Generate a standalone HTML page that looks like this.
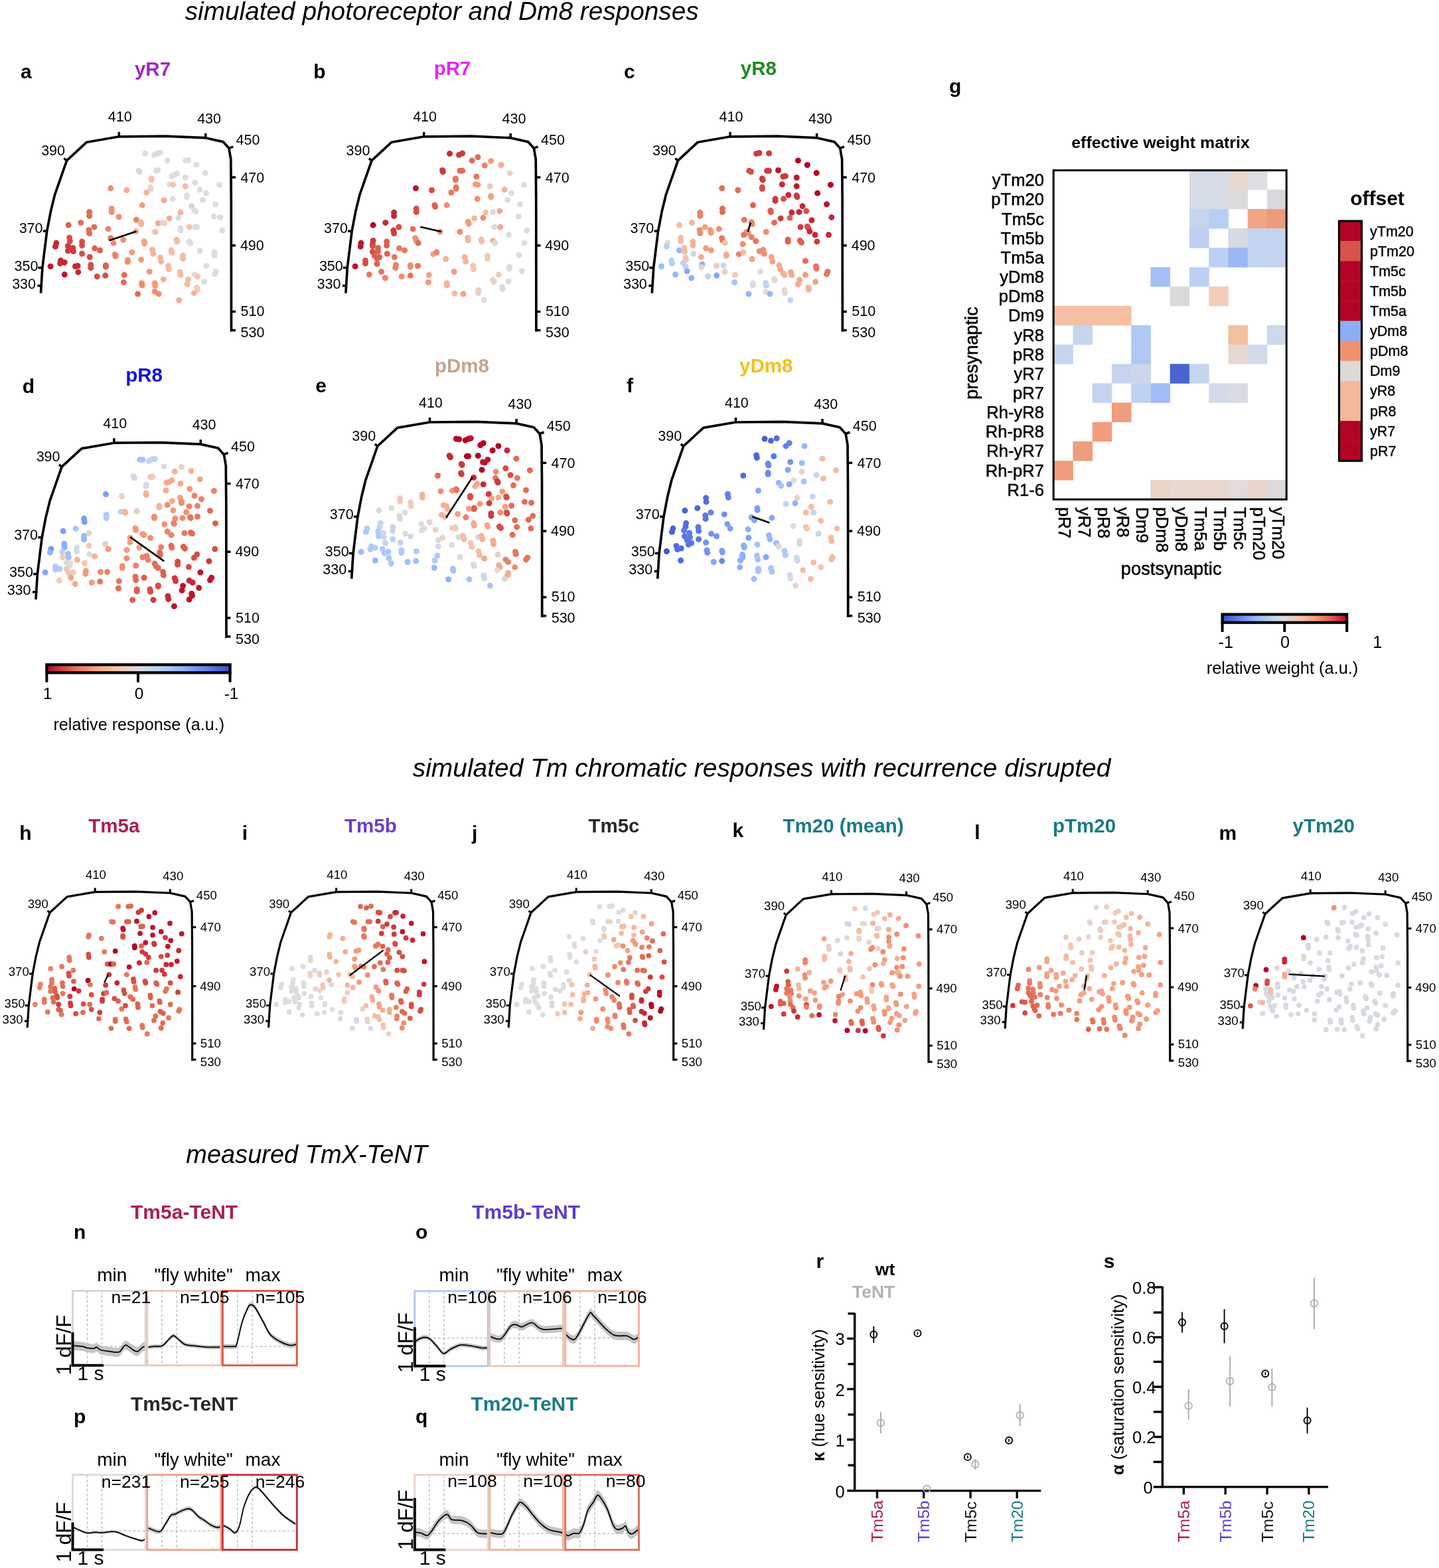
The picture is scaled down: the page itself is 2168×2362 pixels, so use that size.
<!DOCTYPE html>
<html><head><meta charset="utf-8"><style>
html,body{margin:0;padding:0;background:#fff;}
svg{display:block;}
text{font-family:'Liberation Sans', Arial, Helvetica, sans-serif;}
</style></head><body>
<svg xmlns="http://www.w3.org/2000/svg" width="2168" height="2362" viewBox="0 0 2168 2362">
<rect width="2168" height="2362" fill="#fff"/>
<text x="278.7" y="30.0" font-size="38.5" text-anchor="start" font-style="italic" textLength="774" lengthAdjust="spacingAndGlyphs">simulated photoreceptor and Dm8 responses</text>
<text x="621.7" y="1170.4" font-size="38.5" text-anchor="start" font-style="italic" textLength="1051.7" lengthAdjust="spacingAndGlyphs">simulated Tm chromatic responses with recurrence disrupted</text>
<text x="280.3" y="1752.0" font-size="38.5" text-anchor="start" font-style="italic" textLength="363.7" lengthAdjust="spacingAndGlyphs">measured TmX-TeNT</text>
<g transform="translate(0.00,0.00) scale(1)">
<polyline points="61.5,441.6 63.9,403.3 70.7,348.4 76.5,318 82.5,293.5 100.6,241.8 130.6,214.2 179.3,205.8 250.4,205.2 309.8,207.7 336.1,213.6 344.9,223.3 347.8,239.9 348.3,300 348.5,499.6" fill="none" stroke="#000" stroke-width="3.7" stroke-linejoin="round"/>
<line x1="100.6" y1="241.8" x2="96.5" y2="238.6" stroke="#000" stroke-width="3.5"/>
<line x1="179.3" y1="205.8" x2="179.3" y2="198.8" stroke="#000" stroke-width="3.5"/>
<line x1="309.8" y1="207.7" x2="309.8" y2="200.8" stroke="#000" stroke-width="3.5"/>
<line x1="344.9" y1="223.3" x2="351.2" y2="220.8" stroke="#000" stroke-width="3.5"/>
<line x1="348.3" y1="267.1" x2="355" y2="267.1" stroke="#000" stroke-width="3.5"/>
<line x1="348.4" y1="369.8" x2="355" y2="369.8" stroke="#000" stroke-width="3.5"/>
<line x1="348.5" y1="469.4" x2="355" y2="469.4" stroke="#000" stroke-width="3.5"/>
<line x1="348.5" y1="497.5" x2="355" y2="497.5" stroke="#000" stroke-width="3.5"/>
<line x1="69.6" y1="348.1" x2="64.8" y2="348.1" stroke="#000" stroke-width="3.5"/>
<line x1="63.9" y1="403.3" x2="57.5" y2="403.3" stroke="#000" stroke-width="3.5"/>
<line x1="61.8" y1="430.4" x2="56.5" y2="430.4" stroke="#000" stroke-width="3.5"/>
<text x="180.7" y="183.4" font-size="21.5" text-anchor="middle">410</text>
<text x="315.1" y="185.7" font-size="21.5" text-anchor="middle">430</text>
<text x="355.6" y="218.4" font-size="21.5" text-anchor="start">450</text>
<text x="362.4" y="274.5" font-size="21.5" text-anchor="start">470</text>
<text x="361.9" y="376.7" font-size="21.5" text-anchor="start">490</text>
<text x="362.5" y="476.3" font-size="21.5" text-anchor="start">510</text>
<text x="362.5" y="508.3" font-size="21.5" text-anchor="start">530</text>
<text x="98.0" y="233.6" font-size="21.5" text-anchor="end">390</text>
<text x="64.5" y="351.4" font-size="21.5" text-anchor="end">370</text>
<text x="57.4" y="407.7" font-size="21.5" text-anchor="end">350</text>
<text x="54.0" y="434.7" font-size="21.5" text-anchor="end">330</text>
<circle cx="218.6" cy="231.4" r="4.5" fill="#dddddd"/>
<circle cx="232.5" cy="233.2" r="4.5" fill="#dddddd"/>
<circle cx="236.8" cy="231.0" r="4.5" fill="#dddddd"/>
<circle cx="241.2" cy="229.9" r="4.5" fill="#dddddd"/>
<circle cx="252.2" cy="241.9" r="4.5" fill="#dddddd"/>
<circle cx="279.9" cy="241.9" r="4.5" fill="#dddddd"/>
<circle cx="283.6" cy="241.2" r="4.5" fill="#dddddd"/>
<circle cx="296.0" cy="248.1" r="4.5" fill="#dddddd"/>
<circle cx="209.1" cy="257.3" r="4.5" fill="#e2d8d3"/>
<circle cx="210.5" cy="258.7" r="4.5" fill="#e2d8d3"/>
<circle cx="235.4" cy="257.3" r="4.5" fill="#dddddd"/>
<circle cx="237.6" cy="256.5" r="4.5" fill="#dddddd"/>
<circle cx="309.2" cy="260.6" r="4.5" fill="#dddddd"/>
<circle cx="258.8" cy="265.3" r="4.5" fill="#dddddd"/>
<circle cx="262.4" cy="263.8" r="4.5" fill="#dddddd"/>
<circle cx="266.8" cy="261.6" r="4.5" fill="#dddddd"/>
<circle cx="279.2" cy="267.5" r="4.5" fill="#dddddd"/>
<circle cx="228.1" cy="268.9" r="4.5" fill="#f5c4ad"/>
<circle cx="228.1" cy="271.1" r="4.5" fill="#f5c4ad"/>
<circle cx="293.8" cy="275.2" r="4.5" fill="#dddddd"/>
<circle cx="255.8" cy="277.7" r="4.5" fill="#dddddd"/>
<circle cx="260.9" cy="278.4" r="4.5" fill="#f5c4ad"/>
<circle cx="279.2" cy="280.6" r="4.5" fill="#f5bca3"/>
<circle cx="330.4" cy="278.4" r="4.5" fill="#dddddd"/>
<circle cx="226.6" cy="282.1" r="4.5" fill="#e2d8d3"/>
<circle cx="227.3" cy="285.0" r="4.5" fill="#e2d8d3"/>
<circle cx="166.7" cy="283.6" r="4.5" fill="#f08e72"/>
<circle cx="190.8" cy="286.5" r="4.5" fill="#f4ab8f"/>
<circle cx="301.1" cy="285.8" r="4.5" fill="#dddddd"/>
<circle cx="310.6" cy="290.9" r="4.5" fill="#dddddd"/>
<circle cx="220.8" cy="290.1" r="4.5" fill="#f5b399"/>
<circle cx="281.4" cy="294.5" r="4.5" fill="#dddddd"/>
<circle cx="281.4" cy="296.7" r="4.5" fill="#dddddd"/>
<circle cx="260.2" cy="299.6" r="4.5" fill="#dddddd"/>
<circle cx="247.1" cy="301.8" r="4.5" fill="#f4ab8f"/>
<circle cx="305.5" cy="301.1" r="4.5" fill="#dddddd"/>
<circle cx="214.2" cy="309.1" r="4.5" fill="#f49a7b"/>
<circle cx="324.5" cy="307.7" r="4.5" fill="#dddddd"/>
<circle cx="288.7" cy="310.6" r="4.5" fill="#e7d3ca"/>
<circle cx="168.2" cy="314.2" r="4.5" fill="#f08e72"/>
<circle cx="168.2" cy="319.4" r="4.5" fill="#f08e72"/>
<circle cx="293.1" cy="317.2" r="4.5" fill="#dddddd"/>
<circle cx="295.3" cy="318.6" r="4.5" fill="#dddddd"/>
<circle cx="271.9" cy="320.1" r="4.5" fill="#f5b399"/>
<circle cx="134.6" cy="319.4" r="4.5" fill="#e26c56"/>
<circle cx="134.6" cy="325.2" r="4.5" fill="#e26c56"/>
<circle cx="179.1" cy="326.7" r="4.5" fill="#f08e72"/>
<circle cx="322.3" cy="325.9" r="4.5" fill="#dddddd"/>
<circle cx="331.8" cy="327.4" r="4.5" fill="#dddddd"/>
<circle cx="255.1" cy="328.9" r="4.5" fill="#f4ab8f"/>
<circle cx="269.0" cy="328.1" r="4.5" fill="#d6dae3"/>
<circle cx="205.4" cy="331.0" r="4.5" fill="#eb8369"/>
<circle cx="212.0" cy="334.7" r="4.5" fill="#f5b399"/>
<circle cx="212.7" cy="337.6" r="4.5" fill="#f5b399"/>
<circle cx="238.3" cy="336.2" r="4.5" fill="#f4ab8f"/>
<circle cx="244.9" cy="335.4" r="4.5" fill="#e7d3ca"/>
<circle cx="247.8" cy="336.2" r="4.5" fill="#e7d3ca"/>
<circle cx="103.1" cy="339.1" r="4.5" fill="#de604d"/>
<circle cx="121.8" cy="335.4" r="4.5" fill="#e26c56"/>
<circle cx="141.9" cy="342.0" r="4.5" fill="#e26c56"/>
<circle cx="163.1" cy="344.9" r="4.5" fill="#eb8369"/>
<circle cx="133.8" cy="346.4" r="4.5" fill="#e26c56"/>
<circle cx="134.6" cy="351.5" r="4.5" fill="#e26c56"/>
<circle cx="285.1" cy="342.0" r="4.5" fill="#f5c4ad"/>
<circle cx="293.8" cy="342.0" r="4.5" fill="#dddddd"/>
<circle cx="296.7" cy="342.0" r="4.5" fill="#dddddd"/>
<circle cx="271.9" cy="343.5" r="4.5" fill="#dddddd"/>
<circle cx="271.9" cy="347.1" r="4.5" fill="#dddddd"/>
<circle cx="334.7" cy="347.1" r="4.5" fill="#dddddd"/>
<circle cx="204.7" cy="348.6" r="4.5" fill="#f4ab8f"/>
<circle cx="233.9" cy="349.3" r="4.5" fill="#f5bca3"/>
<circle cx="104.6" cy="358.1" r="4.5" fill="#d64e45"/>
<circle cx="105.3" cy="363.2" r="4.5" fill="#d64e45"/>
<circle cx="166.7" cy="358.8" r="4.5" fill="#e7775f"/>
<circle cx="185.7" cy="361.0" r="4.5" fill="#f08e72"/>
<circle cx="84.9" cy="366.1" r="4.5" fill="#c52936"/>
<circle cx="83.4" cy="371.2" r="4.5" fill="#c52936"/>
<circle cx="123.6" cy="363.9" r="4.5" fill="#d64e45"/>
<circle cx="123.6" cy="369.8" r="4.5" fill="#d64e45"/>
<circle cx="171.1" cy="366.1" r="4.5" fill="#f08e72"/>
<circle cx="217.1" cy="363.9" r="4.5" fill="#f4a285"/>
<circle cx="217.8" cy="366.8" r="4.5" fill="#f4a285"/>
<circle cx="266.1" cy="361.0" r="4.5" fill="#f5bca3"/>
<circle cx="266.8" cy="363.9" r="4.5" fill="#f5bca3"/>
<circle cx="285.1" cy="363.9" r="4.5" fill="#dddddd"/>
<circle cx="286.5" cy="366.1" r="4.5" fill="#dddddd"/>
<circle cx="102.4" cy="370.5" r="4.5" fill="#cd3b3d"/>
<circle cx="102.4" cy="377.8" r="4.5" fill="#cd3b3d"/>
<circle cx="109.7" cy="373.4" r="4.5" fill="#cd3b3d"/>
<circle cx="110.5" cy="378.5" r="4.5" fill="#cd3b3d"/>
<circle cx="142.6" cy="374.1" r="4.5" fill="#de604d"/>
<circle cx="150.6" cy="377.1" r="4.5" fill="#de604d"/>
<circle cx="198.8" cy="380.0" r="4.5" fill="#f49a7b"/>
<circle cx="229.5" cy="376.3" r="4.5" fill="#f5b399"/>
<circle cx="231.0" cy="382.2" r="4.5" fill="#f5b399"/>
<circle cx="258.0" cy="377.1" r="4.5" fill="#f5bca3"/>
<circle cx="258.8" cy="380.7" r="4.5" fill="#f5bca3"/>
<circle cx="301.1" cy="377.8" r="4.5" fill="#dddddd"/>
<circle cx="323.0" cy="380.0" r="4.5" fill="#dddddd"/>
<circle cx="323.0" cy="385.1" r="4.5" fill="#dddddd"/>
<circle cx="123.6" cy="382.2" r="4.5" fill="#d64e45"/>
<circle cx="135.3" cy="387.3" r="4.5" fill="#d64e45"/>
<circle cx="173.3" cy="383.6" r="4.5" fill="#eb8369"/>
<circle cx="174.0" cy="385.8" r="4.5" fill="#eb8369"/>
<circle cx="241.2" cy="388.0" r="4.5" fill="#f5b399"/>
<circle cx="242.7" cy="393.9" r="4.5" fill="#f5b399"/>
<circle cx="275.6" cy="385.1" r="4.5" fill="#f5bca3"/>
<circle cx="275.6" cy="389.5" r="4.5" fill="#f5bca3"/>
<circle cx="91.5" cy="392.4" r="4.5" fill="#c52936"/>
<circle cx="97.3" cy="395.3" r="4.5" fill="#c52936"/>
<circle cx="90.7" cy="396.8" r="4.5" fill="#c52936"/>
<circle cx="192.3" cy="391.7" r="4.5" fill="#f08e72"/>
<circle cx="192.3" cy="394.6" r="4.5" fill="#f08e72"/>
<circle cx="212.7" cy="391.0" r="4.5" fill="#f49a7b"/>
<circle cx="76.1" cy="401.2" r="4.5" fill="#bc162e"/>
<circle cx="113.4" cy="401.2" r="4.5" fill="#c52936"/>
<circle cx="117.0" cy="400.5" r="4.5" fill="#c52936"/>
<circle cx="117.8" cy="409.9" r="4.5" fill="#c52936"/>
<circle cx="136.8" cy="399.0" r="4.5" fill="#d64e45"/>
<circle cx="136.8" cy="403.4" r="4.5" fill="#d64e45"/>
<circle cx="159.4" cy="399.7" r="4.5" fill="#de604d"/>
<circle cx="159.4" cy="401.9" r="4.5" fill="#de604d"/>
<circle cx="253.6" cy="400.5" r="4.5" fill="#f5bca3"/>
<circle cx="254.4" cy="405.6" r="4.5" fill="#f5bca3"/>
<circle cx="310.6" cy="400.5" r="4.5" fill="#dddddd"/>
<circle cx="225.1" cy="409.2" r="4.5" fill="#f49a7b"/>
<circle cx="271.2" cy="409.9" r="4.5" fill="#f5bca3"/>
<circle cx="271.9" cy="414.3" r="4.5" fill="#f5bca3"/>
<circle cx="325.2" cy="409.2" r="4.5" fill="#dddddd"/>
<circle cx="323.8" cy="412.9" r="4.5" fill="#dddddd"/>
<circle cx="293.1" cy="413.6" r="4.5" fill="#dddddd"/>
<circle cx="297.5" cy="416.5" r="4.5" fill="#f5c4ad"/>
<circle cx="97.3" cy="413.6" r="4.5" fill="#bc162e"/>
<circle cx="146.2" cy="416.5" r="4.5" fill="#d64e45"/>
<circle cx="158.7" cy="415.1" r="4.5" fill="#d64e45"/>
<circle cx="187.2" cy="414.3" r="4.5" fill="#e26c56"/>
<circle cx="186.4" cy="425.3" r="4.5" fill="#e26c56"/>
<circle cx="246.3" cy="420.9" r="4.5" fill="#f5b399"/>
<circle cx="307.7" cy="424.6" r="4.5" fill="#dddddd"/>
<circle cx="213.5" cy="426.8" r="4.5" fill="#f08e72"/>
<circle cx="214.2" cy="429.7" r="4.5" fill="#f08e72"/>
<circle cx="233.2" cy="426.8" r="4.5" fill="#f49a7b"/>
<circle cx="233.9" cy="430.4" r="4.5" fill="#f49a7b"/>
<circle cx="283.6" cy="420.9" r="4.5" fill="#f5bca3"/>
<circle cx="282.1" cy="428.2" r="4.5" fill="#f5bca3"/>
<circle cx="207.6" cy="442.8" r="4.5" fill="#e26c56"/>
<circle cx="233.2" cy="439.2" r="4.5" fill="#f08e72"/>
<circle cx="239.0" cy="442.8" r="4.5" fill="#f08e72"/>
<circle cx="296.7" cy="433.3" r="4.5" fill="#ebcec0"/>
<circle cx="297.5" cy="436.2" r="4.5" fill="#ebcec0"/>
<circle cx="292.4" cy="441.4" r="4.5" fill="#f5b399"/>
<circle cx="269.7" cy="452.3" r="4.5" fill="#f4ab8f"/>
<line x1="164.5" y1="362.2" x2="205.6" y2="348.6" stroke="#000" stroke-width="2.6"/>
</g>
<g transform="translate(459.40,0.00) scale(1)">
<polyline points="61.5,441.6 63.9,403.3 70.7,348.4 76.5,318 82.5,293.5 100.6,241.8 130.6,214.2 179.3,205.8 250.4,205.2 309.8,207.7 336.1,213.6 344.9,223.3 347.8,239.9 348.3,300 348.5,499.6" fill="none" stroke="#000" stroke-width="3.7" stroke-linejoin="round"/>
<line x1="100.6" y1="241.8" x2="96.5" y2="238.6" stroke="#000" stroke-width="3.5"/>
<line x1="179.3" y1="205.8" x2="179.3" y2="198.8" stroke="#000" stroke-width="3.5"/>
<line x1="309.8" y1="207.7" x2="309.8" y2="200.8" stroke="#000" stroke-width="3.5"/>
<line x1="344.9" y1="223.3" x2="351.2" y2="220.8" stroke="#000" stroke-width="3.5"/>
<line x1="348.3" y1="267.1" x2="355" y2="267.1" stroke="#000" stroke-width="3.5"/>
<line x1="348.4" y1="369.8" x2="355" y2="369.8" stroke="#000" stroke-width="3.5"/>
<line x1="348.5" y1="469.4" x2="355" y2="469.4" stroke="#000" stroke-width="3.5"/>
<line x1="348.5" y1="497.5" x2="355" y2="497.5" stroke="#000" stroke-width="3.5"/>
<line x1="69.6" y1="348.1" x2="64.8" y2="348.1" stroke="#000" stroke-width="3.5"/>
<line x1="63.9" y1="403.3" x2="57.5" y2="403.3" stroke="#000" stroke-width="3.5"/>
<line x1="61.8" y1="430.4" x2="56.5" y2="430.4" stroke="#000" stroke-width="3.5"/>
<text x="180.7" y="183.4" font-size="21.5" text-anchor="middle">410</text>
<text x="315.1" y="185.7" font-size="21.5" text-anchor="middle">430</text>
<text x="355.6" y="218.4" font-size="21.5" text-anchor="start">450</text>
<text x="362.4" y="274.5" font-size="21.5" text-anchor="start">470</text>
<text x="361.9" y="376.7" font-size="21.5" text-anchor="start">490</text>
<text x="362.5" y="476.3" font-size="21.5" text-anchor="start">510</text>
<text x="362.5" y="508.3" font-size="21.5" text-anchor="start">530</text>
<text x="98.0" y="233.6" font-size="21.5" text-anchor="end">390</text>
<text x="64.5" y="351.4" font-size="21.5" text-anchor="end">370</text>
<text x="57.4" y="407.7" font-size="21.5" text-anchor="end">350</text>
<text x="54.0" y="434.7" font-size="21.5" text-anchor="end">330</text>
<circle cx="218.2" cy="231.4" r="4.5" fill="#c52936"/>
<circle cx="232.1" cy="233.2" r="4.5" fill="#cd3b3d"/>
<circle cx="237.2" cy="231.0" r="4.5" fill="#cd3b3d"/>
<circle cx="251.8" cy="241.9" r="4.5" fill="#e26c56"/>
<circle cx="260.5" cy="236.8" r="4.5" fill="#e26c56"/>
<circle cx="280.3" cy="242.6" r="4.5" fill="#f49a7b"/>
<circle cx="270.8" cy="249.2" r="4.5" fill="#eb8369"/>
<circle cx="295.6" cy="248.5" r="4.5" fill="#f4ab8f"/>
<circle cx="207.2" cy="256.5" r="4.5" fill="#cd3b3d"/>
<circle cx="207.9" cy="258.7" r="4.5" fill="#cd3b3d"/>
<circle cx="233.5" cy="257.3" r="4.5" fill="#e26c56"/>
<circle cx="237.2" cy="257.3" r="4.5" fill="#e26c56"/>
<circle cx="308.8" cy="260.9" r="4.5" fill="#e7d3ca"/>
<circle cx="258.4" cy="266.0" r="4.5" fill="#e7775f"/>
<circle cx="226.9" cy="268.9" r="4.5" fill="#e7775f"/>
<circle cx="226.9" cy="271.1" r="4.5" fill="#e7775f"/>
<circle cx="256.9" cy="277.7" r="4.5" fill="#f49a7b"/>
<circle cx="260.5" cy="278.4" r="4.5" fill="#f49a7b"/>
<circle cx="278.8" cy="280.6" r="4.5" fill="#f0c9b7"/>
<circle cx="330.0" cy="278.4" r="4.5" fill="#dddddd"/>
<circle cx="167.0" cy="283.6" r="4.5" fill="#bc162e"/>
<circle cx="191.1" cy="286.5" r="4.5" fill="#d64e45"/>
<circle cx="227.7" cy="282.1" r="4.5" fill="#e7775f"/>
<circle cx="227.7" cy="284.3" r="4.5" fill="#e7775f"/>
<circle cx="300.7" cy="285.8" r="4.5" fill="#f5b399"/>
<circle cx="311.0" cy="290.9" r="4.5" fill="#dddddd"/>
<circle cx="220.4" cy="290.1" r="4.5" fill="#e7775f"/>
<circle cx="280.3" cy="295.2" r="4.5" fill="#f4a285"/>
<circle cx="280.3" cy="296.7" r="4.5" fill="#f4a285"/>
<circle cx="259.8" cy="299.6" r="4.5" fill="#f08e72"/>
<circle cx="305.1" cy="301.1" r="4.5" fill="#dddddd"/>
<circle cx="195.5" cy="309.1" r="4.5" fill="#de604d"/>
<circle cx="196.3" cy="311.3" r="4.5" fill="#de604d"/>
<circle cx="213.8" cy="309.1" r="4.5" fill="#f08e72"/>
<circle cx="324.1" cy="307.7" r="4.5" fill="#dddddd"/>
<circle cx="167.8" cy="314.2" r="4.5" fill="#d64e45"/>
<circle cx="167.8" cy="319.4" r="4.5" fill="#d64e45"/>
<circle cx="134.2" cy="320.1" r="4.5" fill="#c52936"/>
<circle cx="134.2" cy="325.2" r="4.5" fill="#c52936"/>
<circle cx="272.2" cy="320.1" r="4.5" fill="#f5c4ad"/>
<circle cx="283.2" cy="319.4" r="4.5" fill="#d6dae3"/>
<circle cx="293.4" cy="317.9" r="4.5" fill="#f4ab8f"/>
<circle cx="321.9" cy="325.9" r="4.5" fill="#dddddd"/>
<circle cx="255.4" cy="328.9" r="4.5" fill="#f5b399"/>
<circle cx="268.6" cy="328.1" r="4.5" fill="#f08e72"/>
<circle cx="245.9" cy="334.0" r="4.5" fill="#f49a7b"/>
<circle cx="246.7" cy="336.9" r="4.5" fill="#f49a7b"/>
<circle cx="102.7" cy="339.1" r="4.5" fill="#b40426"/>
<circle cx="121.4" cy="335.4" r="4.5" fill="#c52936"/>
<circle cx="141.5" cy="342.0" r="4.5" fill="#d64e45"/>
<circle cx="162.7" cy="344.9" r="4.5" fill="#e26c56"/>
<circle cx="133.4" cy="347.1" r="4.5" fill="#cd3b3d"/>
<circle cx="134.2" cy="351.5" r="4.5" fill="#cd3b3d"/>
<circle cx="285.4" cy="342.0" r="4.5" fill="#dddddd"/>
<circle cx="294.2" cy="342.0" r="4.5" fill="#f4ab8f"/>
<circle cx="334.3" cy="347.1" r="4.5" fill="#dddddd"/>
<circle cx="203.6" cy="349.3" r="4.5" fill="#f49a7b"/>
<circle cx="233.5" cy="349.3" r="4.5" fill="#f08e72"/>
<circle cx="307.3" cy="353.7" r="4.5" fill="#dddddd"/>
<circle cx="102.7" cy="362.5" r="4.5" fill="#cd3b3d"/>
<circle cx="102.0" cy="367.6" r="4.5" fill="#cd3b3d"/>
<circle cx="84.5" cy="366.1" r="4.5" fill="#bc162e"/>
<circle cx="83.8" cy="371.2" r="4.5" fill="#bc162e"/>
<circle cx="123.2" cy="363.9" r="4.5" fill="#de604d"/>
<circle cx="123.2" cy="369.8" r="4.5" fill="#de604d"/>
<circle cx="166.3" cy="358.8" r="4.5" fill="#f08e72"/>
<circle cx="167.8" cy="362.5" r="4.5" fill="#f08e72"/>
<circle cx="170.7" cy="366.1" r="4.5" fill="#e26c56"/>
<circle cx="245.2" cy="358.1" r="4.5" fill="#f5b399"/>
<circle cx="245.9" cy="361.7" r="4.5" fill="#f5b399"/>
<circle cx="265.7" cy="361.0" r="4.5" fill="#f5bca3"/>
<circle cx="266.4" cy="363.9" r="4.5" fill="#f5bca3"/>
<circle cx="283.2" cy="362.5" r="4.5" fill="#f5b399"/>
<circle cx="286.1" cy="366.1" r="4.5" fill="#e2d8d3"/>
<circle cx="330.7" cy="366.1" r="4.5" fill="#dddddd"/>
<circle cx="102.0" cy="370.5" r="4.5" fill="#d64e45"/>
<circle cx="102.0" cy="379.3" r="4.5" fill="#d64e45"/>
<circle cx="110.1" cy="373.4" r="4.5" fill="#de604d"/>
<circle cx="110.1" cy="378.5" r="4.5" fill="#de604d"/>
<circle cx="142.2" cy="374.1" r="4.5" fill="#e7775f"/>
<circle cx="150.2" cy="377.1" r="4.5" fill="#e7775f"/>
<circle cx="123.9" cy="382.2" r="4.5" fill="#de604d"/>
<circle cx="134.9" cy="387.3" r="4.5" fill="#e7775f"/>
<circle cx="193.3" cy="382.9" r="4.5" fill="#f4a285"/>
<circle cx="198.4" cy="380.0" r="4.5" fill="#eb8369"/>
<circle cx="212.3" cy="390.2" r="4.5" fill="#f5b399"/>
<circle cx="240.8" cy="387.3" r="4.5" fill="#f5b399"/>
<circle cx="242.3" cy="393.9" r="4.5" fill="#f5b399"/>
<circle cx="275.2" cy="385.1" r="4.5" fill="#ebcec0"/>
<circle cx="275.2" cy="389.5" r="4.5" fill="#ebcec0"/>
<circle cx="322.6" cy="384.4" r="4.5" fill="#dddddd"/>
<circle cx="91.1" cy="392.4" r="4.5" fill="#d64e45"/>
<circle cx="91.1" cy="396.8" r="4.5" fill="#d64e45"/>
<circle cx="104.9" cy="385.1" r="4.5" fill="#de604d"/>
<circle cx="108.6" cy="389.5" r="4.5" fill="#de604d"/>
<circle cx="112.2" cy="387.3" r="4.5" fill="#de604d"/>
<circle cx="108.6" cy="397.5" r="4.5" fill="#de604d"/>
<circle cx="75.7" cy="401.2" r="4.5" fill="#bc162e"/>
<circle cx="137.1" cy="399.0" r="4.5" fill="#eb8369"/>
<circle cx="136.4" cy="403.4" r="4.5" fill="#eb8369"/>
<circle cx="159.0" cy="399.7" r="4.5" fill="#f08e72"/>
<circle cx="159.0" cy="401.9" r="4.5" fill="#f08e72"/>
<circle cx="170.0" cy="400.5" r="4.5" fill="#e7775f"/>
<circle cx="253.2" cy="400.5" r="4.5" fill="#f5c4ad"/>
<circle cx="254.0" cy="405.6" r="4.5" fill="#f5c4ad"/>
<circle cx="308.0" cy="401.9" r="4.5" fill="#dddddd"/>
<circle cx="308.0" cy="404.8" r="4.5" fill="#dddddd"/>
<circle cx="224.7" cy="409.2" r="4.5" fill="#f49a7b"/>
<circle cx="327.0" cy="408.5" r="4.5" fill="#dddddd"/>
<circle cx="115.2" cy="409.2" r="4.5" fill="#e7775f"/>
<circle cx="96.9" cy="413.6" r="4.5" fill="#e7775f"/>
<circle cx="121.0" cy="418.7" r="4.5" fill="#eb8369"/>
<circle cx="145.8" cy="416.5" r="4.5" fill="#f08e72"/>
<circle cx="159.0" cy="415.1" r="4.5" fill="#e7775f"/>
<circle cx="186.8" cy="414.3" r="4.5" fill="#f4a285"/>
<circle cx="186.0" cy="425.3" r="4.5" fill="#f49a7b"/>
<circle cx="292.0" cy="413.6" r="4.5" fill="#ebcec0"/>
<circle cx="213.8" cy="426.8" r="4.5" fill="#f5b399"/>
<circle cx="213.8" cy="429.7" r="4.5" fill="#f5b399"/>
<circle cx="283.2" cy="421.6" r="4.5" fill="#e7d3ca"/>
<circle cx="284.7" cy="424.6" r="4.5" fill="#e7d3ca"/>
<circle cx="306.6" cy="423.8" r="4.5" fill="#dddddd"/>
<circle cx="297.1" cy="432.6" r="4.5" fill="#dddddd"/>
<circle cx="297.8" cy="435.5" r="4.5" fill="#dddddd"/>
<circle cx="225.5" cy="442.1" r="4.5" fill="#f5bca3"/>
<circle cx="238.6" cy="442.8" r="4.5" fill="#f4a285"/>
<circle cx="261.3" cy="437.0" r="4.5" fill="#ebcec0"/>
<circle cx="261.3" cy="441.4" r="4.5" fill="#ebcec0"/>
<circle cx="270.0" cy="452.3" r="4.5" fill="#dddddd"/>
<line x1="173.8" y1="341.8" x2="205.5" y2="349.1" stroke="#000" stroke-width="2.6"/>
</g>
<g transform="translate(920.80,0.00) scale(1)">
<polyline points="61.5,441.6 63.9,403.3 70.7,348.4 76.5,318 82.5,293.5 100.6,241.8 130.6,214.2 179.3,205.8 250.4,205.2 309.8,207.7 336.1,213.6 344.9,223.3 347.8,239.9 348.3,300 348.5,499.6" fill="none" stroke="#000" stroke-width="3.7" stroke-linejoin="round"/>
<line x1="100.6" y1="241.8" x2="96.5" y2="238.6" stroke="#000" stroke-width="3.5"/>
<line x1="179.3" y1="205.8" x2="179.3" y2="198.8" stroke="#000" stroke-width="3.5"/>
<line x1="309.8" y1="207.7" x2="309.8" y2="200.8" stroke="#000" stroke-width="3.5"/>
<line x1="344.9" y1="223.3" x2="351.2" y2="220.8" stroke="#000" stroke-width="3.5"/>
<line x1="348.3" y1="267.1" x2="355" y2="267.1" stroke="#000" stroke-width="3.5"/>
<line x1="348.4" y1="369.8" x2="355" y2="369.8" stroke="#000" stroke-width="3.5"/>
<line x1="348.5" y1="469.4" x2="355" y2="469.4" stroke="#000" stroke-width="3.5"/>
<line x1="348.5" y1="497.5" x2="355" y2="497.5" stroke="#000" stroke-width="3.5"/>
<line x1="69.6" y1="348.1" x2="64.8" y2="348.1" stroke="#000" stroke-width="3.5"/>
<line x1="63.9" y1="403.3" x2="57.5" y2="403.3" stroke="#000" stroke-width="3.5"/>
<line x1="61.8" y1="430.4" x2="56.5" y2="430.4" stroke="#000" stroke-width="3.5"/>
<text x="180.7" y="183.4" font-size="21.5" text-anchor="middle">410</text>
<text x="315.1" y="185.7" font-size="21.5" text-anchor="middle">430</text>
<text x="355.6" y="218.4" font-size="21.5" text-anchor="start">450</text>
<text x="362.4" y="274.5" font-size="21.5" text-anchor="start">470</text>
<text x="361.9" y="376.7" font-size="21.5" text-anchor="start">490</text>
<text x="362.5" y="476.3" font-size="21.5" text-anchor="start">510</text>
<text x="362.5" y="508.3" font-size="21.5" text-anchor="start">530</text>
<text x="98.0" y="233.6" font-size="21.5" text-anchor="end">390</text>
<text x="64.5" y="351.4" font-size="21.5" text-anchor="end">370</text>
<text x="57.4" y="407.7" font-size="21.5" text-anchor="end">350</text>
<text x="54.0" y="434.7" font-size="21.5" text-anchor="end">330</text>
<circle cx="218.8" cy="231.4" r="4.5" fill="#cd3b3d"/>
<circle cx="223.2" cy="230.5" r="4.5" fill="#cd3b3d"/>
<circle cx="237.8" cy="231.0" r="4.5" fill="#cd3b3d"/>
<circle cx="281.6" cy="241.9" r="4.5" fill="#b40426"/>
<circle cx="295.5" cy="248.5" r="4.5" fill="#b40426"/>
<circle cx="207.8" cy="257.3" r="4.5" fill="#d64e45"/>
<circle cx="210.7" cy="258.7" r="4.5" fill="#d64e45"/>
<circle cx="234.8" cy="257.3" r="4.5" fill="#cd3b3d"/>
<circle cx="237.8" cy="257.3" r="4.5" fill="#cd3b3d"/>
<circle cx="251.7" cy="256.5" r="4.5" fill="#bc162e"/>
<circle cx="309.4" cy="260.6" r="4.5" fill="#b40426"/>
<circle cx="259.0" cy="266.0" r="4.5" fill="#cd3b3d"/>
<circle cx="262.6" cy="265.3" r="4.5" fill="#cd3b3d"/>
<circle cx="279.4" cy="267.5" r="4.5" fill="#bc162e"/>
<circle cx="227.5" cy="268.9" r="4.5" fill="#cd3b3d"/>
<circle cx="228.3" cy="271.1" r="4.5" fill="#cd3b3d"/>
<circle cx="257.5" cy="277.7" r="4.5" fill="#c52936"/>
<circle cx="279.4" cy="280.6" r="4.5" fill="#bc162e"/>
<circle cx="330.6" cy="278.4" r="4.5" fill="#b40426"/>
<circle cx="166.9" cy="283.6" r="4.5" fill="#e26c56"/>
<circle cx="191.0" cy="286.5" r="4.5" fill="#e26c56"/>
<circle cx="227.5" cy="282.1" r="4.5" fill="#d64e45"/>
<circle cx="227.5" cy="284.3" r="4.5" fill="#d64e45"/>
<circle cx="310.8" cy="290.9" r="4.5" fill="#b40426"/>
<circle cx="267.0" cy="293.8" r="4.5" fill="#c52936"/>
<circle cx="279.4" cy="294.5" r="4.5" fill="#cd3b3d"/>
<circle cx="280.1" cy="296.7" r="4.5" fill="#cd3b3d"/>
<circle cx="247.3" cy="299.6" r="4.5" fill="#cd3b3d"/>
<circle cx="247.3" cy="302.6" r="4.5" fill="#cd3b3d"/>
<circle cx="259.7" cy="299.6" r="4.5" fill="#d64e45"/>
<circle cx="213.7" cy="309.1" r="4.5" fill="#de604d"/>
<circle cx="324.7" cy="307.7" r="4.5" fill="#bc162e"/>
<circle cx="288.2" cy="310.6" r="4.5" fill="#c52936"/>
<circle cx="167.6" cy="314.2" r="4.5" fill="#e26c56"/>
<circle cx="167.6" cy="319.4" r="4.5" fill="#e26c56"/>
<circle cx="134.0" cy="320.1" r="4.5" fill="#eb8369"/>
<circle cx="134.0" cy="325.2" r="4.5" fill="#eb8369"/>
<circle cx="240.0" cy="317.2" r="4.5" fill="#de604d"/>
<circle cx="240.7" cy="319.4" r="4.5" fill="#de604d"/>
<circle cx="272.1" cy="320.1" r="4.5" fill="#c52936"/>
<circle cx="283.1" cy="319.4" r="4.5" fill="#c52936"/>
<circle cx="294.0" cy="317.9" r="4.5" fill="#d64e45"/>
<circle cx="332.0" cy="327.4" r="4.5" fill="#c52936"/>
<circle cx="255.3" cy="328.9" r="4.5" fill="#cd3b3d"/>
<circle cx="269.2" cy="328.1" r="4.5" fill="#de604d"/>
<circle cx="302.1" cy="331.8" r="4.5" fill="#c52936"/>
<circle cx="200.5" cy="331.0" r="4.5" fill="#e7775f"/>
<circle cx="211.5" cy="334.7" r="4.5" fill="#eb8369"/>
<circle cx="212.2" cy="337.6" r="4.5" fill="#eb8369"/>
<circle cx="245.8" cy="335.4" r="4.5" fill="#e26c56"/>
<circle cx="102.6" cy="339.1" r="4.5" fill="#f5bca3"/>
<circle cx="121.6" cy="335.4" r="4.5" fill="#f5b399"/>
<circle cx="141.3" cy="342.0" r="4.5" fill="#f4a285"/>
<circle cx="162.5" cy="344.9" r="4.5" fill="#f08e72"/>
<circle cx="133.3" cy="346.4" r="4.5" fill="#f08e72"/>
<circle cx="134.0" cy="351.5" r="4.5" fill="#f08e72"/>
<circle cx="149.4" cy="346.4" r="4.5" fill="#f49a7b"/>
<circle cx="150.1" cy="350.8" r="4.5" fill="#f49a7b"/>
<circle cx="285.3" cy="342.0" r="4.5" fill="#cd3b3d"/>
<circle cx="295.5" cy="341.3" r="4.5" fill="#d64e45"/>
<circle cx="296.9" cy="343.5" r="4.5" fill="#d64e45"/>
<circle cx="299.1" cy="348.6" r="4.5" fill="#c52936"/>
<circle cx="327.6" cy="353.7" r="4.5" fill="#c52936"/>
<circle cx="233.4" cy="349.3" r="4.5" fill="#f08e72"/>
<circle cx="204.2" cy="349.3" r="4.5" fill="#f08e72"/>
<circle cx="206.4" cy="350.8" r="4.5" fill="#f08e72"/>
<circle cx="199.8" cy="353.7" r="4.5" fill="#e7775f"/>
<circle cx="307.2" cy="353.7" r="4.5" fill="#c52936"/>
<circle cx="104.8" cy="358.1" r="4.5" fill="#f5bca3"/>
<circle cx="104.8" cy="363.2" r="4.5" fill="#f5bca3"/>
<circle cx="85.1" cy="365.4" r="4.5" fill="#dddddd"/>
<circle cx="83.6" cy="371.2" r="4.5" fill="#b8d0f9"/>
<circle cx="123.1" cy="363.9" r="4.5" fill="#f5b399"/>
<circle cx="123.1" cy="369.8" r="4.5" fill="#f5b399"/>
<circle cx="166.9" cy="358.8" r="4.5" fill="#e7775f"/>
<circle cx="167.6" cy="361.7" r="4.5" fill="#e7775f"/>
<circle cx="171.3" cy="366.1" r="4.5" fill="#f5bca3"/>
<circle cx="211.5" cy="357.3" r="4.5" fill="#eb8369"/>
<circle cx="218.0" cy="363.2" r="4.5" fill="#e7775f"/>
<circle cx="266.3" cy="361.0" r="4.5" fill="#de604d"/>
<circle cx="266.3" cy="363.9" r="4.5" fill="#de604d"/>
<circle cx="284.5" cy="362.5" r="4.5" fill="#de604d"/>
<circle cx="286.7" cy="365.4" r="4.5" fill="#de604d"/>
<circle cx="310.1" cy="363.9" r="4.5" fill="#cd3b3d"/>
<circle cx="102.6" cy="377.1" r="4.5" fill="#96b6fd"/>
<circle cx="109.9" cy="373.4" r="4.5" fill="#f5bca3"/>
<circle cx="110.7" cy="379.3" r="4.5" fill="#f5bca3"/>
<circle cx="123.8" cy="382.2" r="4.5" fill="#ced8e8"/>
<circle cx="142.8" cy="374.1" r="4.5" fill="#f49a7b"/>
<circle cx="150.8" cy="377.1" r="4.5" fill="#f49a7b"/>
<circle cx="198.3" cy="367.6" r="4.5" fill="#f08e72"/>
<circle cx="173.5" cy="383.6" r="4.5" fill="#f4ab8f"/>
<circle cx="173.5" cy="385.1" r="4.5" fill="#f4ab8f"/>
<circle cx="192.5" cy="382.9" r="4.5" fill="#eb8369"/>
<circle cx="199.0" cy="380.0" r="4.5" fill="#f5bca3"/>
<circle cx="223.2" cy="378.5" r="4.5" fill="#f08e72"/>
<circle cx="229.0" cy="376.3" r="4.5" fill="#f08e72"/>
<circle cx="230.5" cy="382.2" r="4.5" fill="#f08e72"/>
<circle cx="112.1" cy="388.0" r="4.5" fill="#f5c4ad"/>
<circle cx="112.8" cy="391.0" r="4.5" fill="#f5c4ad"/>
<circle cx="135.5" cy="387.3" r="4.5" fill="#f4ab8f"/>
<circle cx="212.2" cy="390.2" r="4.5" fill="#f4a285"/>
<circle cx="241.4" cy="387.3" r="4.5" fill="#f4a285"/>
<circle cx="242.9" cy="393.9" r="4.5" fill="#f4a285"/>
<circle cx="292.6" cy="393.1" r="4.5" fill="#e26c56"/>
<circle cx="90.9" cy="392.4" r="4.5" fill="#b8d0f9"/>
<circle cx="91.7" cy="396.8" r="4.5" fill="#b8d0f9"/>
<circle cx="75.6" cy="401.2" r="4.5" fill="#9ebdfc"/>
<circle cx="108.5" cy="396.1" r="4.5" fill="#bfd3f3"/>
<circle cx="112.1" cy="401.2" r="4.5" fill="#bfd3f3"/>
<circle cx="137.0" cy="398.3" r="4.5" fill="#8db0fe"/>
<circle cx="136.2" cy="402.6" r="4.5" fill="#e7d3ca"/>
<circle cx="158.9" cy="400.5" r="4.5" fill="#ebcec0"/>
<circle cx="169.1" cy="399.7" r="4.5" fill="#c7d5ee"/>
<circle cx="253.1" cy="399.7" r="4.5" fill="#f4ab8f"/>
<circle cx="254.6" cy="405.6" r="4.5" fill="#f4ab8f"/>
<circle cx="308.6" cy="401.2" r="4.5" fill="#e7775f"/>
<circle cx="309.4" cy="404.8" r="4.5" fill="#e7775f"/>
<circle cx="326.2" cy="409.2" r="4.5" fill="#e7775f"/>
<circle cx="324.7" cy="412.9" r="4.5" fill="#e7775f"/>
<circle cx="114.3" cy="408.5" r="4.5" fill="#84a7fa"/>
<circle cx="96.8" cy="413.6" r="4.5" fill="#96b6fd"/>
<circle cx="120.9" cy="418.7" r="4.5" fill="#8db0fe"/>
<circle cx="145.7" cy="416.5" r="4.5" fill="#bfd3f3"/>
<circle cx="158.9" cy="415.1" r="4.5" fill="#84a7fa"/>
<circle cx="171.3" cy="409.2" r="4.5" fill="#ebcec0"/>
<circle cx="186.6" cy="414.3" r="4.5" fill="#f0c9b7"/>
<circle cx="224.6" cy="409.2" r="4.5" fill="#dddddd"/>
<circle cx="259.0" cy="411.4" r="4.5" fill="#f5b399"/>
<circle cx="261.1" cy="414.3" r="4.5" fill="#f5b399"/>
<circle cx="270.6" cy="409.9" r="4.5" fill="#f4ab8f"/>
<circle cx="272.1" cy="414.3" r="4.5" fill="#f4ab8f"/>
<circle cx="292.6" cy="414.3" r="4.5" fill="#f49a7b"/>
<circle cx="185.9" cy="425.3" r="4.5" fill="#a7c3fb"/>
<circle cx="213.7" cy="426.8" r="4.5" fill="#dddddd"/>
<circle cx="213.7" cy="429.7" r="4.5" fill="#dddddd"/>
<circle cx="232.7" cy="426.0" r="4.5" fill="#bfd3f3"/>
<circle cx="233.4" cy="430.4" r="4.5" fill="#bfd3f3"/>
<circle cx="245.8" cy="420.2" r="4.5" fill="#e2d8d3"/>
<circle cx="246.5" cy="422.4" r="4.5" fill="#e2d8d3"/>
<circle cx="283.8" cy="421.6" r="4.5" fill="#f4ab8f"/>
<circle cx="281.6" cy="428.2" r="4.5" fill="#f4ab8f"/>
<circle cx="307.9" cy="424.6" r="4.5" fill="#f4a285"/>
<circle cx="207.1" cy="442.8" r="4.5" fill="#96b6fd"/>
<circle cx="232.7" cy="439.9" r="4.5" fill="#dddddd"/>
<circle cx="239.2" cy="442.8" r="4.5" fill="#96b6fd"/>
<circle cx="261.1" cy="437.0" r="4.5" fill="#e2d8d3"/>
<circle cx="261.9" cy="441.4" r="4.5" fill="#e2d8d3"/>
<circle cx="296.9" cy="433.3" r="4.5" fill="#f5b399"/>
<circle cx="297.7" cy="436.2" r="4.5" fill="#f5b399"/>
<circle cx="269.9" cy="452.3" r="4.5" fill="#bfd3f3"/>
<line x1="210.1" y1="335.1" x2="206" y2="349.1" stroke="#000" stroke-width="2.6"/>
</g>
<g transform="translate(-7.50,461.40) scale(1)">
<polyline points="61.5,441.6 63.9,403.3 70.7,348.4 76.5,318 82.5,293.5 100.6,241.8 130.6,214.2 179.3,205.8 250.4,205.2 309.8,207.7 336.1,213.6 344.9,223.3 347.8,239.9 348.3,300 348.5,499.6" fill="none" stroke="#000" stroke-width="3.7" stroke-linejoin="round"/>
<line x1="100.6" y1="241.8" x2="96.5" y2="238.6" stroke="#000" stroke-width="3.5"/>
<line x1="179.3" y1="205.8" x2="179.3" y2="198.8" stroke="#000" stroke-width="3.5"/>
<line x1="309.8" y1="207.7" x2="309.8" y2="200.8" stroke="#000" stroke-width="3.5"/>
<line x1="344.9" y1="223.3" x2="351.2" y2="220.8" stroke="#000" stroke-width="3.5"/>
<line x1="348.3" y1="267.1" x2="355" y2="267.1" stroke="#000" stroke-width="3.5"/>
<line x1="348.4" y1="369.8" x2="355" y2="369.8" stroke="#000" stroke-width="3.5"/>
<line x1="348.5" y1="469.4" x2="355" y2="469.4" stroke="#000" stroke-width="3.5"/>
<line x1="348.5" y1="497.5" x2="355" y2="497.5" stroke="#000" stroke-width="3.5"/>
<line x1="69.6" y1="348.1" x2="64.8" y2="348.1" stroke="#000" stroke-width="3.5"/>
<line x1="63.9" y1="403.3" x2="57.5" y2="403.3" stroke="#000" stroke-width="3.5"/>
<line x1="61.8" y1="430.4" x2="56.5" y2="430.4" stroke="#000" stroke-width="3.5"/>
<text x="180.7" y="183.4" font-size="21.5" text-anchor="middle">410</text>
<text x="315.1" y="185.7" font-size="21.5" text-anchor="middle">430</text>
<text x="355.6" y="218.4" font-size="21.5" text-anchor="start">450</text>
<text x="362.4" y="274.5" font-size="21.5" text-anchor="start">470</text>
<text x="361.9" y="376.7" font-size="21.5" text-anchor="start">490</text>
<text x="362.5" y="476.3" font-size="21.5" text-anchor="start">510</text>
<text x="362.5" y="508.3" font-size="21.5" text-anchor="start">530</text>
<text x="98.0" y="233.6" font-size="21.5" text-anchor="end">390</text>
<text x="64.5" y="351.4" font-size="21.5" text-anchor="end">370</text>
<text x="57.4" y="407.7" font-size="21.5" text-anchor="end">350</text>
<text x="54.0" y="434.7" font-size="21.5" text-anchor="end">330</text>
<circle cx="218.1" cy="231.0" r="4.5" fill="#a7c3fb"/>
<circle cx="222.5" cy="231.0" r="4.5" fill="#a7c3fb"/>
<circle cx="232.0" cy="232.8" r="4.5" fill="#bfd3f3"/>
<circle cx="237.1" cy="230.6" r="4.5" fill="#bfd3f3"/>
<circle cx="240.7" cy="229.8" r="4.5" fill="#bfd3f3"/>
<circle cx="254.6" cy="241.5" r="4.5" fill="#dddddd"/>
<circle cx="280.9" cy="242.2" r="4.5" fill="#e7d3ca"/>
<circle cx="270.7" cy="248.8" r="4.5" fill="#f5b399"/>
<circle cx="295.5" cy="248.1" r="4.5" fill="#f5b399"/>
<circle cx="208.6" cy="256.1" r="4.5" fill="#ced8e8"/>
<circle cx="210.0" cy="258.3" r="4.5" fill="#ced8e8"/>
<circle cx="234.1" cy="256.9" r="4.5" fill="#f0c9b7"/>
<circle cx="237.1" cy="256.9" r="4.5" fill="#f0c9b7"/>
<circle cx="308.7" cy="260.5" r="4.5" fill="#f4a285"/>
<circle cx="258.3" cy="265.6" r="4.5" fill="#f4ab8f"/>
<circle cx="261.9" cy="264.9" r="4.5" fill="#f4ab8f"/>
<circle cx="266.3" cy="262.0" r="4.5" fill="#f4ab8f"/>
<circle cx="279.4" cy="267.1" r="4.5" fill="#f4ab8f"/>
<circle cx="227.6" cy="268.5" r="4.5" fill="#d6dae3"/>
<circle cx="227.6" cy="270.7" r="4.5" fill="#d6dae3"/>
<circle cx="257.5" cy="277.3" r="4.5" fill="#f4ab8f"/>
<circle cx="293.3" cy="275.1" r="4.5" fill="#f49a7b"/>
<circle cx="329.9" cy="278.0" r="4.5" fill="#eb8369"/>
<circle cx="166.9" cy="283.2" r="4.5" fill="#7c9ef6"/>
<circle cx="191.0" cy="286.1" r="4.5" fill="#e7d3ca"/>
<circle cx="227.6" cy="281.7" r="4.5" fill="#f5b399"/>
<circle cx="227.6" cy="283.9" r="4.5" fill="#f5b399"/>
<circle cx="278.7" cy="288.3" r="4.5" fill="#f4a285"/>
<circle cx="300.6" cy="285.4" r="4.5" fill="#eb8369"/>
<circle cx="310.9" cy="290.5" r="4.5" fill="#eb8369"/>
<circle cx="267.0" cy="293.4" r="4.5" fill="#f4ab8f"/>
<circle cx="280.9" cy="294.1" r="4.5" fill="#f08e72"/>
<circle cx="280.9" cy="296.3" r="4.5" fill="#f08e72"/>
<circle cx="247.3" cy="300.7" r="4.5" fill="#f5b399"/>
<circle cx="247.3" cy="302.9" r="4.5" fill="#f5b399"/>
<circle cx="259.7" cy="299.2" r="4.5" fill="#f08e72"/>
<circle cx="292.6" cy="301.4" r="4.5" fill="#eb8369"/>
<circle cx="305.0" cy="300.7" r="4.5" fill="#eb8369"/>
<circle cx="324.0" cy="308.0" r="4.5" fill="#e26c56"/>
<circle cx="189.6" cy="309.5" r="4.5" fill="#bfd3f3"/>
<circle cx="195.4" cy="309.5" r="4.5" fill="#f5b399"/>
<circle cx="196.2" cy="310.9" r="4.5" fill="#f5b399"/>
<circle cx="213.7" cy="308.7" r="4.5" fill="#ebcec0"/>
<circle cx="268.5" cy="307.3" r="4.5" fill="#f49a7b"/>
<circle cx="288.2" cy="310.2" r="4.5" fill="#f08e72"/>
<circle cx="167.7" cy="313.8" r="4.5" fill="#afcafa"/>
<circle cx="167.7" cy="319.0" r="4.5" fill="#afcafa"/>
<circle cx="134.1" cy="319.7" r="4.5" fill="#7c9ef6"/>
<circle cx="134.8" cy="324.8" r="4.5" fill="#7c9ef6"/>
<circle cx="240.0" cy="316.8" r="4.5" fill="#f08e72"/>
<circle cx="240.0" cy="319.0" r="4.5" fill="#f08e72"/>
<circle cx="271.4" cy="319.7" r="4.5" fill="#f08e72"/>
<circle cx="282.4" cy="319.0" r="4.5" fill="#f08e72"/>
<circle cx="294.1" cy="317.5" r="4.5" fill="#e7775f"/>
<circle cx="294.8" cy="319.0" r="4.5" fill="#e7775f"/>
<circle cx="305.0" cy="316.8" r="4.5" fill="#e7775f"/>
<circle cx="332.0" cy="327.0" r="4.5" fill="#de604d"/>
<circle cx="255.3" cy="328.5" r="4.5" fill="#f08e72"/>
<circle cx="269.2" cy="326.3" r="4.5" fill="#eb8369"/>
<circle cx="269.9" cy="327.7" r="4.5" fill="#eb8369"/>
<circle cx="102.6" cy="338.7" r="4.5" fill="#7c9ef6"/>
<circle cx="121.6" cy="335.0" r="4.5" fill="#a7c3fb"/>
<circle cx="141.4" cy="341.6" r="4.5" fill="#e7d3ca"/>
<circle cx="134.1" cy="346.0" r="4.5" fill="#96b6fd"/>
<circle cx="134.1" cy="351.1" r="4.5" fill="#96b6fd"/>
<circle cx="211.5" cy="334.3" r="4.5" fill="#f49a7b"/>
<circle cx="212.2" cy="337.2" r="4.5" fill="#f49a7b"/>
<circle cx="222.5" cy="343.1" r="4.5" fill="#f49a7b"/>
<circle cx="224.6" cy="344.5" r="4.5" fill="#f49a7b"/>
<circle cx="234.1" cy="348.9" r="4.5" fill="#f08e72"/>
<circle cx="259.7" cy="339.4" r="4.5" fill="#eb8369"/>
<circle cx="265.6" cy="344.5" r="4.5" fill="#eb8369"/>
<circle cx="285.3" cy="341.6" r="4.5" fill="#e7775f"/>
<circle cx="294.8" cy="340.9" r="4.5" fill="#e26c56"/>
<circle cx="297.0" cy="342.3" r="4.5" fill="#e26c56"/>
<circle cx="203.5" cy="348.9" r="4.5" fill="#f49a7b"/>
<circle cx="203.5" cy="355.5" r="4.5" fill="#f49a7b"/>
<circle cx="104.1" cy="357.7" r="4.5" fill="#8db0fe"/>
<circle cx="104.8" cy="362.8" r="4.5" fill="#8db0fe"/>
<circle cx="84.4" cy="365.7" r="4.5" fill="#7394f2"/>
<circle cx="82.9" cy="370.8" r="4.5" fill="#96b6fd"/>
<circle cx="123.1" cy="363.5" r="4.5" fill="#d6dae3"/>
<circle cx="123.1" cy="369.4" r="4.5" fill="#d6dae3"/>
<circle cx="141.4" cy="360.6" r="4.5" fill="#f0c9b7"/>
<circle cx="166.2" cy="358.4" r="4.5" fill="#f0c9b7"/>
<circle cx="170.6" cy="365.7" r="4.5" fill="#f49a7b"/>
<circle cx="217.3" cy="363.5" r="4.5" fill="#f49a7b"/>
<circle cx="250.2" cy="362.8" r="4.5" fill="#eb8369"/>
<circle cx="265.6" cy="360.6" r="4.5" fill="#e26c56"/>
<circle cx="266.3" cy="363.5" r="4.5" fill="#e26c56"/>
<circle cx="283.8" cy="362.1" r="4.5" fill="#de604d"/>
<circle cx="286.0" cy="365.0" r="4.5" fill="#de604d"/>
<circle cx="331.3" cy="365.7" r="4.5" fill="#d64e45"/>
<circle cx="101.2" cy="370.1" r="4.5" fill="#bfd3f3"/>
<circle cx="110.0" cy="373.0" r="4.5" fill="#9ebdfc"/>
<circle cx="110.7" cy="378.1" r="4.5" fill="#9ebdfc"/>
<circle cx="142.1" cy="373.7" r="4.5" fill="#dddddd"/>
<circle cx="150.1" cy="376.7" r="4.5" fill="#f5b399"/>
<circle cx="198.3" cy="367.2" r="4.5" fill="#f49a7b"/>
<circle cx="248.0" cy="370.8" r="4.5" fill="#e26c56"/>
<circle cx="248.8" cy="374.5" r="4.5" fill="#e26c56"/>
<circle cx="101.9" cy="378.1" r="4.5" fill="#f0c9b7"/>
<circle cx="198.3" cy="379.6" r="4.5" fill="#f08e72"/>
<circle cx="222.5" cy="378.1" r="4.5" fill="#eb8369"/>
<circle cx="228.3" cy="375.9" r="4.5" fill="#eb8369"/>
<circle cx="230.5" cy="381.8" r="4.5" fill="#eb8369"/>
<circle cx="299.9" cy="378.9" r="4.5" fill="#d64e45"/>
<circle cx="304.3" cy="373.7" r="4.5" fill="#d64e45"/>
<circle cx="123.8" cy="381.8" r="4.5" fill="#f5b399"/>
<circle cx="134.8" cy="386.9" r="4.5" fill="#f5c4ad"/>
<circle cx="107.8" cy="386.2" r="4.5" fill="#dddddd"/>
<circle cx="113.6" cy="387.6" r="4.5" fill="#dddddd"/>
<circle cx="112.1" cy="391.3" r="4.5" fill="#dddddd"/>
<circle cx="240.7" cy="387.6" r="4.5" fill="#e26c56"/>
<circle cx="242.9" cy="392.0" r="4.5" fill="#e26c56"/>
<circle cx="245.8" cy="394.2" r="4.5" fill="#e26c56"/>
<circle cx="275.1" cy="384.7" r="4.5" fill="#d64e45"/>
<circle cx="275.1" cy="389.1" r="4.5" fill="#d64e45"/>
<circle cx="322.5" cy="384.0" r="4.5" fill="#cd3b3d"/>
<circle cx="91.0" cy="392.0" r="4.5" fill="#afcafa"/>
<circle cx="91.0" cy="396.4" r="4.5" fill="#afcafa"/>
<circle cx="97.5" cy="395.7" r="4.5" fill="#afcafa"/>
<circle cx="191.8" cy="391.3" r="4.5" fill="#f08e72"/>
<circle cx="191.8" cy="394.2" r="4.5" fill="#f08e72"/>
<circle cx="212.2" cy="390.6" r="4.5" fill="#eb8369"/>
<circle cx="291.9" cy="392.7" r="4.5" fill="#d64e45"/>
<circle cx="75.6" cy="400.8" r="4.5" fill="#84a7fa"/>
<circle cx="107.8" cy="395.7" r="4.5" fill="#f0c9b7"/>
<circle cx="110.7" cy="401.5" r="4.5" fill="#f0c9b7"/>
<circle cx="117.3" cy="400.8" r="4.5" fill="#f0c9b7"/>
<circle cx="137.0" cy="398.6" r="4.5" fill="#f49a7b"/>
<circle cx="136.3" cy="403.0" r="4.5" fill="#f49a7b"/>
<circle cx="158.9" cy="400.1" r="4.5" fill="#f08e72"/>
<circle cx="169.1" cy="400.1" r="4.5" fill="#eb8369"/>
<circle cx="253.1" cy="400.1" r="4.5" fill="#de604d"/>
<circle cx="253.9" cy="405.2" r="4.5" fill="#de604d"/>
<circle cx="309.4" cy="400.8" r="4.5" fill="#bc162e"/>
<circle cx="114.3" cy="408.8" r="4.5" fill="#f4a285"/>
<circle cx="96.8" cy="413.2" r="4.5" fill="#f0c9b7"/>
<circle cx="120.9" cy="418.3" r="4.5" fill="#f4ab8f"/>
<circle cx="145.7" cy="416.1" r="4.5" fill="#f49a7b"/>
<circle cx="158.2" cy="414.7" r="4.5" fill="#e7775f"/>
<circle cx="186.7" cy="413.9" r="4.5" fill="#e7775f"/>
<circle cx="211.5" cy="407.4" r="4.5" fill="#e26c56"/>
<circle cx="212.2" cy="412.5" r="4.5" fill="#e26c56"/>
<circle cx="224.6" cy="408.8" r="4.5" fill="#de604d"/>
<circle cx="270.7" cy="409.5" r="4.5" fill="#cd3b3d"/>
<circle cx="272.1" cy="413.9" r="4.5" fill="#cd3b3d"/>
<circle cx="292.6" cy="413.2" r="4.5" fill="#c52936"/>
<circle cx="297.7" cy="416.1" r="4.5" fill="#c52936"/>
<circle cx="326.2" cy="408.8" r="4.5" fill="#bc162e"/>
<circle cx="324.0" cy="412.5" r="4.5" fill="#bc162e"/>
<circle cx="185.9" cy="424.9" r="4.5" fill="#e26c56"/>
<circle cx="213.7" cy="426.4" r="4.5" fill="#de604d"/>
<circle cx="213.7" cy="429.3" r="4.5" fill="#de604d"/>
<circle cx="233.4" cy="426.4" r="4.5" fill="#d64e45"/>
<circle cx="234.1" cy="430.0" r="4.5" fill="#d64e45"/>
<circle cx="245.8" cy="420.5" r="4.5" fill="#d64e45"/>
<circle cx="245.8" cy="422.0" r="4.5" fill="#d64e45"/>
<circle cx="283.1" cy="421.2" r="4.5" fill="#bc162e"/>
<circle cx="281.6" cy="427.8" r="4.5" fill="#bc162e"/>
<circle cx="307.2" cy="424.2" r="4.5" fill="#bc162e"/>
<circle cx="207.1" cy="442.4" r="4.5" fill="#de604d"/>
<circle cx="238.5" cy="442.4" r="4.5" fill="#cd3b3d"/>
<circle cx="260.4" cy="436.6" r="4.5" fill="#c52936"/>
<circle cx="261.2" cy="441.0" r="4.5" fill="#c52936"/>
<circle cx="296.2" cy="432.9" r="4.5" fill="#bc162e"/>
<circle cx="297.0" cy="435.8" r="4.5" fill="#bc162e"/>
<circle cx="292.6" cy="441.7" r="4.5" fill="#bc162e"/>
<circle cx="269.9" cy="451.9" r="4.5" fill="#bc162e"/>
<line x1="203.6" y1="347.6" x2="254.8" y2="384" stroke="#000" stroke-width="2.6"/>
</g>
<g transform="translate(468.20,430.20) scale(1)">
<polyline points="61.5,441.6 63.9,403.3 70.7,348.4 76.5,318 82.5,293.5 100.6,241.8 130.6,214.2 179.3,205.8 250.4,205.2 309.8,207.7 336.1,213.6 344.9,223.3 347.8,239.9 348.3,300 348.5,499.6" fill="none" stroke="#000" stroke-width="3.7" stroke-linejoin="round"/>
<line x1="100.6" y1="241.8" x2="96.5" y2="238.6" stroke="#000" stroke-width="3.5"/>
<line x1="179.3" y1="205.8" x2="179.3" y2="198.8" stroke="#000" stroke-width="3.5"/>
<line x1="309.8" y1="207.7" x2="309.8" y2="200.8" stroke="#000" stroke-width="3.5"/>
<line x1="344.9" y1="223.3" x2="351.2" y2="220.8" stroke="#000" stroke-width="3.5"/>
<line x1="348.3" y1="267.1" x2="355" y2="267.1" stroke="#000" stroke-width="3.5"/>
<line x1="348.4" y1="369.8" x2="355" y2="369.8" stroke="#000" stroke-width="3.5"/>
<line x1="348.5" y1="469.4" x2="355" y2="469.4" stroke="#000" stroke-width="3.5"/>
<line x1="348.5" y1="497.5" x2="355" y2="497.5" stroke="#000" stroke-width="3.5"/>
<line x1="69.6" y1="348.1" x2="64.8" y2="348.1" stroke="#000" stroke-width="3.5"/>
<line x1="63.9" y1="403.3" x2="57.5" y2="403.3" stroke="#000" stroke-width="3.5"/>
<line x1="61.8" y1="430.4" x2="56.5" y2="430.4" stroke="#000" stroke-width="3.5"/>
<text x="180.7" y="183.4" font-size="21.5" text-anchor="middle">410</text>
<text x="315.1" y="185.7" font-size="21.5" text-anchor="middle">430</text>
<text x="355.6" y="218.4" font-size="21.5" text-anchor="start">450</text>
<text x="362.4" y="274.5" font-size="21.5" text-anchor="start">470</text>
<text x="361.9" y="376.7" font-size="21.5" text-anchor="start">490</text>
<text x="362.5" y="476.3" font-size="21.5" text-anchor="start">510</text>
<text x="362.5" y="508.3" font-size="21.5" text-anchor="start">530</text>
<text x="98.0" y="233.6" font-size="21.5" text-anchor="end">390</text>
<text x="64.5" y="351.4" font-size="21.5" text-anchor="end">370</text>
<text x="57.4" y="407.7" font-size="21.5" text-anchor="end">350</text>
<text x="54.0" y="434.7" font-size="21.5" text-anchor="end">330</text>
<circle cx="219.1" cy="230.8" r="4.5" fill="#b40426"/>
<circle cx="223.5" cy="231.5" r="4.5" fill="#b40426"/>
<circle cx="233.0" cy="233.0" r="4.5" fill="#b40426"/>
<circle cx="237.4" cy="230.8" r="4.5" fill="#b40426"/>
<circle cx="241.0" cy="230.0" r="4.5" fill="#bc162e"/>
<circle cx="255.6" cy="240.3" r="4.5" fill="#b40426"/>
<circle cx="260.0" cy="237.3" r="4.5" fill="#b40426"/>
<circle cx="282.7" cy="241.7" r="4.5" fill="#b40426"/>
<circle cx="273.9" cy="248.3" r="4.5" fill="#b40426"/>
<circle cx="295.8" cy="248.3" r="4.5" fill="#c52936"/>
<circle cx="208.9" cy="256.3" r="4.5" fill="#c52936"/>
<circle cx="210.3" cy="258.5" r="4.5" fill="#c52936"/>
<circle cx="235.2" cy="257.1" r="4.5" fill="#b40426"/>
<circle cx="237.4" cy="257.1" r="4.5" fill="#b40426"/>
<circle cx="252.0" cy="256.3" r="4.5" fill="#b40426"/>
<circle cx="259.3" cy="265.8" r="4.5" fill="#bc162e"/>
<circle cx="266.6" cy="262.2" r="4.5" fill="#bc162e"/>
<circle cx="262.2" cy="266.6" r="4.5" fill="#bc162e"/>
<circle cx="309.7" cy="260.7" r="4.5" fill="#e26c56"/>
<circle cx="227.1" cy="268.7" r="4.5" fill="#cd3b3d"/>
<circle cx="227.9" cy="270.2" r="4.5" fill="#cd3b3d"/>
<circle cx="257.8" cy="277.5" r="4.5" fill="#b40426"/>
<circle cx="293.6" cy="275.3" r="4.5" fill="#d64e45"/>
<circle cx="330.2" cy="278.2" r="4.5" fill="#e26c56"/>
<circle cx="191.3" cy="286.3" r="4.5" fill="#e26c56"/>
<circle cx="226.4" cy="282.6" r="4.5" fill="#cd3b3d"/>
<circle cx="227.1" cy="284.1" r="4.5" fill="#cd3b3d"/>
<circle cx="245.4" cy="289.2" r="4.5" fill="#c52936"/>
<circle cx="279.0" cy="280.4" r="4.5" fill="#f08e72"/>
<circle cx="300.9" cy="285.6" r="4.5" fill="#d64e45"/>
<circle cx="311.2" cy="289.9" r="4.5" fill="#e7775f"/>
<circle cx="278.3" cy="289.9" r="4.5" fill="#e7775f"/>
<circle cx="281.2" cy="295.0" r="4.5" fill="#cd3b3d"/>
<circle cx="281.9" cy="296.5" r="4.5" fill="#cd3b3d"/>
<circle cx="250.5" cy="298.0" r="4.5" fill="#f4ab8f"/>
<circle cx="247.6" cy="302.4" r="4.5" fill="#f4ab8f"/>
<circle cx="260.0" cy="299.4" r="4.5" fill="#c52936"/>
<circle cx="305.3" cy="300.9" r="4.5" fill="#e26c56"/>
<circle cx="195.7" cy="309.7" r="4.5" fill="#f08e72"/>
<circle cx="213.3" cy="308.9" r="4.5" fill="#f49a7b"/>
<circle cx="219.1" cy="306.7" r="4.5" fill="#e7775f"/>
<circle cx="219.8" cy="308.2" r="4.5" fill="#e7775f"/>
<circle cx="324.3" cy="308.2" r="4.5" fill="#e26c56"/>
<circle cx="288.5" cy="310.4" r="4.5" fill="#f49a7b"/>
<circle cx="168.0" cy="314.8" r="4.5" fill="#f5b399"/>
<circle cx="168.0" cy="319.2" r="4.5" fill="#f5b399"/>
<circle cx="240.3" cy="317.0" r="4.5" fill="#d64e45"/>
<circle cx="240.3" cy="319.2" r="4.5" fill="#d64e45"/>
<circle cx="268.1" cy="314.0" r="4.5" fill="#cd3b3d"/>
<circle cx="272.4" cy="320.6" r="4.5" fill="#f4a285"/>
<circle cx="282.7" cy="319.2" r="4.5" fill="#f4ab8f"/>
<circle cx="294.4" cy="317.7" r="4.5" fill="#d64e45"/>
<circle cx="295.1" cy="319.2" r="4.5" fill="#d64e45"/>
<circle cx="134.4" cy="320.6" r="4.5" fill="#f0c9b7"/>
<circle cx="134.4" cy="325.0" r="4.5" fill="#f0c9b7"/>
<circle cx="150.4" cy="326.5" r="4.5" fill="#ebcec0"/>
<circle cx="151.2" cy="332.3" r="4.5" fill="#ebcec0"/>
<circle cx="322.1" cy="325.7" r="4.5" fill="#e26c56"/>
<circle cx="332.3" cy="327.2" r="4.5" fill="#e26c56"/>
<circle cx="200.1" cy="330.8" r="4.5" fill="#f5b399"/>
<circle cx="204.5" cy="332.3" r="4.5" fill="#f5b399"/>
<circle cx="206.0" cy="336.7" r="4.5" fill="#f5b399"/>
<circle cx="254.9" cy="328.7" r="4.5" fill="#f49a7b"/>
<circle cx="268.8" cy="327.9" r="4.5" fill="#cd3b3d"/>
<circle cx="292.9" cy="333.0" r="4.5" fill="#f4a285"/>
<circle cx="302.4" cy="331.6" r="4.5" fill="#e26c56"/>
<circle cx="121.9" cy="335.2" r="4.5" fill="#dddddd"/>
<circle cx="102.9" cy="338.9" r="4.5" fill="#d6dae3"/>
<circle cx="141.7" cy="341.8" r="4.5" fill="#dddddd"/>
<circle cx="133.6" cy="346.9" r="4.5" fill="#e2d8d3"/>
<circle cx="134.4" cy="351.3" r="4.5" fill="#e2d8d3"/>
<circle cx="238.1" cy="336.0" r="4.5" fill="#f4a285"/>
<circle cx="246.1" cy="335.2" r="4.5" fill="#de604d"/>
<circle cx="246.1" cy="336.7" r="4.5" fill="#de604d"/>
<circle cx="221.3" cy="344.0" r="4.5" fill="#f4a285"/>
<circle cx="285.6" cy="341.8" r="4.5" fill="#f08e72"/>
<circle cx="295.1" cy="341.8" r="4.5" fill="#d64e45"/>
<circle cx="295.8" cy="343.3" r="4.5" fill="#d64e45"/>
<circle cx="271.7" cy="343.3" r="4.5" fill="#cd3b3d"/>
<circle cx="271.7" cy="346.9" r="4.5" fill="#cd3b3d"/>
<circle cx="197.2" cy="345.5" r="4.5" fill="#f5b399"/>
<circle cx="202.3" cy="348.4" r="4.5" fill="#f5b399"/>
<circle cx="233.7" cy="349.1" r="4.5" fill="#eb8369"/>
<circle cx="334.5" cy="346.9" r="4.5" fill="#e26c56"/>
<circle cx="328.0" cy="352.8" r="4.5" fill="#e26c56"/>
<circle cx="307.5" cy="353.5" r="4.5" fill="#e26c56"/>
<circle cx="105.1" cy="357.9" r="4.5" fill="#c7d5ee"/>
<circle cx="103.7" cy="363.7" r="4.5" fill="#c7d5ee"/>
<circle cx="84.7" cy="365.9" r="4.5" fill="#afcafa"/>
<circle cx="83.2" cy="371.0" r="4.5" fill="#afcafa"/>
<circle cx="123.4" cy="363.7" r="4.5" fill="#c7d5ee"/>
<circle cx="123.4" cy="369.6" r="4.5" fill="#c7d5ee"/>
<circle cx="166.5" cy="359.3" r="4.5" fill="#dddddd"/>
<circle cx="170.9" cy="365.9" r="4.5" fill="#dddddd"/>
<circle cx="167.2" cy="368.8" r="4.5" fill="#dddddd"/>
<circle cx="178.9" cy="356.4" r="4.5" fill="#e7d3ca"/>
<circle cx="187.7" cy="368.1" r="4.5" fill="#e7d3ca"/>
<circle cx="213.3" cy="365.2" r="4.5" fill="#ebcec0"/>
<circle cx="217.6" cy="363.7" r="4.5" fill="#ebcec0"/>
<circle cx="218.4" cy="365.9" r="4.5" fill="#ebcec0"/>
<circle cx="245.4" cy="357.9" r="4.5" fill="#f4ab8f"/>
<circle cx="246.1" cy="361.5" r="4.5" fill="#f4ab8f"/>
<circle cx="265.9" cy="360.8" r="4.5" fill="#f4ab8f"/>
<circle cx="266.6" cy="363.0" r="4.5" fill="#f4ab8f"/>
<circle cx="284.1" cy="363.0" r="4.5" fill="#d64e45"/>
<circle cx="286.3" cy="365.2" r="4.5" fill="#d64e45"/>
<circle cx="310.4" cy="363.7" r="4.5" fill="#e26c56"/>
<circle cx="331.6" cy="365.9" r="4.5" fill="#e26c56"/>
<circle cx="101.5" cy="370.3" r="4.5" fill="#afcafa"/>
<circle cx="102.2" cy="377.6" r="4.5" fill="#afcafa"/>
<circle cx="109.5" cy="372.5" r="4.5" fill="#ced8e8"/>
<circle cx="110.3" cy="379.1" r="4.5" fill="#ced8e8"/>
<circle cx="142.4" cy="373.9" r="4.5" fill="#d6dae3"/>
<circle cx="150.4" cy="377.6" r="4.5" fill="#d6dae3"/>
<circle cx="123.4" cy="382.0" r="4.5" fill="#b8d0f9"/>
<circle cx="198.6" cy="379.8" r="4.5" fill="#e7d3ca"/>
<circle cx="192.1" cy="383.4" r="4.5" fill="#d6dae3"/>
<circle cx="222.8" cy="379.1" r="4.5" fill="#d6dae3"/>
<circle cx="229.3" cy="376.9" r="4.5" fill="#f5bca3"/>
<circle cx="230.8" cy="382.0" r="4.5" fill="#f5bca3"/>
<circle cx="252.0" cy="379.1" r="4.5" fill="#d6dae3"/>
<circle cx="257.1" cy="376.9" r="4.5" fill="#f5b399"/>
<circle cx="258.6" cy="382.0" r="4.5" fill="#f5b399"/>
<circle cx="303.9" cy="375.4" r="4.5" fill="#e26c56"/>
<circle cx="135.1" cy="387.1" r="4.5" fill="#bfd3f3"/>
<circle cx="112.4" cy="387.8" r="4.5" fill="#c7d5ee"/>
<circle cx="91.3" cy="392.9" r="4.5" fill="#afcafa"/>
<circle cx="97.1" cy="395.1" r="4.5" fill="#afcafa"/>
<circle cx="89.8" cy="397.3" r="4.5" fill="#afcafa"/>
<circle cx="108.1" cy="396.6" r="4.5" fill="#afcafa"/>
<circle cx="111.0" cy="403.2" r="4.5" fill="#afcafa"/>
<circle cx="192.1" cy="392.9" r="4.5" fill="#d6dae3"/>
<circle cx="212.5" cy="390.8" r="4.5" fill="#dddddd"/>
<circle cx="241.0" cy="387.8" r="4.5" fill="#f5c4ad"/>
<circle cx="242.5" cy="393.7" r="4.5" fill="#f5c4ad"/>
<circle cx="274.6" cy="384.2" r="4.5" fill="#f4ab8f"/>
<circle cx="275.4" cy="389.3" r="4.5" fill="#f4ab8f"/>
<circle cx="75.9" cy="401.0" r="4.5" fill="#9ebdfc"/>
<circle cx="136.6" cy="398.8" r="4.5" fill="#afcafa"/>
<circle cx="136.6" cy="402.4" r="4.5" fill="#afcafa"/>
<circle cx="159.2" cy="400.3" r="4.5" fill="#afcafa"/>
<circle cx="252.7" cy="400.3" r="4.5" fill="#f5bca3"/>
<circle cx="254.2" cy="406.1" r="4.5" fill="#f5bca3"/>
<circle cx="281.9" cy="405.4" r="4.5" fill="#ebcec0"/>
<circle cx="308.2" cy="401.0" r="4.5" fill="#e7775f"/>
<circle cx="309.0" cy="404.6" r="4.5" fill="#e7775f"/>
<circle cx="116.8" cy="401.0" r="4.5" fill="#a7c3fb"/>
<circle cx="117.6" cy="410.5" r="4.5" fill="#a7c3fb"/>
<circle cx="121.2" cy="418.5" r="4.5" fill="#a7c3fb"/>
<circle cx="190.6" cy="406.8" r="4.5" fill="#afcafa"/>
<circle cx="187.0" cy="414.1" r="4.5" fill="#afcafa"/>
<circle cx="224.9" cy="409.0" r="4.5" fill="#e2d8d3"/>
<circle cx="261.5" cy="411.2" r="4.5" fill="#f4ab8f"/>
<circle cx="293.6" cy="412.7" r="4.5" fill="#eb8369"/>
<circle cx="297.3" cy="416.3" r="4.5" fill="#eb8369"/>
<circle cx="326.5" cy="409.7" r="4.5" fill="#e7775f"/>
<circle cx="324.3" cy="412.7" r="4.5" fill="#e7775f"/>
<circle cx="97.1" cy="414.1" r="4.5" fill="#96b6fd"/>
<circle cx="146.0" cy="416.3" r="4.5" fill="#9ebdfc"/>
<circle cx="158.5" cy="414.9" r="4.5" fill="#9ebdfc"/>
<circle cx="186.2" cy="425.1" r="4.5" fill="#96b6fd"/>
<circle cx="214.0" cy="426.6" r="4.5" fill="#a7c3fb"/>
<circle cx="214.7" cy="429.5" r="4.5" fill="#a7c3fb"/>
<circle cx="245.4" cy="420.0" r="4.5" fill="#e2d8d3"/>
<circle cx="246.1" cy="422.2" r="4.5" fill="#e2d8d3"/>
<circle cx="283.4" cy="421.4" r="4.5" fill="#f4ab8f"/>
<circle cx="284.9" cy="424.4" r="4.5" fill="#f4ab8f"/>
<circle cx="307.5" cy="424.4" r="4.5" fill="#f08e72"/>
<circle cx="281.2" cy="428.7" r="4.5" fill="#e2d8d3"/>
<circle cx="207.4" cy="442.6" r="4.5" fill="#8db0fe"/>
<circle cx="238.8" cy="442.6" r="4.5" fill="#a7c3fb"/>
<circle cx="260.7" cy="436.8" r="4.5" fill="#ced8e8"/>
<circle cx="261.5" cy="441.2" r="4.5" fill="#ced8e8"/>
<circle cx="297.3" cy="433.1" r="4.5" fill="#f4ab8f"/>
<circle cx="296.5" cy="436.0" r="4.5" fill="#f4ab8f"/>
<circle cx="292.2" cy="441.9" r="4.5" fill="#e7d3ca"/>
<circle cx="270.2" cy="452.1" r="4.5" fill="#a7c3fb"/>
<line x1="243.5" y1="288.8" x2="204" y2="349.5" stroke="#000" stroke-width="2.6"/>
</g>
<g transform="translate(929.20,430.20) scale(1)">
<polyline points="61.5,441.6 63.9,403.3 70.7,348.4 76.5,318 82.5,293.5 100.6,241.8 130.6,214.2 179.3,205.8 250.4,205.2 309.8,207.7 336.1,213.6 344.9,223.3 347.8,239.9 348.3,300 348.5,499.6" fill="none" stroke="#000" stroke-width="3.7" stroke-linejoin="round"/>
<line x1="100.6" y1="241.8" x2="96.5" y2="238.6" stroke="#000" stroke-width="3.5"/>
<line x1="179.3" y1="205.8" x2="179.3" y2="198.8" stroke="#000" stroke-width="3.5"/>
<line x1="309.8" y1="207.7" x2="309.8" y2="200.8" stroke="#000" stroke-width="3.5"/>
<line x1="344.9" y1="223.3" x2="351.2" y2="220.8" stroke="#000" stroke-width="3.5"/>
<line x1="348.3" y1="267.1" x2="355" y2="267.1" stroke="#000" stroke-width="3.5"/>
<line x1="348.4" y1="369.8" x2="355" y2="369.8" stroke="#000" stroke-width="3.5"/>
<line x1="348.5" y1="469.4" x2="355" y2="469.4" stroke="#000" stroke-width="3.5"/>
<line x1="348.5" y1="497.5" x2="355" y2="497.5" stroke="#000" stroke-width="3.5"/>
<line x1="69.6" y1="348.1" x2="64.8" y2="348.1" stroke="#000" stroke-width="3.5"/>
<line x1="63.9" y1="403.3" x2="57.5" y2="403.3" stroke="#000" stroke-width="3.5"/>
<line x1="61.8" y1="430.4" x2="56.5" y2="430.4" stroke="#000" stroke-width="3.5"/>
<text x="180.7" y="183.4" font-size="21.5" text-anchor="middle">410</text>
<text x="315.1" y="185.7" font-size="21.5" text-anchor="middle">430</text>
<text x="355.6" y="218.4" font-size="21.5" text-anchor="start">450</text>
<text x="362.4" y="274.5" font-size="21.5" text-anchor="start">470</text>
<text x="361.9" y="376.7" font-size="21.5" text-anchor="start">490</text>
<text x="362.5" y="476.3" font-size="21.5" text-anchor="start">510</text>
<text x="362.5" y="508.3" font-size="21.5" text-anchor="start">530</text>
<text x="98.0" y="233.6" font-size="21.5" text-anchor="end">390</text>
<text x="64.5" y="351.4" font-size="21.5" text-anchor="end">370</text>
<text x="57.4" y="407.7" font-size="21.5" text-anchor="end">350</text>
<text x="54.0" y="434.7" font-size="21.5" text-anchor="end">330</text>
<circle cx="222.8" cy="230.8" r="4.5" fill="#4b62d1"/>
<circle cx="232.3" cy="233.7" r="4.5" fill="#4e66d4"/>
<circle cx="241.0" cy="230.0" r="4.5" fill="#526cd9"/>
<circle cx="254.9" cy="241.7" r="4.5" fill="#6282ea"/>
<circle cx="260.0" cy="237.3" r="4.5" fill="#6282ea"/>
<circle cx="282.7" cy="241.7" r="4.5" fill="#96b6fd"/>
<circle cx="210.3" cy="255.6" r="4.5" fill="#4e66d4"/>
<circle cx="211.1" cy="259.3" r="4.5" fill="#4e66d4"/>
<circle cx="236.6" cy="257.1" r="4.5" fill="#5a77e2"/>
<circle cx="227.9" cy="268.0" r="4.5" fill="#6b8bee"/>
<circle cx="228.6" cy="270.9" r="4.5" fill="#6b8bee"/>
<circle cx="261.5" cy="265.8" r="4.5" fill="#7394f2"/>
<circle cx="279.0" cy="267.3" r="4.5" fill="#9ebdfc"/>
<circle cx="309.7" cy="260.7" r="4.5" fill="#f5bca3"/>
<circle cx="257.8" cy="277.5" r="4.5" fill="#84a7fa"/>
<circle cx="279.0" cy="280.4" r="4.5" fill="#e7d3ca"/>
<circle cx="227.9" cy="281.9" r="4.5" fill="#6b8bee"/>
<circle cx="227.9" cy="284.1" r="4.5" fill="#6b8bee"/>
<circle cx="330.2" cy="278.2" r="4.5" fill="#f5bca3"/>
<circle cx="190.6" cy="286.3" r="4.5" fill="#526cd9"/>
<circle cx="300.9" cy="285.6" r="4.5" fill="#c7d5ee"/>
<circle cx="311.2" cy="290.7" r="4.5" fill="#f5bca3"/>
<circle cx="266.6" cy="293.6" r="4.5" fill="#dddddd"/>
<circle cx="281.9" cy="295.0" r="4.5" fill="#a7c3fb"/>
<circle cx="243.9" cy="297.2" r="4.5" fill="#96b6fd"/>
<circle cx="247.6" cy="301.6" r="4.5" fill="#a7c3fb"/>
<circle cx="260.0" cy="299.4" r="4.5" fill="#84a7fa"/>
<circle cx="213.3" cy="308.9" r="4.5" fill="#84a7fa"/>
<circle cx="167.2" cy="314.0" r="4.5" fill="#6282ea"/>
<circle cx="168.0" cy="319.2" r="4.5" fill="#6282ea"/>
<circle cx="134.4" cy="319.9" r="4.5" fill="#526cd9"/>
<circle cx="134.8" cy="325.7" r="4.5" fill="#526cd9"/>
<circle cx="271.7" cy="319.9" r="4.5" fill="#e7d3ca"/>
<circle cx="295.1" cy="317.7" r="4.5" fill="#c7d5ee"/>
<circle cx="321.4" cy="325.7" r="4.5" fill="#f5bca3"/>
<circle cx="254.9" cy="328.7" r="4.5" fill="#bfd3f3"/>
<circle cx="268.8" cy="327.9" r="4.5" fill="#8db0fe"/>
<circle cx="292.9" cy="333.0" r="4.5" fill="#f5bca3"/>
<circle cx="102.7" cy="338.9" r="4.5" fill="#4b62d1"/>
<circle cx="121.6" cy="335.2" r="4.5" fill="#4e66d4"/>
<circle cx="141.7" cy="341.8" r="4.5" fill="#6282ea"/>
<circle cx="133.6" cy="346.2" r="4.5" fill="#5a77e2"/>
<circle cx="133.9" cy="351.3" r="4.5" fill="#5a77e2"/>
<circle cx="162.1" cy="344.7" r="4.5" fill="#6b8bee"/>
<circle cx="284.9" cy="341.8" r="4.5" fill="#f5bca3"/>
<circle cx="296.5" cy="341.8" r="4.5" fill="#c7d5ee"/>
<circle cx="211.8" cy="335.2" r="4.5" fill="#7c9ef6"/>
<circle cx="211.8" cy="338.2" r="4.5" fill="#7c9ef6"/>
<circle cx="203.0" cy="349.1" r="4.5" fill="#84a7fa"/>
<circle cx="207.4" cy="353.5" r="4.5" fill="#84a7fa"/>
<circle cx="233.7" cy="349.8" r="4.5" fill="#84a7fa"/>
<circle cx="307.5" cy="354.2" r="4.5" fill="#f5bca3"/>
<circle cx="104.4" cy="357.9" r="4.5" fill="#526cd9"/>
<circle cx="103.7" cy="363.0" r="4.5" fill="#526cd9"/>
<circle cx="84.7" cy="365.9" r="4.5" fill="#4b62d1"/>
<circle cx="83.2" cy="371.0" r="4.5" fill="#4b62d1"/>
<circle cx="122.7" cy="363.7" r="4.5" fill="#5a77e2"/>
<circle cx="123.4" cy="369.6" r="4.5" fill="#5a77e2"/>
<circle cx="166.5" cy="359.3" r="4.5" fill="#7c9ef6"/>
<circle cx="170.9" cy="365.9" r="4.5" fill="#7c9ef6"/>
<circle cx="101.5" cy="368.8" r="4.5" fill="#5a77e2"/>
<circle cx="102.2" cy="377.6" r="4.5" fill="#5a77e2"/>
<circle cx="109.5" cy="372.5" r="4.5" fill="#5d7ce5"/>
<circle cx="110.3" cy="379.1" r="4.5" fill="#5d7ce5"/>
<circle cx="197.9" cy="367.4" r="4.5" fill="#8db0fe"/>
<circle cx="265.9" cy="362.3" r="4.5" fill="#dddddd"/>
<circle cx="284.9" cy="363.7" r="4.5" fill="#f5c4ad"/>
<circle cx="286.3" cy="365.9" r="4.5" fill="#f5c4ad"/>
<circle cx="331.6" cy="365.9" r="4.5" fill="#f5bca3"/>
<circle cx="142.4" cy="373.9" r="4.5" fill="#7394f2"/>
<circle cx="150.4" cy="377.6" r="4.5" fill="#7394f2"/>
<circle cx="123.4" cy="382.0" r="4.5" fill="#5a77e2"/>
<circle cx="105.9" cy="383.4" r="4.5" fill="#5a77e2"/>
<circle cx="112.4" cy="387.8" r="4.5" fill="#5a77e2"/>
<circle cx="108.1" cy="390.0" r="4.5" fill="#5a77e2"/>
<circle cx="198.6" cy="379.8" r="4.5" fill="#7c9ef6"/>
<circle cx="229.3" cy="376.1" r="4.5" fill="#96b6fd"/>
<circle cx="230.8" cy="382.0" r="4.5" fill="#96b6fd"/>
<circle cx="303.9" cy="373.9" r="4.5" fill="#c7d5ee"/>
<circle cx="322.8" cy="379.8" r="4.5" fill="#f5bca3"/>
<circle cx="323.6" cy="384.9" r="4.5" fill="#f5bca3"/>
<circle cx="134.4" cy="387.1" r="4.5" fill="#7394f2"/>
<circle cx="275.4" cy="384.9" r="4.5" fill="#e2d8d3"/>
<circle cx="275.4" cy="389.3" r="4.5" fill="#e2d8d3"/>
<circle cx="191.3" cy="391.5" r="4.5" fill="#8db0fe"/>
<circle cx="192.1" cy="394.4" r="4.5" fill="#8db0fe"/>
<circle cx="211.8" cy="390.0" r="4.5" fill="#a7c3fb"/>
<circle cx="240.3" cy="387.8" r="4.5" fill="#9ebdfc"/>
<circle cx="243.9" cy="392.9" r="4.5" fill="#e2d8d3"/>
<circle cx="75.2" cy="400.3" r="4.5" fill="#4357c8"/>
<circle cx="89.8" cy="392.2" r="4.5" fill="#526cd9"/>
<circle cx="91.3" cy="397.3" r="4.5" fill="#526cd9"/>
<circle cx="97.1" cy="395.9" r="4.5" fill="#526cd9"/>
<circle cx="135.8" cy="398.8" r="4.5" fill="#7394f2"/>
<circle cx="136.6" cy="402.4" r="4.5" fill="#7394f2"/>
<circle cx="158.5" cy="399.5" r="4.5" fill="#7c9ef6"/>
<circle cx="159.2" cy="401.7" r="4.5" fill="#7c9ef6"/>
<circle cx="252.7" cy="399.5" r="4.5" fill="#afcafa"/>
<circle cx="254.2" cy="406.1" r="4.5" fill="#afcafa"/>
<circle cx="189.2" cy="405.4" r="4.5" fill="#8db0fe"/>
<circle cx="189.9" cy="409.0" r="4.5" fill="#8db0fe"/>
<circle cx="186.2" cy="414.1" r="4.5" fill="#8db0fe"/>
<circle cx="211.1" cy="406.8" r="4.5" fill="#a7c3fb"/>
<circle cx="212.5" cy="412.7" r="4.5" fill="#a7c3fb"/>
<circle cx="224.9" cy="409.0" r="4.5" fill="#84a7fa"/>
<circle cx="271.0" cy="409.7" r="4.5" fill="#ced8e8"/>
<circle cx="271.7" cy="414.1" r="4.5" fill="#ced8e8"/>
<circle cx="325.0" cy="409.0" r="4.5" fill="#f5bca3"/>
<circle cx="323.6" cy="412.7" r="4.5" fill="#f5bca3"/>
<circle cx="296.5" cy="417.1" r="4.5" fill="#f5bca3"/>
<circle cx="96.4" cy="414.1" r="4.5" fill="#526cd9"/>
<circle cx="146.0" cy="416.3" r="4.5" fill="#84a7fa"/>
<circle cx="158.5" cy="414.9" r="4.5" fill="#6b8bee"/>
<circle cx="185.5" cy="424.4" r="4.5" fill="#8db0fe"/>
<circle cx="213.3" cy="426.6" r="4.5" fill="#a7c3fb"/>
<circle cx="213.3" cy="430.2" r="4.5" fill="#a7c3fb"/>
<circle cx="232.3" cy="425.8" r="4.5" fill="#a7c3fb"/>
<circle cx="233.7" cy="430.9" r="4.5" fill="#a7c3fb"/>
<circle cx="280.5" cy="428.7" r="4.5" fill="#f5bca3"/>
<circle cx="307.5" cy="424.4" r="4.5" fill="#f5c4ad"/>
<circle cx="260.7" cy="436.0" r="4.5" fill="#d6dae3"/>
<circle cx="261.5" cy="441.2" r="4.5" fill="#d6dae3"/>
<circle cx="206.7" cy="441.9" r="4.5" fill="#9ebdfc"/>
<circle cx="292.2" cy="441.9" r="4.5" fill="#f5bca3"/>
<circle cx="269.5" cy="452.1" r="4.5" fill="#e7d3ca"/>
<line x1="204.3" y1="348" x2="230.3" y2="357.3" stroke="#000" stroke-width="2.6"/>
</g>
<text x="31.0" y="118.0" font-size="30" text-anchor="start" font-weight="bold">a</text>
<text x="472.3" y="118.4" font-size="30" text-anchor="start" font-weight="bold">b</text>
<text x="940.0" y="118.4" font-size="30" text-anchor="start" font-weight="bold">c</text>
<text x="33.7" y="592.4" font-size="30" text-anchor="start" font-weight="bold">d</text>
<text x="475.3" y="591.2" font-size="30" text-anchor="start" font-weight="bold">e</text>
<text x="943.9" y="591.2" font-size="30" text-anchor="start" font-weight="bold">f</text>
<text x="230.0" y="113.6" font-size="29.5" text-anchor="middle" font-weight="bold" fill="#a424c4">yR7</text>
<text x="681.6" y="113.2" font-size="29.5" text-anchor="middle" font-weight="bold" fill="#ee22ee">pR7</text>
<text x="1142.9" y="113.2" font-size="29.5" text-anchor="middle" font-weight="bold" fill="#1e8a1e">yR8</text>
<text x="217.0" y="575.0" font-size="29.5" text-anchor="middle" font-weight="bold" fill="#1010e0">pR8</text>
<text x="696.0" y="560.5" font-size="29.5" text-anchor="middle" font-weight="bold" fill="#c4a48c">pDm8</text>
<text x="1154.3" y="560.5" font-size="29.5" text-anchor="middle" font-weight="bold" fill="#f2c020">yDm8</text>
<defs><linearGradient id="gresp" x1="0" x2="1" y1="0" y2="0"><stop offset="0.000" stop-color="#b40426"/><stop offset="0.050" stop-color="#c52936"/><stop offset="0.100" stop-color="#d64e45"/><stop offset="0.150" stop-color="#e26c56"/><stop offset="0.200" stop-color="#eb8369"/><stop offset="0.250" stop-color="#f49a7b"/><stop offset="0.300" stop-color="#f4ab8f"/><stop offset="0.350" stop-color="#f5bca3"/><stop offset="0.400" stop-color="#f0c9b7"/><stop offset="0.450" stop-color="#e7d3ca"/><stop offset="0.500" stop-color="#dddddd"/><stop offset="0.550" stop-color="#ced8e8"/><stop offset="0.600" stop-color="#bfd3f3"/><stop offset="0.650" stop-color="#afcafa"/><stop offset="0.700" stop-color="#9ebdfc"/><stop offset="0.750" stop-color="#8db0fe"/><stop offset="0.800" stop-color="#7c9ef6"/><stop offset="0.850" stop-color="#6b8bee"/><stop offset="0.900" stop-color="#5a77e2"/><stop offset="0.950" stop-color="#4b62d1"/><stop offset="1.000" stop-color="#3b4cc0"/></linearGradient><linearGradient id="gw" x1="0" x2="1" y1="0" y2="0"><stop offset="0.000" stop-color="#3b4cc0"/><stop offset="0.050" stop-color="#4b62d1"/><stop offset="0.100" stop-color="#5a77e2"/><stop offset="0.150" stop-color="#6b8bee"/><stop offset="0.200" stop-color="#7c9ef6"/><stop offset="0.250" stop-color="#8db0fe"/><stop offset="0.300" stop-color="#9ebdfc"/><stop offset="0.350" stop-color="#afcafa"/><stop offset="0.400" stop-color="#bfd3f3"/><stop offset="0.450" stop-color="#ced8e8"/><stop offset="0.500" stop-color="#dddddd"/><stop offset="0.550" stop-color="#e7d3ca"/><stop offset="0.600" stop-color="#f0c9b7"/><stop offset="0.650" stop-color="#f5bca3"/><stop offset="0.700" stop-color="#f4ab8f"/><stop offset="0.750" stop-color="#f49a7b"/><stop offset="0.800" stop-color="#eb8369"/><stop offset="0.850" stop-color="#e26c56"/><stop offset="0.900" stop-color="#d64e45"/><stop offset="0.950" stop-color="#c52936"/><stop offset="1.000" stop-color="#b40426"/></linearGradient></defs>
<rect x="70.4" y="1001.3" width="276.2" height="12" fill="url(#gresp)" stroke="#000" stroke-width="4.3"/>
<line x1="70.4" y1="1013" x2="70.4" y2="1027.7" stroke="#000" stroke-width="4"/>
<line x1="208" y1="1013" x2="208" y2="1027.7" stroke="#000" stroke-width="4"/>
<line x1="346.6" y1="1013" x2="346.6" y2="1027.7" stroke="#000" stroke-width="4"/>
<text x="71.5" y="1053.0" font-size="24.5" text-anchor="middle">1</text>
<text x="209.5" y="1053.0" font-size="24.5" text-anchor="middle">0</text>
<text x="348.6" y="1053.0" font-size="24.5" text-anchor="middle">-1</text>
<text x="209.3" y="1099.6" font-size="25.2" text-anchor="middle" textLength="257.7" lengthAdjust="spacingAndGlyphs">relative response (a.u.)</text>
<text x="1430.0" y="140.0" font-size="30" text-anchor="start" font-weight="bold">g</text>
<text x="1748.5" y="223.4" font-size="24.5" text-anchor="middle" font-weight="bold" textLength="268.5" lengthAdjust="spacingAndGlyphs">effective weight matrix</text>
<rect x="1791.95" y="256.60" width="29.65" height="29.56" fill="#d5dce8"/>
<rect x="1821.20" y="256.60" width="29.65" height="29.56" fill="#d5dce8"/>
<rect x="1850.45" y="256.60" width="29.65" height="29.56" fill="#e8d8d0"/>
<rect x="1879.70" y="256.60" width="29.65" height="29.56" fill="#dcdee2"/>
<rect x="1791.95" y="285.76" width="29.65" height="29.56" fill="#d6dce6"/>
<rect x="1821.20" y="285.76" width="29.65" height="29.56" fill="#d6dce6"/>
<rect x="1850.45" y="285.76" width="29.65" height="29.56" fill="#dddcdc"/>
<rect x="1908.95" y="285.76" width="29.65" height="29.56" fill="#d8d9dc"/>
<rect x="1791.95" y="314.92" width="29.65" height="29.56" fill="#c6d4ee"/>
<rect x="1821.20" y="314.92" width="29.65" height="29.56" fill="#b8cdf4"/>
<rect x="1879.70" y="314.92" width="29.65" height="29.56" fill="#f2a584"/>
<rect x="1908.95" y="314.92" width="29.65" height="29.56" fill="#ef9a7a"/>
<rect x="1791.95" y="344.08" width="29.65" height="29.56" fill="#bdd0f2"/>
<rect x="1850.45" y="344.08" width="29.65" height="29.56" fill="#d6d9e0"/>
<rect x="1879.70" y="344.08" width="29.65" height="29.56" fill="#c4d4ef"/>
<rect x="1908.95" y="344.08" width="29.65" height="29.56" fill="#c4d4ef"/>
<rect x="1821.20" y="373.24" width="29.65" height="29.56" fill="#bcd0f3"/>
<rect x="1850.45" y="373.24" width="29.65" height="29.56" fill="#9bb8f5"/>
<rect x="1879.70" y="373.24" width="29.65" height="29.56" fill="#c4d4ef"/>
<rect x="1908.95" y="373.24" width="29.65" height="29.56" fill="#c4d4ef"/>
<rect x="1733.45" y="402.40" width="29.65" height="29.56" fill="#a6c0f5"/>
<rect x="1791.95" y="402.40" width="29.65" height="29.56" fill="#bcd0f3"/>
<rect x="1762.70" y="431.56" width="29.65" height="29.56" fill="#dcdad8"/>
<rect x="1821.20" y="431.56" width="29.65" height="29.56" fill="#f1cdb8"/>
<rect x="1587.20" y="460.72" width="29.65" height="29.56" fill="#f4bfa3"/>
<rect x="1616.45" y="460.72" width="29.65" height="29.56" fill="#f4bfa3"/>
<rect x="1645.70" y="460.72" width="29.65" height="29.56" fill="#f4bfa3"/>
<rect x="1674.95" y="460.72" width="29.65" height="29.56" fill="#f4bfa3"/>
<rect x="1616.45" y="489.88" width="29.65" height="29.56" fill="#c5d5f0"/>
<rect x="1704.20" y="489.88" width="29.65" height="29.56" fill="#b0c8f5"/>
<rect x="1850.45" y="489.88" width="29.65" height="29.56" fill="#f3bfa1"/>
<rect x="1908.95" y="489.88" width="29.65" height="29.56" fill="#cdd8ea"/>
<rect x="1587.20" y="519.04" width="29.65" height="29.56" fill="#c5d5f0"/>
<rect x="1704.20" y="519.04" width="29.65" height="29.56" fill="#b0c8f5"/>
<rect x="1850.45" y="519.04" width="29.65" height="29.56" fill="#e6d9d2"/>
<rect x="1879.70" y="519.04" width="29.65" height="29.56" fill="#d4dbe8"/>
<rect x="1674.95" y="548.20" width="29.65" height="29.56" fill="#c6d5ef"/>
<rect x="1704.20" y="548.20" width="29.65" height="29.56" fill="#cbd6ea"/>
<rect x="1762.70" y="548.20" width="29.65" height="29.56" fill="#4a64d0"/>
<rect x="1791.95" y="548.20" width="29.65" height="29.56" fill="#c6d4ee"/>
<rect x="1645.70" y="577.36" width="29.65" height="29.56" fill="#c4d4f0"/>
<rect x="1704.20" y="577.36" width="29.65" height="29.56" fill="#c0d2f2"/>
<rect x="1733.45" y="577.36" width="29.65" height="29.56" fill="#a2bdf6"/>
<rect x="1821.20" y="577.36" width="29.65" height="29.56" fill="#d2dbea"/>
<rect x="1850.45" y="577.36" width="29.65" height="29.56" fill="#d8dce4"/>
<rect x="1674.95" y="606.52" width="29.65" height="29.56" fill="#ef9d7d"/>
<rect x="1645.70" y="635.68" width="29.65" height="29.56" fill="#ef9d7d"/>
<rect x="1616.45" y="664.84" width="29.65" height="29.56" fill="#ef9d7d"/>
<rect x="1587.20" y="694.00" width="29.65" height="29.56" fill="#ef9d7d"/>
<rect x="1733.45" y="723.16" width="29.65" height="29.56" fill="#ecd3c6"/>
<rect x="1762.70" y="723.16" width="29.65" height="29.56" fill="#e8d8d0"/>
<rect x="1791.95" y="723.16" width="29.65" height="29.56" fill="#e9d7cd"/>
<rect x="1821.20" y="723.16" width="29.65" height="29.56" fill="#e9d7cd"/>
<rect x="1850.45" y="723.16" width="29.65" height="29.56" fill="#e2dbd7"/>
<rect x="1879.70" y="723.16" width="29.65" height="29.56" fill="#ead5ca"/>
<rect x="1908.95" y="723.16" width="29.65" height="29.56" fill="#dddbd9"/>
<rect x="1587.2" y="256.6" width="351.00" height="495.72" fill="none" stroke="#000" stroke-width="3"/>
<text x="1573.0" y="280.2" font-size="25.6" text-anchor="end" stroke="#000" stroke-width="0.5">yTm20</text>
<text x="1573.0" y="309.3" font-size="25.6" text-anchor="end" stroke="#000" stroke-width="0.5">pTm20</text>
<text x="1573.0" y="338.5" font-size="25.6" text-anchor="end" stroke="#000" stroke-width="0.5">Tm5c</text>
<text x="1573.0" y="367.7" font-size="25.6" text-anchor="end" stroke="#000" stroke-width="0.5">Tm5b</text>
<text x="1573.0" y="396.8" font-size="25.6" text-anchor="end" stroke="#000" stroke-width="0.5">Tm5a</text>
<text x="1573.0" y="426.0" font-size="25.6" text-anchor="end" stroke="#000" stroke-width="0.5">yDm8</text>
<text x="1573.0" y="455.1" font-size="25.6" text-anchor="end" stroke="#000" stroke-width="0.5">pDm8</text>
<text x="1573.0" y="484.3" font-size="25.6" text-anchor="end" stroke="#000" stroke-width="0.5">Dm9</text>
<text x="1573.0" y="513.5" font-size="25.6" text-anchor="end" stroke="#000" stroke-width="0.5">yR8</text>
<text x="1573.0" y="542.6" font-size="25.6" text-anchor="end" stroke="#000" stroke-width="0.5">pR8</text>
<text x="1573.0" y="571.8" font-size="25.6" text-anchor="end" stroke="#000" stroke-width="0.5">yR7</text>
<text x="1573.0" y="600.9" font-size="25.6" text-anchor="end" stroke="#000" stroke-width="0.5">pR7</text>
<text x="1573.0" y="630.1" font-size="25.6" text-anchor="end" stroke="#000" stroke-width="0.5">Rh-yR8</text>
<text x="1573.0" y="659.3" font-size="25.6" text-anchor="end" stroke="#000" stroke-width="0.5">Rh-pR8</text>
<text x="1573.0" y="688.4" font-size="25.6" text-anchor="end" stroke="#000" stroke-width="0.5">Rh-yR7</text>
<text x="1573.0" y="717.6" font-size="25.6" text-anchor="end" stroke="#000" stroke-width="0.5">Rh-pR7</text>
<text x="1573.0" y="746.7" font-size="25.6" text-anchor="end" stroke="#000" stroke-width="0.5">R1-6</text>
<text x="1595.3" y="764.0" font-size="25.6" text-anchor="start" transform="rotate(90 1595.3 764.0)" stroke="#000" stroke-width="0.5">pR7</text>
<text x="1624.6" y="764.0" font-size="25.6" text-anchor="start" transform="rotate(90 1624.6 764.0)" stroke="#000" stroke-width="0.5">yR7</text>
<text x="1653.8" y="764.0" font-size="25.6" text-anchor="start" transform="rotate(90 1653.8 764.0)" stroke="#000" stroke-width="0.5">pR8</text>
<text x="1683.1" y="764.0" font-size="25.6" text-anchor="start" transform="rotate(90 1683.1 764.0)" stroke="#000" stroke-width="0.5">yR8</text>
<text x="1712.3" y="764.0" font-size="25.6" text-anchor="start" transform="rotate(90 1712.3 764.0)" stroke="#000" stroke-width="0.5">Dm9</text>
<text x="1741.6" y="764.0" font-size="25.6" text-anchor="start" transform="rotate(90 1741.6 764.0)" stroke="#000" stroke-width="0.5">pDm8</text>
<text x="1770.8" y="764.0" font-size="25.6" text-anchor="start" transform="rotate(90 1770.8 764.0)" stroke="#000" stroke-width="0.5">yDm8</text>
<text x="1800.1" y="764.0" font-size="25.6" text-anchor="start" transform="rotate(90 1800.1 764.0)" stroke="#000" stroke-width="0.5">Tm5a</text>
<text x="1829.3" y="764.0" font-size="25.6" text-anchor="start" transform="rotate(90 1829.3 764.0)" stroke="#000" stroke-width="0.5">Tm5b</text>
<text x="1858.6" y="764.0" font-size="25.6" text-anchor="start" transform="rotate(90 1858.6 764.0)" stroke="#000" stroke-width="0.5">Tm5c</text>
<text x="1887.8" y="764.0" font-size="25.6" text-anchor="start" transform="rotate(90 1887.8 764.0)" stroke="#000" stroke-width="0.5">pTm20</text>
<text x="1917.1" y="764.0" font-size="25.6" text-anchor="start" transform="rotate(90 1917.1 764.0)" stroke="#000" stroke-width="0.5">yTm20</text>
<text x="1764.7" y="865.7" font-size="27.3" text-anchor="middle" stroke="#000" stroke-width="0.5">postsynaptic</text>
<text x="1472.5" y="532.0" font-size="27.3" text-anchor="middle" transform="rotate(-90 1472.5 532.0)" stroke="#000" stroke-width="0.5">presynaptic</text>
<text x="2075.0" y="308.6" font-size="30" text-anchor="middle" font-weight="bold">offset</text>
<rect x="2017.5" y="333.00" width="34" height="30.50" fill="#b40426"/>
<text x="2064.0" y="355.6" font-size="21.5" text-anchor="start" stroke="#000" stroke-width="0.4">yTm20</text>
<rect x="2017.5" y="363.10" width="34" height="30.50" fill="#d6544a"/>
<text x="2064.0" y="385.6" font-size="21.5" text-anchor="start" stroke="#000" stroke-width="0.4">pTm20</text>
<rect x="2017.5" y="393.20" width="34" height="30.50" fill="#b40426"/>
<text x="2064.0" y="415.8" font-size="21.5" text-anchor="start" stroke="#000" stroke-width="0.4">Tm5c</text>
<rect x="2017.5" y="423.30" width="34" height="30.50" fill="#b40426"/>
<text x="2064.0" y="445.9" font-size="21.5" text-anchor="start" stroke="#000" stroke-width="0.4">Tm5b</text>
<rect x="2017.5" y="453.40" width="34" height="30.50" fill="#b40426"/>
<text x="2064.0" y="476.0" font-size="21.5" text-anchor="start" stroke="#000" stroke-width="0.4">Tm5a</text>
<rect x="2017.5" y="483.50" width="34" height="30.50" fill="#8caef8"/>
<text x="2064.0" y="506.1" font-size="21.5" text-anchor="start" stroke="#000" stroke-width="0.4">yDm8</text>
<rect x="2017.5" y="513.60" width="34" height="30.50" fill="#f0906f"/>
<text x="2064.0" y="536.1" font-size="21.5" text-anchor="start" stroke="#000" stroke-width="0.4">pDm8</text>
<rect x="2017.5" y="543.70" width="34" height="30.50" fill="#dcdad8"/>
<text x="2064.0" y="566.2" font-size="21.5" text-anchor="start" stroke="#000" stroke-width="0.4">Dm9</text>
<rect x="2017.5" y="573.80" width="34" height="30.50" fill="#f4b89b"/>
<text x="2064.0" y="596.4" font-size="21.5" text-anchor="start" stroke="#000" stroke-width="0.4">yR8</text>
<rect x="2017.5" y="603.90" width="34" height="30.50" fill="#f4b89b"/>
<text x="2064.0" y="626.5" font-size="21.5" text-anchor="start" stroke="#000" stroke-width="0.4">pR8</text>
<rect x="2017.5" y="634.00" width="34" height="30.50" fill="#b40426"/>
<text x="2064.0" y="656.5" font-size="21.5" text-anchor="start" stroke="#000" stroke-width="0.4">yR7</text>
<rect x="2017.5" y="664.10" width="34" height="30.50" fill="#b40426"/>
<text x="2064.0" y="686.7" font-size="21.5" text-anchor="start" stroke="#000" stroke-width="0.4">pR7</text>
<rect x="2017.5" y="333" width="34" height="361.20" fill="none" stroke="#000" stroke-width="3.2"/>
<rect x="1841.6" y="925.5" width="187.6" height="12.3" fill="url(#gw)" stroke="#000" stroke-width="4.2"/>
<line x1="1841.6" y1="938" x2="1841.6" y2="952" stroke="#000" stroke-width="4"/>
<line x1="1935.3" y1="938" x2="1935.3" y2="952" stroke="#000" stroke-width="4"/>
<line x1="2029.2" y1="938" x2="2029.2" y2="952" stroke="#000" stroke-width="4"/>
<text x="1846.8" y="976.0" font-size="25.3" text-anchor="middle">-1</text>
<text x="1936.0" y="976.0" font-size="25.3" text-anchor="middle">0</text>
<text x="2075.4" y="976.0" font-size="25.3" text-anchor="middle">1</text>
<text x="1932.0" y="1014.5" font-size="25.3" text-anchor="middle" textLength="228.6" lengthAdjust="spacingAndGlyphs">relative weight (a.u.)</text>
<g transform="translate(-12.07,1165.38) scale(0.866)">
<polyline points="61.5,441.6 63.9,403.3 70.7,348.4 76.5,318 82.5,293.5 100.6,241.8 130.6,214.2 179.3,205.8 250.4,205.2 309.8,207.7 336.1,213.6 344.9,223.3 347.8,239.9 348.3,300 348.5,499.6" fill="none" stroke="#000" stroke-width="3.7" stroke-linejoin="round"/>
<line x1="100.6" y1="241.8" x2="96.5" y2="238.6" stroke="#000" stroke-width="3.5"/>
<line x1="179.3" y1="205.8" x2="179.3" y2="198.8" stroke="#000" stroke-width="3.5"/>
<line x1="309.8" y1="207.7" x2="309.8" y2="200.8" stroke="#000" stroke-width="3.5"/>
<line x1="344.9" y1="223.3" x2="351.2" y2="220.8" stroke="#000" stroke-width="3.5"/>
<line x1="348.3" y1="267.1" x2="355" y2="267.1" stroke="#000" stroke-width="3.5"/>
<line x1="348.4" y1="369.8" x2="355" y2="369.8" stroke="#000" stroke-width="3.5"/>
<line x1="348.5" y1="469.4" x2="355" y2="469.4" stroke="#000" stroke-width="3.5"/>
<line x1="348.5" y1="497.5" x2="355" y2="497.5" stroke="#000" stroke-width="3.5"/>
<line x1="69.6" y1="348.1" x2="64.8" y2="348.1" stroke="#000" stroke-width="3.5"/>
<line x1="63.9" y1="403.3" x2="57.5" y2="403.3" stroke="#000" stroke-width="3.5"/>
<line x1="61.8" y1="430.4" x2="56.5" y2="430.4" stroke="#000" stroke-width="3.5"/>
<text x="180.7" y="183.4" font-size="21.5" text-anchor="middle">410</text>
<text x="315.1" y="185.7" font-size="21.5" text-anchor="middle">430</text>
<text x="355.6" y="218.4" font-size="21.5" text-anchor="start">450</text>
<text x="362.4" y="274.5" font-size="21.5" text-anchor="start">470</text>
<text x="361.9" y="376.7" font-size="21.5" text-anchor="start">490</text>
<text x="362.5" y="476.3" font-size="21.5" text-anchor="start">510</text>
<text x="362.5" y="508.3" font-size="21.5" text-anchor="start">530</text>
<text x="98.0" y="233.6" font-size="21.5" text-anchor="end">390</text>
<text x="64.5" y="351.4" font-size="21.5" text-anchor="end">370</text>
<text x="57.4" y="407.7" font-size="21.5" text-anchor="end">350</text>
<text x="54.0" y="434.7" font-size="21.5" text-anchor="end">330</text>
<circle cx="219.6" cy="231.1" r="4.5" fill="#e7775f"/>
<circle cx="237.2" cy="231.1" r="4.5" fill="#e26c56"/>
<circle cx="241.6" cy="230.3" r="4.5" fill="#e26c56"/>
<circle cx="254.7" cy="241.3" r="4.5" fill="#cd3b3d"/>
<circle cx="259.9" cy="237.6" r="4.5" fill="#cd3b3d"/>
<circle cx="283.3" cy="242.0" r="4.5" fill="#bc162e"/>
<circle cx="273.0" cy="248.6" r="4.5" fill="#bc162e"/>
<circle cx="207.9" cy="257.4" r="4.5" fill="#e7775f"/>
<circle cx="210.9" cy="258.1" r="4.5" fill="#e7775f"/>
<circle cx="234.3" cy="257.4" r="4.5" fill="#de604d"/>
<circle cx="237.9" cy="257.4" r="4.5" fill="#de604d"/>
<circle cx="251.8" cy="256.7" r="4.5" fill="#bc162e"/>
<circle cx="309.6" cy="260.3" r="4.5" fill="#bc162e"/>
<circle cx="259.1" cy="266.2" r="4.5" fill="#de604d"/>
<circle cx="262.0" cy="265.7" r="4.5" fill="#de604d"/>
<circle cx="279.6" cy="267.6" r="4.5" fill="#bc162e"/>
<circle cx="227.7" cy="269.1" r="4.5" fill="#bc162e"/>
<circle cx="228.4" cy="271.3" r="4.5" fill="#bc162e"/>
<circle cx="257.7" cy="277.9" r="4.5" fill="#bc162e"/>
<circle cx="294.2" cy="274.9" r="4.5" fill="#bc162e"/>
<circle cx="330.0" cy="278.6" r="4.5" fill="#bc162e"/>
<circle cx="168.5" cy="280.8" r="4.5" fill="#e7775f"/>
<circle cx="167.7" cy="283.7" r="4.5" fill="#e7775f"/>
<circle cx="190.4" cy="286.6" r="4.5" fill="#e7775f"/>
<circle cx="227.7" cy="282.2" r="4.5" fill="#d64e45"/>
<circle cx="227.7" cy="284.4" r="4.5" fill="#d64e45"/>
<circle cx="279.6" cy="280.8" r="4.5" fill="#bc162e"/>
<circle cx="301.5" cy="285.2" r="4.5" fill="#cd3b3d"/>
<circle cx="311.0" cy="290.3" r="4.5" fill="#bc162e"/>
<circle cx="267.2" cy="293.9" r="4.5" fill="#bc162e"/>
<circle cx="281.8" cy="295.4" r="4.5" fill="#cd3b3d"/>
<circle cx="282.5" cy="296.9" r="4.5" fill="#cd3b3d"/>
<circle cx="248.2" cy="299.8" r="4.5" fill="#b40426"/>
<circle cx="248.2" cy="302.7" r="4.5" fill="#b40426"/>
<circle cx="259.9" cy="299.8" r="4.5" fill="#de604d"/>
<circle cx="305.9" cy="300.5" r="4.5" fill="#bc162e"/>
<circle cx="195.5" cy="310.0" r="4.5" fill="#e7775f"/>
<circle cx="214.5" cy="308.6" r="4.5" fill="#b40426"/>
<circle cx="324.9" cy="307.8" r="4.5" fill="#c52936"/>
<circle cx="261.3" cy="310.0" r="4.5" fill="#cd3b3d"/>
<circle cx="267.2" cy="313.7" r="4.5" fill="#cd3b3d"/>
<circle cx="272.3" cy="319.5" r="4.5" fill="#cd3b3d"/>
<circle cx="167.7" cy="314.4" r="4.5" fill="#d64e45"/>
<circle cx="168.5" cy="319.5" r="4.5" fill="#d64e45"/>
<circle cx="294.2" cy="318.1" r="4.5" fill="#d64e45"/>
<circle cx="305.2" cy="315.9" r="4.5" fill="#cd3b3d"/>
<circle cx="134.1" cy="319.5" r="4.5" fill="#e7775f"/>
<circle cx="134.8" cy="324.6" r="4.5" fill="#e7775f"/>
<circle cx="269.4" cy="328.3" r="4.5" fill="#e26c56"/>
<circle cx="256.2" cy="329.0" r="4.5" fill="#c52936"/>
<circle cx="322.0" cy="326.1" r="4.5" fill="#bc162e"/>
<circle cx="200.6" cy="331.2" r="4.5" fill="#de604d"/>
<circle cx="206.5" cy="331.2" r="4.5" fill="#b40426"/>
<circle cx="211.6" cy="331.2" r="4.5" fill="#de604d"/>
<circle cx="303.0" cy="332.0" r="4.5" fill="#c52936"/>
<circle cx="311.8" cy="332.0" r="4.5" fill="#c52936"/>
<circle cx="238.7" cy="336.3" r="4.5" fill="#bc162e"/>
<circle cx="101.9" cy="339.3" r="4.5" fill="#eb8369"/>
<circle cx="121.4" cy="335.6" r="4.5" fill="#e7775f"/>
<circle cx="141.4" cy="342.2" r="4.5" fill="#e7775f"/>
<circle cx="133.4" cy="347.3" r="4.5" fill="#d64e45"/>
<circle cx="134.1" cy="351.7" r="4.5" fill="#d64e45"/>
<circle cx="203.6" cy="349.5" r="4.5" fill="#cd3b3d"/>
<circle cx="285.4" cy="342.2" r="4.5" fill="#cd3b3d"/>
<circle cx="295.7" cy="342.2" r="4.5" fill="#cd3b3d"/>
<circle cx="300.1" cy="348.8" r="4.5" fill="#cd3b3d"/>
<circle cx="234.3" cy="349.5" r="4.5" fill="#e7775f"/>
<circle cx="327.8" cy="353.2" r="4.5" fill="#c52936"/>
<circle cx="104.1" cy="358.3" r="4.5" fill="#e7775f"/>
<circle cx="104.1" cy="364.1" r="4.5" fill="#e7775f"/>
<circle cx="167.0" cy="359.7" r="4.5" fill="#b40426"/>
<circle cx="170.7" cy="367.1" r="4.5" fill="#e7775f"/>
<circle cx="142.1" cy="361.2" r="4.5" fill="#de604d"/>
<circle cx="122.4" cy="364.1" r="4.5" fill="#e26c56"/>
<circle cx="123.1" cy="370.0" r="4.5" fill="#e26c56"/>
<circle cx="197.7" cy="367.8" r="4.5" fill="#cd3b3d"/>
<circle cx="217.5" cy="364.1" r="4.5" fill="#c52936"/>
<circle cx="246.0" cy="357.5" r="4.5" fill="#d64e45"/>
<circle cx="246.7" cy="361.9" r="4.5" fill="#d64e45"/>
<circle cx="266.4" cy="361.2" r="4.5" fill="#d64e45"/>
<circle cx="267.2" cy="364.1" r="4.5" fill="#d64e45"/>
<circle cx="285.4" cy="364.1" r="4.5" fill="#de604d"/>
<circle cx="286.9" cy="366.3" r="4.5" fill="#de604d"/>
<circle cx="310.3" cy="364.1" r="4.5" fill="#d64e45"/>
<circle cx="84.4" cy="366.3" r="4.5" fill="#eb8369"/>
<circle cx="82.9" cy="372.2" r="4.5" fill="#eb8369"/>
<circle cx="101.9" cy="370.7" r="4.5" fill="#e7775f"/>
<circle cx="101.9" cy="378.7" r="4.5" fill="#e7775f"/>
<circle cx="109.2" cy="373.6" r="4.5" fill="#de604d"/>
<circle cx="110.0" cy="379.5" r="4.5" fill="#de604d"/>
<circle cx="142.9" cy="374.4" r="4.5" fill="#b40426"/>
<circle cx="150.9" cy="378.0" r="4.5" fill="#cd3b3d"/>
<circle cx="123.1" cy="382.4" r="4.5" fill="#e7775f"/>
<circle cx="172.9" cy="384.6" r="4.5" fill="#d64e45"/>
<circle cx="229.1" cy="376.6" r="4.5" fill="#d64e45"/>
<circle cx="230.6" cy="382.4" r="4.5" fill="#d64e45"/>
<circle cx="248.9" cy="371.4" r="4.5" fill="#e7775f"/>
<circle cx="249.6" cy="375.1" r="4.5" fill="#e7775f"/>
<circle cx="303.7" cy="374.4" r="4.5" fill="#e7775f"/>
<circle cx="301.5" cy="378.7" r="4.5" fill="#e7775f"/>
<circle cx="323.5" cy="380.2" r="4.5" fill="#cd3b3d"/>
<circle cx="135.6" cy="387.5" r="4.5" fill="#cd3b3d"/>
<circle cx="112.9" cy="386.8" r="4.5" fill="#d64e45"/>
<circle cx="113.6" cy="389.7" r="4.5" fill="#d64e45"/>
<circle cx="194.1" cy="382.4" r="4.5" fill="#cd3b3d"/>
<circle cx="199.2" cy="380.9" r="4.5" fill="#e26c56"/>
<circle cx="105.6" cy="389.7" r="4.5" fill="#e26c56"/>
<circle cx="107.1" cy="397.0" r="4.5" fill="#e26c56"/>
<circle cx="191.9" cy="392.6" r="4.5" fill="#cd3b3d"/>
<circle cx="191.9" cy="395.6" r="4.5" fill="#cd3b3d"/>
<circle cx="213.1" cy="391.2" r="4.5" fill="#d64e45"/>
<circle cx="219.6" cy="395.6" r="4.5" fill="#de604d"/>
<circle cx="240.8" cy="388.3" r="4.5" fill="#e26c56"/>
<circle cx="245.2" cy="392.6" r="4.5" fill="#e26c56"/>
<circle cx="275.2" cy="385.3" r="4.5" fill="#de604d"/>
<circle cx="275.9" cy="389.7" r="4.5" fill="#de604d"/>
<circle cx="91.0" cy="392.6" r="4.5" fill="#e7775f"/>
<circle cx="91.0" cy="397.8" r="4.5" fill="#e7775f"/>
<circle cx="291.3" cy="395.6" r="4.5" fill="#de604d"/>
<circle cx="292.0" cy="397.8" r="4.5" fill="#de604d"/>
<circle cx="74.9" cy="401.4" r="4.5" fill="#eb8369"/>
<circle cx="115.8" cy="401.4" r="4.5" fill="#cd3b3d"/>
<circle cx="136.3" cy="399.2" r="4.5" fill="#cd3b3d"/>
<circle cx="137.0" cy="403.6" r="4.5" fill="#cd3b3d"/>
<circle cx="159.0" cy="400.7" r="4.5" fill="#d64e45"/>
<circle cx="169.9" cy="401.4" r="4.5" fill="#e26c56"/>
<circle cx="253.3" cy="400.7" r="4.5" fill="#de604d"/>
<circle cx="254.0" cy="406.5" r="4.5" fill="#de604d"/>
<circle cx="278.9" cy="403.6" r="4.5" fill="#e26c56"/>
<circle cx="310.3" cy="401.4" r="4.5" fill="#e26c56"/>
<circle cx="232.1" cy="403.6" r="4.5" fill="#d64e45"/>
<circle cx="225.5" cy="409.5" r="4.5" fill="#e7775f"/>
<circle cx="172.9" cy="410.2" r="4.5" fill="#d64e45"/>
<circle cx="115.8" cy="410.2" r="4.5" fill="#de604d"/>
<circle cx="118.8" cy="411.6" r="4.5" fill="#de604d"/>
<circle cx="96.8" cy="414.6" r="4.5" fill="#e7775f"/>
<circle cx="120.9" cy="419.0" r="4.5" fill="#e7775f"/>
<circle cx="145.8" cy="417.5" r="4.5" fill="#d64e45"/>
<circle cx="158.2" cy="415.3" r="4.5" fill="#e26c56"/>
<circle cx="187.5" cy="415.3" r="4.5" fill="#cd3b3d"/>
<circle cx="186.0" cy="426.3" r="4.5" fill="#e26c56"/>
<circle cx="214.5" cy="427.7" r="4.5" fill="#e26c56"/>
<circle cx="214.5" cy="430.7" r="4.5" fill="#e26c56"/>
<circle cx="232.8" cy="427.0" r="4.5" fill="#e26c56"/>
<circle cx="234.3" cy="431.4" r="4.5" fill="#e26c56"/>
<circle cx="284.7" cy="421.9" r="4.5" fill="#e26c56"/>
<circle cx="281.8" cy="429.2" r="4.5" fill="#e26c56"/>
<circle cx="292.8" cy="413.8" r="4.5" fill="#de604d"/>
<circle cx="297.9" cy="416.8" r="4.5" fill="#de604d"/>
<circle cx="326.4" cy="410.2" r="4.5" fill="#e7775f"/>
<circle cx="324.9" cy="413.1" r="4.5" fill="#e7775f"/>
<circle cx="307.4" cy="424.8" r="4.5" fill="#e7775f"/>
<circle cx="207.2" cy="443.1" r="4.5" fill="#e26c56"/>
<circle cx="238.7" cy="443.1" r="4.5" fill="#e26c56"/>
<circle cx="261.3" cy="438.0" r="4.5" fill="#e7775f"/>
<circle cx="262.0" cy="441.6" r="4.5" fill="#e7775f"/>
<circle cx="297.1" cy="433.6" r="4.5" fill="#e26c56"/>
<circle cx="294.2" cy="442.4" r="4.5" fill="#e26c56"/>
<circle cx="270.1" cy="452.6" r="4.5" fill="#e7775f"/>
<line x1="202.2" y1="349.8" x2="195.5" y2="363.4" stroke="#000" stroke-width="2.6"/>
</g>
<g transform="translate(351.33,1165.38) scale(0.866)">
<polyline points="61.5,441.6 63.9,403.3 70.7,348.4 76.5,318 82.5,293.5 100.6,241.8 130.6,214.2 179.3,205.8 250.4,205.2 309.8,207.7 336.1,213.6 344.9,223.3 347.8,239.9 348.3,300 348.5,499.6" fill="none" stroke="#000" stroke-width="3.7" stroke-linejoin="round"/>
<line x1="100.6" y1="241.8" x2="96.5" y2="238.6" stroke="#000" stroke-width="3.5"/>
<line x1="179.3" y1="205.8" x2="179.3" y2="198.8" stroke="#000" stroke-width="3.5"/>
<line x1="309.8" y1="207.7" x2="309.8" y2="200.8" stroke="#000" stroke-width="3.5"/>
<line x1="344.9" y1="223.3" x2="351.2" y2="220.8" stroke="#000" stroke-width="3.5"/>
<line x1="348.3" y1="267.1" x2="355" y2="267.1" stroke="#000" stroke-width="3.5"/>
<line x1="348.4" y1="369.8" x2="355" y2="369.8" stroke="#000" stroke-width="3.5"/>
<line x1="348.5" y1="469.4" x2="355" y2="469.4" stroke="#000" stroke-width="3.5"/>
<line x1="348.5" y1="497.5" x2="355" y2="497.5" stroke="#000" stroke-width="3.5"/>
<line x1="69.6" y1="348.1" x2="64.8" y2="348.1" stroke="#000" stroke-width="3.5"/>
<line x1="63.9" y1="403.3" x2="57.5" y2="403.3" stroke="#000" stroke-width="3.5"/>
<line x1="61.8" y1="430.4" x2="56.5" y2="430.4" stroke="#000" stroke-width="3.5"/>
<text x="180.7" y="183.4" font-size="21.5" text-anchor="middle">410</text>
<text x="315.1" y="185.7" font-size="21.5" text-anchor="middle">430</text>
<text x="355.6" y="218.4" font-size="21.5" text-anchor="start">450</text>
<text x="362.4" y="274.5" font-size="21.5" text-anchor="start">470</text>
<text x="361.9" y="376.7" font-size="21.5" text-anchor="start">490</text>
<text x="362.5" y="476.3" font-size="21.5" text-anchor="start">510</text>
<text x="362.5" y="508.3" font-size="21.5" text-anchor="start">530</text>
<text x="98.0" y="233.6" font-size="21.5" text-anchor="end">390</text>
<text x="64.5" y="351.4" font-size="21.5" text-anchor="end">370</text>
<text x="57.4" y="407.7" font-size="21.5" text-anchor="end">350</text>
<text x="54.0" y="434.7" font-size="21.5" text-anchor="end">330</text>
<circle cx="221.4" cy="231.1" r="4.5" fill="#e26c56"/>
<circle cx="231.7" cy="233.3" r="4.5" fill="#de604d"/>
<circle cx="239.7" cy="230.6" r="4.5" fill="#e26c56"/>
<circle cx="252.1" cy="241.3" r="4.5" fill="#d64e45"/>
<circle cx="255.1" cy="242.0" r="4.5" fill="#d64e45"/>
<circle cx="281.4" cy="242.0" r="4.5" fill="#c52936"/>
<circle cx="283.6" cy="241.7" r="4.5" fill="#c52936"/>
<circle cx="273.3" cy="248.6" r="4.5" fill="#d64e45"/>
<circle cx="295.3" cy="247.9" r="4.5" fill="#c52936"/>
<circle cx="208.3" cy="257.4" r="4.5" fill="#e7775f"/>
<circle cx="211.2" cy="258.8" r="4.5" fill="#e7775f"/>
<circle cx="234.6" cy="257.4" r="4.5" fill="#e26c56"/>
<circle cx="237.5" cy="257.4" r="4.5" fill="#e26c56"/>
<circle cx="252.1" cy="256.7" r="4.5" fill="#cd3b3d"/>
<circle cx="309.9" cy="260.3" r="4.5" fill="#bc162e"/>
<circle cx="260.2" cy="266.2" r="4.5" fill="#de604d"/>
<circle cx="267.5" cy="261.8" r="4.5" fill="#cd3b3d"/>
<circle cx="279.2" cy="266.9" r="4.5" fill="#cd3b3d"/>
<circle cx="227.3" cy="269.1" r="4.5" fill="#e7775f"/>
<circle cx="228.0" cy="271.3" r="4.5" fill="#e7775f"/>
<circle cx="258.0" cy="277.9" r="4.5" fill="#cd3b3d"/>
<circle cx="294.5" cy="274.9" r="4.5" fill="#bc162e"/>
<circle cx="330.4" cy="278.6" r="4.5" fill="#bc162e"/>
<circle cx="168.8" cy="280.1" r="4.5" fill="#f5b399"/>
<circle cx="167.3" cy="283.7" r="4.5" fill="#f5b399"/>
<circle cx="190.7" cy="286.6" r="4.5" fill="#f4ab8f"/>
<circle cx="227.3" cy="282.2" r="4.5" fill="#e7775f"/>
<circle cx="228.0" cy="284.4" r="4.5" fill="#e7775f"/>
<circle cx="279.9" cy="279.3" r="4.5" fill="#cd3b3d"/>
<circle cx="300.4" cy="285.9" r="4.5" fill="#cd3b3d"/>
<circle cx="312.1" cy="289.6" r="4.5" fill="#c52936"/>
<circle cx="281.4" cy="295.4" r="4.5" fill="#d64e45"/>
<circle cx="282.1" cy="296.9" r="4.5" fill="#d64e45"/>
<circle cx="247.8" cy="299.8" r="4.5" fill="#e7775f"/>
<circle cx="252.1" cy="296.9" r="4.5" fill="#e7775f"/>
<circle cx="260.2" cy="300.5" r="4.5" fill="#de604d"/>
<circle cx="195.1" cy="310.0" r="4.5" fill="#f4ab8f"/>
<circle cx="214.1" cy="308.6" r="4.5" fill="#f49a7b"/>
<circle cx="218.5" cy="307.1" r="4.5" fill="#f49a7b"/>
<circle cx="269.7" cy="306.4" r="4.5" fill="#e26c56"/>
<circle cx="288.7" cy="310.8" r="4.5" fill="#d64e45"/>
<circle cx="294.5" cy="318.1" r="4.5" fill="#d64e45"/>
<circle cx="167.3" cy="314.4" r="4.5" fill="#f5b399"/>
<circle cx="168.1" cy="318.8" r="4.5" fill="#f5b399"/>
<circle cx="267.5" cy="313.7" r="4.5" fill="#de604d"/>
<circle cx="271.9" cy="320.3" r="4.5" fill="#de604d"/>
<circle cx="211.2" cy="322.5" r="4.5" fill="#f49a7b"/>
<circle cx="179.0" cy="326.8" r="4.5" fill="#f5b399"/>
<circle cx="255.8" cy="329.0" r="4.5" fill="#e26c56"/>
<circle cx="269.0" cy="328.3" r="4.5" fill="#de604d"/>
<circle cx="332.6" cy="326.8" r="4.5" fill="#bc162e"/>
<circle cx="134.4" cy="319.5" r="4.5" fill="#e2d8d3"/>
<circle cx="134.4" cy="325.4" r="4.5" fill="#e2d8d3"/>
<circle cx="211.2" cy="334.9" r="4.5" fill="#f49a7b"/>
<circle cx="212.7" cy="337.8" r="4.5" fill="#f49a7b"/>
<circle cx="222.2" cy="334.9" r="4.5" fill="#eb8369"/>
<circle cx="227.3" cy="336.3" r="4.5" fill="#eb8369"/>
<circle cx="245.6" cy="335.6" r="4.5" fill="#e26c56"/>
<circle cx="260.9" cy="340.7" r="4.5" fill="#e7775f"/>
<circle cx="102.3" cy="339.3" r="4.5" fill="#dddddd"/>
<circle cx="121.3" cy="335.6" r="4.5" fill="#dddddd"/>
<circle cx="141.7" cy="342.2" r="4.5" fill="#d6dae3"/>
<circle cx="133.7" cy="347.3" r="4.5" fill="#e7d3ca"/>
<circle cx="134.4" cy="351.7" r="4.5" fill="#e7d3ca"/>
<circle cx="149.8" cy="346.6" r="4.5" fill="#ebcec0"/>
<circle cx="150.5" cy="350.2" r="4.5" fill="#ebcec0"/>
<circle cx="162.2" cy="345.1" r="4.5" fill="#e7d3ca"/>
<circle cx="183.4" cy="349.5" r="4.5" fill="#f5c4ad"/>
<circle cx="203.2" cy="349.5" r="4.5" fill="#f5bca3"/>
<circle cx="207.5" cy="353.2" r="4.5" fill="#f5bca3"/>
<circle cx="233.9" cy="350.2" r="4.5" fill="#f08e72"/>
<circle cx="285.0" cy="342.2" r="4.5" fill="#d64e45"/>
<circle cx="294.5" cy="342.2" r="4.5" fill="#d64e45"/>
<circle cx="297.5" cy="342.9" r="4.5" fill="#d64e45"/>
<circle cx="167.3" cy="359.0" r="4.5" fill="#f5b399"/>
<circle cx="171.0" cy="367.1" r="4.5" fill="#d6dae3"/>
<circle cx="219.2" cy="362.7" r="4.5" fill="#f49a7b"/>
<circle cx="265.3" cy="361.2" r="4.5" fill="#de604d"/>
<circle cx="266.0" cy="364.1" r="4.5" fill="#de604d"/>
<circle cx="285.0" cy="364.1" r="4.5" fill="#de604d"/>
<circle cx="286.5" cy="366.3" r="4.5" fill="#de604d"/>
<circle cx="331.8" cy="366.3" r="4.5" fill="#cd3b3d"/>
<circle cx="104.5" cy="358.3" r="4.5" fill="#dddddd"/>
<circle cx="103.7" cy="364.1" r="4.5" fill="#dddddd"/>
<circle cx="84.0" cy="366.3" r="4.5" fill="#dddddd"/>
<circle cx="82.5" cy="372.2" r="4.5" fill="#dddddd"/>
<circle cx="122.7" cy="364.1" r="4.5" fill="#dddddd"/>
<circle cx="122.7" cy="370.0" r="4.5" fill="#dddddd"/>
<circle cx="155.6" cy="367.1" r="4.5" fill="#f5c4ad"/>
<circle cx="156.4" cy="372.2" r="4.5" fill="#f5c4ad"/>
<circle cx="198.8" cy="367.8" r="4.5" fill="#f5b399"/>
<circle cx="208.3" cy="372.2" r="4.5" fill="#f5b399"/>
<circle cx="101.5" cy="370.7" r="4.5" fill="#dddddd"/>
<circle cx="101.5" cy="378.7" r="4.5" fill="#dddddd"/>
<circle cx="108.8" cy="373.6" r="4.5" fill="#dddddd"/>
<circle cx="109.6" cy="379.5" r="4.5" fill="#dddddd"/>
<circle cx="143.2" cy="374.4" r="4.5" fill="#e7d3ca"/>
<circle cx="150.5" cy="377.3" r="4.5" fill="#e7d3ca"/>
<circle cx="248.5" cy="371.4" r="4.5" fill="#f49a7b"/>
<circle cx="252.9" cy="378.0" r="4.5" fill="#f49a7b"/>
<circle cx="302.6" cy="374.4" r="4.5" fill="#de604d"/>
<circle cx="300.4" cy="378.7" r="4.5" fill="#de604d"/>
<circle cx="323.8" cy="380.2" r="4.5" fill="#cd3b3d"/>
<circle cx="323.8" cy="384.6" r="4.5" fill="#cd3b3d"/>
<circle cx="123.5" cy="382.4" r="4.5" fill="#dddddd"/>
<circle cx="135.2" cy="387.5" r="4.5" fill="#dddddd"/>
<circle cx="152.7" cy="389.7" r="4.5" fill="#dddddd"/>
<circle cx="198.8" cy="380.9" r="4.5" fill="#ebcec0"/>
<circle cx="112.5" cy="386.8" r="4.5" fill="#dddddd"/>
<circle cx="114.0" cy="390.4" r="4.5" fill="#dddddd"/>
<circle cx="192.9" cy="391.9" r="4.5" fill="#f0c9b7"/>
<circle cx="192.9" cy="395.6" r="4.5" fill="#f0c9b7"/>
<circle cx="241.2" cy="388.3" r="4.5" fill="#f4ab8f"/>
<circle cx="242.6" cy="394.1" r="4.5" fill="#f4ab8f"/>
<circle cx="275.5" cy="385.3" r="4.5" fill="#e7775f"/>
<circle cx="276.3" cy="389.7" r="4.5" fill="#e7775f"/>
<circle cx="291.6" cy="394.8" r="4.5" fill="#de604d"/>
<circle cx="292.4" cy="397.8" r="4.5" fill="#de604d"/>
<circle cx="90.6" cy="392.6" r="4.5" fill="#dddddd"/>
<circle cx="90.6" cy="397.8" r="4.5" fill="#dddddd"/>
<circle cx="97.2" cy="396.3" r="4.5" fill="#dddddd"/>
<circle cx="105.9" cy="389.7" r="4.5" fill="#dddddd"/>
<circle cx="107.4" cy="397.0" r="4.5" fill="#dddddd"/>
<circle cx="75.2" cy="401.4" r="4.5" fill="#dddddd"/>
<circle cx="115.4" cy="401.4" r="4.5" fill="#dddddd"/>
<circle cx="114.0" cy="407.3" r="4.5" fill="#dddddd"/>
<circle cx="136.6" cy="399.2" r="4.5" fill="#dddddd"/>
<circle cx="136.6" cy="403.6" r="4.5" fill="#dddddd"/>
<circle cx="159.3" cy="400.0" r="4.5" fill="#dddddd"/>
<circle cx="159.3" cy="402.1" r="4.5" fill="#dddddd"/>
<circle cx="253.6" cy="400.7" r="4.5" fill="#f4a285"/>
<circle cx="254.3" cy="405.8" r="4.5" fill="#f4a285"/>
<circle cx="309.9" cy="401.4" r="4.5" fill="#d64e45"/>
<circle cx="309.9" cy="405.1" r="4.5" fill="#d64e45"/>
<circle cx="230.9" cy="403.6" r="4.5" fill="#f5bca3"/>
<circle cx="225.1" cy="409.5" r="4.5" fill="#e7d3ca"/>
<circle cx="172.5" cy="410.2" r="4.5" fill="#dddddd"/>
<circle cx="260.2" cy="411.6" r="4.5" fill="#f4ab8f"/>
<circle cx="271.9" cy="410.2" r="4.5" fill="#f4ab8f"/>
<circle cx="271.9" cy="415.3" r="4.5" fill="#f4ab8f"/>
<circle cx="283.6" cy="406.5" r="4.5" fill="#eb8369"/>
<circle cx="293.8" cy="413.8" r="4.5" fill="#e26c56"/>
<circle cx="298.2" cy="416.8" r="4.5" fill="#e26c56"/>
<circle cx="326.7" cy="410.2" r="4.5" fill="#d64e45"/>
<circle cx="325.3" cy="413.1" r="4.5" fill="#d64e45"/>
<circle cx="97.2" cy="414.6" r="4.5" fill="#dddddd"/>
<circle cx="120.5" cy="419.7" r="4.5" fill="#dddddd"/>
<circle cx="146.1" cy="417.5" r="4.5" fill="#dddddd"/>
<circle cx="158.6" cy="415.3" r="4.5" fill="#dddddd"/>
<circle cx="187.1" cy="415.3" r="4.5" fill="#d6dae3"/>
<circle cx="186.3" cy="426.3" r="4.5" fill="#d6dae3"/>
<circle cx="214.1" cy="427.7" r="4.5" fill="#d6dae3"/>
<circle cx="214.9" cy="430.7" r="4.5" fill="#d6dae3"/>
<circle cx="233.1" cy="427.0" r="4.5" fill="#e7d3ca"/>
<circle cx="233.9" cy="431.4" r="4.5" fill="#e7d3ca"/>
<circle cx="246.3" cy="421.2" r="4.5" fill="#f5bca3"/>
<circle cx="252.1" cy="422.6" r="4.5" fill="#f5bca3"/>
<circle cx="254.3" cy="427.7" r="4.5" fill="#f5bca3"/>
<circle cx="285.0" cy="421.9" r="4.5" fill="#eb8369"/>
<circle cx="284.3" cy="426.3" r="4.5" fill="#eb8369"/>
<circle cx="307.7" cy="425.5" r="4.5" fill="#de604d"/>
<circle cx="207.5" cy="443.1" r="4.5" fill="#d6dae3"/>
<circle cx="239.0" cy="443.1" r="4.5" fill="#d6dae3"/>
<circle cx="260.9" cy="437.2" r="4.5" fill="#f5c4ad"/>
<circle cx="261.6" cy="441.6" r="4.5" fill="#f5c4ad"/>
<circle cx="296.7" cy="433.6" r="4.5" fill="#f08e72"/>
<circle cx="293.8" cy="442.4" r="4.5" fill="#f08e72"/>
<circle cx="270.4" cy="452.6" r="4.5" fill="#e7d3ca"/>
<line x1="261.4" y1="307.2" x2="202.5" y2="351.2" stroke="#000" stroke-width="2.6"/>
</g>
<g transform="translate(712.93,1165.38) scale(0.866)">
<polyline points="61.5,441.6 63.9,403.3 70.7,348.4 76.5,318 82.5,293.5 100.6,241.8 130.6,214.2 179.3,205.8 250.4,205.2 309.8,207.7 336.1,213.6 344.9,223.3 347.8,239.9 348.3,300 348.5,499.6" fill="none" stroke="#000" stroke-width="3.7" stroke-linejoin="round"/>
<line x1="100.6" y1="241.8" x2="96.5" y2="238.6" stroke="#000" stroke-width="3.5"/>
<line x1="179.3" y1="205.8" x2="179.3" y2="198.8" stroke="#000" stroke-width="3.5"/>
<line x1="309.8" y1="207.7" x2="309.8" y2="200.8" stroke="#000" stroke-width="3.5"/>
<line x1="344.9" y1="223.3" x2="351.2" y2="220.8" stroke="#000" stroke-width="3.5"/>
<line x1="348.3" y1="267.1" x2="355" y2="267.1" stroke="#000" stroke-width="3.5"/>
<line x1="348.4" y1="369.8" x2="355" y2="369.8" stroke="#000" stroke-width="3.5"/>
<line x1="348.5" y1="469.4" x2="355" y2="469.4" stroke="#000" stroke-width="3.5"/>
<line x1="348.5" y1="497.5" x2="355" y2="497.5" stroke="#000" stroke-width="3.5"/>
<line x1="69.6" y1="348.1" x2="64.8" y2="348.1" stroke="#000" stroke-width="3.5"/>
<line x1="63.9" y1="403.3" x2="57.5" y2="403.3" stroke="#000" stroke-width="3.5"/>
<line x1="61.8" y1="430.4" x2="56.5" y2="430.4" stroke="#000" stroke-width="3.5"/>
<text x="180.7" y="183.4" font-size="21.5" text-anchor="middle">410</text>
<text x="315.1" y="185.7" font-size="21.5" text-anchor="middle">430</text>
<text x="355.6" y="218.4" font-size="21.5" text-anchor="start">450</text>
<text x="362.4" y="274.5" font-size="21.5" text-anchor="start">470</text>
<text x="361.9" y="376.7" font-size="21.5" text-anchor="start">490</text>
<text x="362.5" y="476.3" font-size="21.5" text-anchor="start">510</text>
<text x="362.5" y="508.3" font-size="21.5" text-anchor="start">530</text>
<text x="98.0" y="233.6" font-size="21.5" text-anchor="end">390</text>
<text x="64.5" y="351.4" font-size="21.5" text-anchor="end">370</text>
<text x="57.4" y="407.7" font-size="21.5" text-anchor="end">350</text>
<text x="54.0" y="434.7" font-size="21.5" text-anchor="end">330</text>
<circle cx="219.6" cy="231.5" r="4.5" fill="#dddddd"/>
<circle cx="237.2" cy="231.1" r="4.5" fill="#dddddd"/>
<circle cx="241.6" cy="230.3" r="4.5" fill="#dddddd"/>
<circle cx="253.3" cy="241.3" r="4.5" fill="#dddddd"/>
<circle cx="260.6" cy="237.6" r="4.5" fill="#dddddd"/>
<circle cx="281.8" cy="242.0" r="4.5" fill="#e2d8d3"/>
<circle cx="274.5" cy="248.6" r="4.5" fill="#f5c4ad"/>
<circle cx="296.4" cy="248.6" r="4.5" fill="#f5bca3"/>
<circle cx="207.9" cy="256.7" r="4.5" fill="#dddddd"/>
<circle cx="208.7" cy="259.6" r="4.5" fill="#dddddd"/>
<circle cx="234.3" cy="257.4" r="4.5" fill="#e7d3ca"/>
<circle cx="237.9" cy="257.4" r="4.5" fill="#e7d3ca"/>
<circle cx="252.5" cy="256.7" r="4.5" fill="#dddddd"/>
<circle cx="310.3" cy="261.0" r="4.5" fill="#f4a285"/>
<circle cx="258.4" cy="266.2" r="4.5" fill="#f5bca3"/>
<circle cx="262.0" cy="265.4" r="4.5" fill="#f5bca3"/>
<circle cx="279.6" cy="267.6" r="4.5" fill="#f5b399"/>
<circle cx="227.0" cy="269.1" r="4.5" fill="#dadcdf"/>
<circle cx="227.7" cy="271.3" r="4.5" fill="#dadcdf"/>
<circle cx="257.7" cy="277.9" r="4.5" fill="#f5bca3"/>
<circle cx="294.2" cy="275.4" r="4.5" fill="#f4a285"/>
<circle cx="330.8" cy="278.6" r="4.5" fill="#e26c56"/>
<circle cx="167.0" cy="283.7" r="4.5" fill="#dddddd"/>
<circle cx="191.1" cy="286.6" r="4.5" fill="#dddddd"/>
<circle cx="227.7" cy="282.2" r="4.5" fill="#f0c9b7"/>
<circle cx="228.4" cy="284.4" r="4.5" fill="#f0c9b7"/>
<circle cx="279.6" cy="280.8" r="4.5" fill="#f5bca3"/>
<circle cx="302.3" cy="285.9" r="4.5" fill="#eb8369"/>
<circle cx="311.8" cy="291.0" r="4.5" fill="#e26c56"/>
<circle cx="220.4" cy="290.3" r="4.5" fill="#dddddd"/>
<circle cx="244.5" cy="288.8" r="4.5" fill="#f4ab8f"/>
<circle cx="278.1" cy="290.3" r="4.5" fill="#f49a7b"/>
<circle cx="281.8" cy="295.4" r="4.5" fill="#f49a7b"/>
<circle cx="282.5" cy="296.9" r="4.5" fill="#f49a7b"/>
<circle cx="248.9" cy="299.8" r="4.5" fill="#f0c9b7"/>
<circle cx="252.5" cy="297.6" r="4.5" fill="#f0c9b7"/>
<circle cx="260.6" cy="299.8" r="4.5" fill="#f08e72"/>
<circle cx="293.5" cy="302.0" r="4.5" fill="#eb8369"/>
<circle cx="305.9" cy="301.3" r="4.5" fill="#e7775f"/>
<circle cx="175.8" cy="296.1" r="4.5" fill="#dddddd"/>
<circle cx="176.5" cy="300.5" r="4.5" fill="#dddddd"/>
<circle cx="195.5" cy="310.0" r="4.5" fill="#ebcec0"/>
<circle cx="213.8" cy="309.3" r="4.5" fill="#dddddd"/>
<circle cx="268.6" cy="307.8" r="4.5" fill="#f4a285"/>
<circle cx="324.9" cy="307.8" r="4.5" fill="#de604d"/>
<circle cx="167.7" cy="314.4" r="4.5" fill="#dddddd"/>
<circle cx="168.5" cy="319.5" r="4.5" fill="#dddddd"/>
<circle cx="272.3" cy="320.3" r="4.5" fill="#e7775f"/>
<circle cx="270.1" cy="328.3" r="4.5" fill="#e7775f"/>
<circle cx="294.2" cy="318.1" r="4.5" fill="#e26c56"/>
<circle cx="294.9" cy="319.5" r="4.5" fill="#e26c56"/>
<circle cx="305.2" cy="316.6" r="4.5" fill="#de604d"/>
<circle cx="134.1" cy="320.3" r="4.5" fill="#dddddd"/>
<circle cx="134.8" cy="325.4" r="4.5" fill="#dddddd"/>
<circle cx="179.4" cy="327.6" r="4.5" fill="#dddddd"/>
<circle cx="210.9" cy="322.5" r="4.5" fill="#f0c9b7"/>
<circle cx="256.2" cy="329.0" r="4.5" fill="#f08e72"/>
<circle cx="332.2" cy="327.6" r="4.5" fill="#d64e45"/>
<circle cx="102.7" cy="339.3" r="4.5" fill="#dddddd"/>
<circle cx="121.7" cy="335.6" r="4.5" fill="#dddddd"/>
<circle cx="142.1" cy="342.2" r="4.5" fill="#dddddd"/>
<circle cx="133.4" cy="347.3" r="4.5" fill="#dddddd"/>
<circle cx="134.8" cy="351.0" r="4.5" fill="#dddddd"/>
<circle cx="162.6" cy="345.1" r="4.5" fill="#dfdbd9"/>
<circle cx="211.6" cy="334.9" r="4.5" fill="#f5b399"/>
<circle cx="212.3" cy="337.8" r="4.5" fill="#f5b399"/>
<circle cx="246.0" cy="335.6" r="4.5" fill="#f08e72"/>
<circle cx="261.3" cy="340.7" r="4.5" fill="#e7775f"/>
<circle cx="285.4" cy="342.2" r="4.5" fill="#e26c56"/>
<circle cx="294.9" cy="342.2" r="4.5" fill="#e26c56"/>
<circle cx="297.9" cy="342.9" r="4.5" fill="#e26c56"/>
<circle cx="202.8" cy="349.5" r="4.5" fill="#f5bca3"/>
<circle cx="234.3" cy="350.2" r="4.5" fill="#f08e72"/>
<circle cx="308.1" cy="353.9" r="4.5" fill="#cd3b3d"/>
<circle cx="328.6" cy="353.9" r="4.5" fill="#d64e45"/>
<circle cx="104.9" cy="358.3" r="4.5" fill="#dddddd"/>
<circle cx="104.9" cy="364.1" r="4.5" fill="#dddddd"/>
<circle cx="84.4" cy="366.3" r="4.5" fill="#dddddd"/>
<circle cx="82.9" cy="372.2" r="4.5" fill="#dddddd"/>
<circle cx="123.1" cy="364.1" r="4.5" fill="#dddddd"/>
<circle cx="123.1" cy="370.0" r="4.5" fill="#dddddd"/>
<circle cx="167.0" cy="359.7" r="4.5" fill="#d6dae3"/>
<circle cx="171.4" cy="367.1" r="4.5" fill="#f5c4ad"/>
<circle cx="156.8" cy="367.1" r="4.5" fill="#dddddd"/>
<circle cx="156.8" cy="372.2" r="4.5" fill="#dddddd"/>
<circle cx="198.4" cy="367.8" r="4.5" fill="#f5b399"/>
<circle cx="251.8" cy="363.4" r="4.5" fill="#eb8369"/>
<circle cx="266.4" cy="361.2" r="4.5" fill="#e7775f"/>
<circle cx="267.2" cy="364.1" r="4.5" fill="#e7775f"/>
<circle cx="285.4" cy="364.1" r="4.5" fill="#e26c56"/>
<circle cx="286.9" cy="366.3" r="4.5" fill="#e26c56"/>
<circle cx="101.9" cy="370.7" r="4.5" fill="#dddddd"/>
<circle cx="101.9" cy="378.7" r="4.5" fill="#dddddd"/>
<circle cx="109.2" cy="373.6" r="4.5" fill="#dddddd"/>
<circle cx="110.0" cy="379.5" r="4.5" fill="#dddddd"/>
<circle cx="142.9" cy="375.1" r="4.5" fill="#dddddd"/>
<circle cx="150.9" cy="378.0" r="4.5" fill="#dddddd"/>
<circle cx="199.2" cy="380.9" r="4.5" fill="#f5b399"/>
<circle cx="193.3" cy="383.1" r="4.5" fill="#f5b399"/>
<circle cx="229.9" cy="376.6" r="4.5" fill="#f08e72"/>
<circle cx="231.3" cy="382.4" r="4.5" fill="#f08e72"/>
<circle cx="300.1" cy="378.7" r="4.5" fill="#cd3b3d"/>
<circle cx="304.5" cy="374.4" r="4.5" fill="#cd3b3d"/>
<circle cx="324.2" cy="380.2" r="4.5" fill="#bc162e"/>
<circle cx="324.2" cy="385.3" r="4.5" fill="#bc162e"/>
<circle cx="123.9" cy="382.4" r="4.5" fill="#dddddd"/>
<circle cx="135.6" cy="388.3" r="4.5" fill="#dddddd"/>
<circle cx="172.9" cy="384.6" r="4.5" fill="#f5bca3"/>
<circle cx="112.9" cy="386.8" r="4.5" fill="#dddddd"/>
<circle cx="106.3" cy="389.7" r="4.5" fill="#dddddd"/>
<circle cx="191.9" cy="391.9" r="4.5" fill="#f5b399"/>
<circle cx="191.9" cy="394.8" r="4.5" fill="#f5b399"/>
<circle cx="213.1" cy="391.9" r="4.5" fill="#f49a7b"/>
<circle cx="241.6" cy="388.3" r="4.5" fill="#eb8369"/>
<circle cx="245.2" cy="394.1" r="4.5" fill="#eb8369"/>
<circle cx="275.9" cy="385.3" r="4.5" fill="#d64e45"/>
<circle cx="275.9" cy="389.7" r="4.5" fill="#d64e45"/>
<circle cx="292.8" cy="393.4" r="4.5" fill="#c52936"/>
<circle cx="292.8" cy="395.6" r="4.5" fill="#c52936"/>
<circle cx="91.0" cy="392.6" r="4.5" fill="#dddddd"/>
<circle cx="97.6" cy="396.3" r="4.5" fill="#dddddd"/>
<circle cx="91.0" cy="397.0" r="4.5" fill="#dddddd"/>
<circle cx="75.6" cy="401.4" r="4.5" fill="#dddddd"/>
<circle cx="107.8" cy="397.0" r="4.5" fill="#dddddd"/>
<circle cx="111.4" cy="401.4" r="4.5" fill="#dddddd"/>
<circle cx="114.4" cy="407.3" r="4.5" fill="#dddddd"/>
<circle cx="137.0" cy="399.2" r="4.5" fill="#e2d8d3"/>
<circle cx="137.0" cy="403.6" r="4.5" fill="#e2d8d3"/>
<circle cx="159.0" cy="400.7" r="4.5" fill="#f5c4ad"/>
<circle cx="169.9" cy="401.4" r="4.5" fill="#f5bca3"/>
<circle cx="254.0" cy="400.7" r="4.5" fill="#e26c56"/>
<circle cx="254.7" cy="406.5" r="4.5" fill="#e26c56"/>
<circle cx="278.1" cy="402.9" r="4.5" fill="#de604d"/>
<circle cx="278.9" cy="405.1" r="4.5" fill="#de604d"/>
<circle cx="309.6" cy="401.4" r="4.5" fill="#b40426"/>
<circle cx="310.3" cy="405.1" r="4.5" fill="#b40426"/>
<circle cx="327.1" cy="409.5" r="4.5" fill="#b40426"/>
<circle cx="325.7" cy="413.1" r="4.5" fill="#b40426"/>
<circle cx="225.5" cy="409.5" r="4.5" fill="#f08e72"/>
<circle cx="271.6" cy="410.2" r="4.5" fill="#de604d"/>
<circle cx="272.3" cy="415.3" r="4.5" fill="#de604d"/>
<circle cx="292.8" cy="413.8" r="4.5" fill="#c52936"/>
<circle cx="297.9" cy="416.8" r="4.5" fill="#c52936"/>
<circle cx="96.8" cy="414.6" r="4.5" fill="#dddddd"/>
<circle cx="120.9" cy="419.7" r="4.5" fill="#dddddd"/>
<circle cx="146.5" cy="417.5" r="4.5" fill="#f0c9b7"/>
<circle cx="159.0" cy="415.3" r="4.5" fill="#f5bca3"/>
<circle cx="187.5" cy="415.3" r="4.5" fill="#f49a7b"/>
<circle cx="186.0" cy="426.3" r="4.5" fill="#f4ab8f"/>
<circle cx="214.5" cy="427.7" r="4.5" fill="#f08e72"/>
<circle cx="214.5" cy="430.7" r="4.5" fill="#f08e72"/>
<circle cx="233.5" cy="427.0" r="4.5" fill="#f08e72"/>
<circle cx="234.3" cy="431.4" r="4.5" fill="#f08e72"/>
<circle cx="246.7" cy="420.4" r="4.5" fill="#eb8369"/>
<circle cx="246.7" cy="422.6" r="4.5" fill="#eb8369"/>
<circle cx="281.8" cy="429.2" r="4.5" fill="#d64e45"/>
<circle cx="308.1" cy="424.8" r="4.5" fill="#bc162e"/>
<circle cx="207.9" cy="443.1" r="4.5" fill="#f4ab8f"/>
<circle cx="233.5" cy="440.2" r="4.5" fill="#f08e72"/>
<circle cx="239.4" cy="443.1" r="4.5" fill="#f08e72"/>
<circle cx="261.3" cy="437.2" r="4.5" fill="#e7775f"/>
<circle cx="262.0" cy="441.6" r="4.5" fill="#e7775f"/>
<circle cx="297.9" cy="433.6" r="4.5" fill="#c52936"/>
<circle cx="298.6" cy="436.5" r="4.5" fill="#c52936"/>
<circle cx="270.8" cy="452.6" r="4.5" fill="#e7775f"/>
<line x1="202.9" y1="349.8" x2="255" y2="387.1" stroke="#000" stroke-width="2.6"/>
</g>
<g transform="translate(1097.23,1168.68) scale(0.866)">
<polyline points="61.5,441.6 63.9,403.3 70.7,348.4 76.5,318 82.5,293.5 100.6,241.8 130.6,214.2 179.3,205.8 250.4,205.2 309.8,207.7 336.1,213.6 344.9,223.3 347.8,239.9 348.3,300 348.5,499.6" fill="none" stroke="#000" stroke-width="3.7" stroke-linejoin="round"/>
<line x1="100.6" y1="241.8" x2="96.5" y2="238.6" stroke="#000" stroke-width="3.5"/>
<line x1="179.3" y1="205.8" x2="179.3" y2="198.8" stroke="#000" stroke-width="3.5"/>
<line x1="309.8" y1="207.7" x2="309.8" y2="200.8" stroke="#000" stroke-width="3.5"/>
<line x1="344.9" y1="223.3" x2="351.2" y2="220.8" stroke="#000" stroke-width="3.5"/>
<line x1="348.3" y1="267.1" x2="355" y2="267.1" stroke="#000" stroke-width="3.5"/>
<line x1="348.4" y1="369.8" x2="355" y2="369.8" stroke="#000" stroke-width="3.5"/>
<line x1="348.5" y1="469.4" x2="355" y2="469.4" stroke="#000" stroke-width="3.5"/>
<line x1="348.5" y1="497.5" x2="355" y2="497.5" stroke="#000" stroke-width="3.5"/>
<line x1="69.6" y1="348.1" x2="64.8" y2="348.1" stroke="#000" stroke-width="3.5"/>
<line x1="63.9" y1="403.3" x2="57.5" y2="403.3" stroke="#000" stroke-width="3.5"/>
<line x1="61.8" y1="430.4" x2="56.5" y2="430.4" stroke="#000" stroke-width="3.5"/>
<text x="180.7" y="183.4" font-size="21.5" text-anchor="middle">410</text>
<text x="315.1" y="185.7" font-size="21.5" text-anchor="middle">430</text>
<text x="355.6" y="218.4" font-size="21.5" text-anchor="start">450</text>
<text x="362.4" y="274.5" font-size="21.5" text-anchor="start">470</text>
<text x="361.9" y="376.7" font-size="21.5" text-anchor="start">490</text>
<text x="362.5" y="476.3" font-size="21.5" text-anchor="start">510</text>
<text x="362.5" y="508.3" font-size="21.5" text-anchor="start">530</text>
<text x="98.0" y="233.6" font-size="21.5" text-anchor="end">390</text>
<text x="64.5" y="351.4" font-size="21.5" text-anchor="end">370</text>
<text x="57.4" y="407.7" font-size="21.5" text-anchor="end">350</text>
<text x="54.0" y="434.7" font-size="21.5" text-anchor="end">330</text>
<circle cx="220.1" cy="231.2" r="4.5" fill="#ebcec0"/>
<circle cx="238.4" cy="230.3" r="4.5" fill="#d6dae3"/>
<circle cx="253.0" cy="241.0" r="4.5" fill="#f0c9b7"/>
<circle cx="259.6" cy="237.3" r="4.5" fill="#f0c9b7"/>
<circle cx="281.5" cy="241.7" r="4.5" fill="#f5b399"/>
<circle cx="272.0" cy="248.3" r="4.5" fill="#f5bca3"/>
<circle cx="296.1" cy="248.3" r="4.5" fill="#f4ab8f"/>
<circle cx="206.9" cy="257.1" r="4.5" fill="#ced8e8"/>
<circle cx="209.8" cy="258.5" r="4.5" fill="#ced8e8"/>
<circle cx="233.2" cy="257.1" r="4.5" fill="#e2d8d3"/>
<circle cx="236.9" cy="257.1" r="4.5" fill="#e2d8d3"/>
<circle cx="251.5" cy="256.4" r="4.5" fill="#f5b399"/>
<circle cx="309.3" cy="260.4" r="4.5" fill="#f08e72"/>
<circle cx="258.8" cy="265.9" r="4.5" fill="#e7d3ca"/>
<circle cx="261.7" cy="265.4" r="4.5" fill="#e7d3ca"/>
<circle cx="279.3" cy="267.3" r="4.5" fill="#f4ab8f"/>
<circle cx="227.4" cy="268.8" r="4.5" fill="#f5bca3"/>
<circle cx="227.4" cy="271.0" r="4.5" fill="#f5bca3"/>
<circle cx="258.1" cy="277.6" r="4.5" fill="#f5bca3"/>
<circle cx="258.8" cy="279.0" r="4.5" fill="#f5bca3"/>
<circle cx="293.2" cy="275.4" r="4.5" fill="#f08e72"/>
<circle cx="330.5" cy="278.3" r="4.5" fill="#f08e72"/>
<circle cx="166.7" cy="283.4" r="4.5" fill="#f4a285"/>
<circle cx="190.1" cy="286.3" r="4.5" fill="#d6dae3"/>
<circle cx="206.2" cy="281.9" r="4.5" fill="#e2d8d3"/>
<circle cx="227.4" cy="281.9" r="4.5" fill="#e7d3ca"/>
<circle cx="227.4" cy="284.1" r="4.5" fill="#e7d3ca"/>
<circle cx="279.3" cy="280.5" r="4.5" fill="#f08e72"/>
<circle cx="279.3" cy="287.8" r="4.5" fill="#f08e72"/>
<circle cx="244.9" cy="289.3" r="4.5" fill="#e7d3ca"/>
<circle cx="280.8" cy="295.1" r="4.5" fill="#f4ab8f"/>
<circle cx="280.8" cy="296.6" r="4.5" fill="#f4ab8f"/>
<circle cx="247.9" cy="301.7" r="4.5" fill="#f08e72"/>
<circle cx="250.8" cy="298.8" r="4.5" fill="#f08e72"/>
<circle cx="260.3" cy="300.2" r="4.5" fill="#e7d3ca"/>
<circle cx="269.1" cy="306.1" r="4.5" fill="#f08e72"/>
<circle cx="305.6" cy="301.0" r="4.5" fill="#f08e72"/>
<circle cx="174.7" cy="296.6" r="4.5" fill="#ebcec0"/>
<circle cx="175.5" cy="301.7" r="4.5" fill="#ebcec0"/>
<circle cx="195.2" cy="309.7" r="4.5" fill="#e7d3ca"/>
<circle cx="213.5" cy="309.0" r="4.5" fill="#f4ab8f"/>
<circle cx="272.0" cy="320.0" r="4.5" fill="#f49a7b"/>
<circle cx="269.8" cy="326.5" r="4.5" fill="#f5b399"/>
<circle cx="293.9" cy="317.8" r="4.5" fill="#f5b399"/>
<circle cx="304.2" cy="316.3" r="4.5" fill="#f08e72"/>
<circle cx="167.4" cy="314.1" r="4.5" fill="#f5bca3"/>
<circle cx="167.4" cy="319.2" r="4.5" fill="#f5bca3"/>
<circle cx="133.8" cy="320.0" r="4.5" fill="#eb8369"/>
<circle cx="133.8" cy="325.1" r="4.5" fill="#eb8369"/>
<circle cx="209.8" cy="322.9" r="4.5" fill="#f5b399"/>
<circle cx="255.2" cy="328.7" r="4.5" fill="#f08e72"/>
<circle cx="331.9" cy="327.3" r="4.5" fill="#f49a7b"/>
<circle cx="193.8" cy="337.5" r="4.5" fill="#f0c9b7"/>
<circle cx="194.5" cy="339.7" r="4.5" fill="#f0c9b7"/>
<circle cx="211.3" cy="334.6" r="4.5" fill="#f5bca3"/>
<circle cx="212.0" cy="337.5" r="4.5" fill="#f5bca3"/>
<circle cx="245.7" cy="335.3" r="4.5" fill="#f5c4ad"/>
<circle cx="293.2" cy="333.1" r="4.5" fill="#f08e72"/>
<circle cx="302.7" cy="331.7" r="4.5" fill="#f08e72"/>
<circle cx="101.6" cy="339.7" r="4.5" fill="#cd3b3d"/>
<circle cx="120.6" cy="336.0" r="4.5" fill="#f5b399"/>
<circle cx="141.1" cy="341.9" r="4.5" fill="#f5b399"/>
<circle cx="133.1" cy="346.3" r="4.5" fill="#f08e72"/>
<circle cx="133.8" cy="351.4" r="4.5" fill="#f08e72"/>
<circle cx="285.1" cy="342.6" r="4.5" fill="#f49a7b"/>
<circle cx="293.9" cy="341.9" r="4.5" fill="#f5b399"/>
<circle cx="296.8" cy="342.6" r="4.5" fill="#f5b399"/>
<circle cx="299.0" cy="348.5" r="4.5" fill="#f08e72"/>
<circle cx="312.2" cy="348.5" r="4.5" fill="#f49a7b"/>
<circle cx="204.0" cy="349.9" r="4.5" fill="#f5bca3"/>
<circle cx="204.7" cy="354.3" r="4.5" fill="#f5bca3"/>
<circle cx="234.0" cy="349.9" r="4.5" fill="#f5c4ad"/>
<circle cx="103.8" cy="358.0" r="4.5" fill="#de604d"/>
<circle cx="104.6" cy="363.8" r="4.5" fill="#de604d"/>
<circle cx="84.1" cy="366.0" r="4.5" fill="#bc162e"/>
<circle cx="82.6" cy="371.9" r="4.5" fill="#bc162e"/>
<circle cx="122.1" cy="363.8" r="4.5" fill="#f5b399"/>
<circle cx="122.8" cy="369.7" r="4.5" fill="#f5b399"/>
<circle cx="166.0" cy="359.4" r="4.5" fill="#f4a285"/>
<circle cx="167.4" cy="368.9" r="4.5" fill="#f4a285"/>
<circle cx="171.1" cy="366.8" r="4.5" fill="#f4a285"/>
<circle cx="178.4" cy="357.2" r="4.5" fill="#f49a7b"/>
<circle cx="250.8" cy="363.8" r="4.5" fill="#eb8369"/>
<circle cx="266.1" cy="361.6" r="4.5" fill="#f49a7b"/>
<circle cx="266.9" cy="363.8" r="4.5" fill="#f49a7b"/>
<circle cx="285.1" cy="363.8" r="4.5" fill="#f4a285"/>
<circle cx="286.6" cy="366.0" r="4.5" fill="#f4a285"/>
<circle cx="331.2" cy="366.0" r="4.5" fill="#f49a7b"/>
<circle cx="101.6" cy="370.4" r="4.5" fill="#e7775f"/>
<circle cx="101.6" cy="378.4" r="4.5" fill="#e7775f"/>
<circle cx="108.9" cy="373.3" r="4.5" fill="#e7775f"/>
<circle cx="109.7" cy="378.4" r="4.5" fill="#e7775f"/>
<circle cx="142.6" cy="374.1" r="4.5" fill="#f4a285"/>
<circle cx="149.9" cy="377.7" r="4.5" fill="#f4a285"/>
<circle cx="198.9" cy="380.6" r="4.5" fill="#f4a285"/>
<circle cx="192.3" cy="383.6" r="4.5" fill="#eb8369"/>
<circle cx="223.0" cy="379.2" r="4.5" fill="#f49a7b"/>
<circle cx="229.6" cy="376.3" r="4.5" fill="#f49a7b"/>
<circle cx="231.0" cy="382.1" r="4.5" fill="#f49a7b"/>
<circle cx="248.6" cy="371.1" r="4.5" fill="#f0c9b7"/>
<circle cx="249.3" cy="374.8" r="4.5" fill="#f0c9b7"/>
<circle cx="299.8" cy="379.9" r="4.5" fill="#f08e72"/>
<circle cx="323.2" cy="379.9" r="4.5" fill="#f4a285"/>
<circle cx="323.9" cy="385.0" r="4.5" fill="#f4a285"/>
<circle cx="122.8" cy="382.8" r="4.5" fill="#f08e72"/>
<circle cx="134.5" cy="388.0" r="4.5" fill="#f4a285"/>
<circle cx="151.4" cy="390.1" r="4.5" fill="#f49a7b"/>
<circle cx="106.8" cy="383.6" r="4.5" fill="#f08e72"/>
<circle cx="107.5" cy="390.9" r="4.5" fill="#f08e72"/>
<circle cx="191.6" cy="391.6" r="4.5" fill="#f08e72"/>
<circle cx="191.6" cy="395.3" r="4.5" fill="#f08e72"/>
<circle cx="212.0" cy="391.6" r="4.5" fill="#f08e72"/>
<circle cx="241.3" cy="388.0" r="4.5" fill="#f4a285"/>
<circle cx="242.0" cy="393.8" r="4.5" fill="#f4a285"/>
<circle cx="274.9" cy="385.0" r="4.5" fill="#f4a285"/>
<circle cx="274.9" cy="389.4" r="4.5" fill="#f4a285"/>
<circle cx="291.7" cy="394.5" r="4.5" fill="#f49a7b"/>
<circle cx="292.5" cy="397.5" r="4.5" fill="#f49a7b"/>
<circle cx="90.7" cy="392.3" r="4.5" fill="#de604d"/>
<circle cx="90.7" cy="396.7" r="4.5" fill="#de604d"/>
<circle cx="96.5" cy="396.0" r="4.5" fill="#de604d"/>
<circle cx="74.6" cy="401.1" r="4.5" fill="#bc162e"/>
<circle cx="108.2" cy="397.5" r="4.5" fill="#e26c56"/>
<circle cx="112.6" cy="403.3" r="4.5" fill="#e26c56"/>
<circle cx="114.1" cy="409.2" r="4.5" fill="#cd3b3d"/>
<circle cx="136.0" cy="398.2" r="4.5" fill="#d64e45"/>
<circle cx="136.0" cy="402.6" r="4.5" fill="#eb8369"/>
<circle cx="158.7" cy="400.4" r="4.5" fill="#f08e72"/>
<circle cx="158.7" cy="402.6" r="4.5" fill="#f08e72"/>
<circle cx="253.0" cy="400.4" r="4.5" fill="#f4a285"/>
<circle cx="253.7" cy="405.5" r="4.5" fill="#f4a285"/>
<circle cx="278.6" cy="403.3" r="4.5" fill="#f4ab8f"/>
<circle cx="278.6" cy="405.5" r="4.5" fill="#f4ab8f"/>
<circle cx="310.0" cy="401.1" r="4.5" fill="#f4a285"/>
<circle cx="230.3" cy="403.3" r="4.5" fill="#f08e72"/>
<circle cx="225.2" cy="409.2" r="4.5" fill="#f08e72"/>
<circle cx="271.3" cy="409.9" r="4.5" fill="#f49a7b"/>
<circle cx="272.0" cy="414.3" r="4.5" fill="#f49a7b"/>
<circle cx="292.5" cy="413.5" r="4.5" fill="#f4a285"/>
<circle cx="297.6" cy="417.2" r="4.5" fill="#f4a285"/>
<circle cx="326.8" cy="409.9" r="4.5" fill="#f4a285"/>
<circle cx="325.4" cy="412.8" r="4.5" fill="#f4a285"/>
<circle cx="96.5" cy="414.3" r="4.5" fill="#cd3b3d"/>
<circle cx="120.6" cy="419.4" r="4.5" fill="#c52936"/>
<circle cx="145.5" cy="417.2" r="4.5" fill="#e26c56"/>
<circle cx="157.9" cy="415.7" r="4.5" fill="#bc162e"/>
<circle cx="186.4" cy="415.0" r="4.5" fill="#eb8369"/>
<circle cx="185.7" cy="426.0" r="4.5" fill="#bc162e"/>
<circle cx="213.5" cy="427.4" r="4.5" fill="#e26c56"/>
<circle cx="214.2" cy="430.4" r="4.5" fill="#e26c56"/>
<circle cx="232.5" cy="426.7" r="4.5" fill="#de604d"/>
<circle cx="233.2" cy="431.1" r="4.5" fill="#de604d"/>
<circle cx="251.5" cy="422.3" r="4.5" fill="#f08e72"/>
<circle cx="253.0" cy="428.2" r="4.5" fill="#f08e72"/>
<circle cx="284.4" cy="421.6" r="4.5" fill="#f49a7b"/>
<circle cx="281.5" cy="428.9" r="4.5" fill="#f49a7b"/>
<circle cx="307.1" cy="425.2" r="4.5" fill="#f4a285"/>
<circle cx="206.9" cy="442.8" r="4.5" fill="#b40426"/>
<circle cx="225.9" cy="442.8" r="4.5" fill="#cd3b3d"/>
<circle cx="238.4" cy="443.5" r="4.5" fill="#b40426"/>
<circle cx="261.0" cy="437.7" r="4.5" fill="#de604d"/>
<circle cx="261.7" cy="441.3" r="4.5" fill="#de604d"/>
<circle cx="296.8" cy="433.3" r="4.5" fill="#f08e72"/>
<circle cx="293.9" cy="442.1" r="4.5" fill="#f08e72"/>
<circle cx="269.8" cy="452.3" r="4.5" fill="#cd3b3d"/>
<line x1="203.4" y1="347.9" x2="195.3" y2="373.6" stroke="#000" stroke-width="2.6"/>
</g>
<g transform="translate(1460.93,1166.88) scale(0.866)">
<polyline points="61.5,441.6 63.9,403.3 70.7,348.4 76.5,318 82.5,293.5 100.6,241.8 130.6,214.2 179.3,205.8 250.4,205.2 309.8,207.7 336.1,213.6 344.9,223.3 347.8,239.9 348.3,300 348.5,499.6" fill="none" stroke="#000" stroke-width="3.7" stroke-linejoin="round"/>
<line x1="100.6" y1="241.8" x2="96.5" y2="238.6" stroke="#000" stroke-width="3.5"/>
<line x1="179.3" y1="205.8" x2="179.3" y2="198.8" stroke="#000" stroke-width="3.5"/>
<line x1="309.8" y1="207.7" x2="309.8" y2="200.8" stroke="#000" stroke-width="3.5"/>
<line x1="344.9" y1="223.3" x2="351.2" y2="220.8" stroke="#000" stroke-width="3.5"/>
<line x1="348.3" y1="267.1" x2="355" y2="267.1" stroke="#000" stroke-width="3.5"/>
<line x1="348.4" y1="369.8" x2="355" y2="369.8" stroke="#000" stroke-width="3.5"/>
<line x1="348.5" y1="469.4" x2="355" y2="469.4" stroke="#000" stroke-width="3.5"/>
<line x1="348.5" y1="497.5" x2="355" y2="497.5" stroke="#000" stroke-width="3.5"/>
<line x1="69.6" y1="348.1" x2="64.8" y2="348.1" stroke="#000" stroke-width="3.5"/>
<line x1="63.9" y1="403.3" x2="57.5" y2="403.3" stroke="#000" stroke-width="3.5"/>
<line x1="61.8" y1="430.4" x2="56.5" y2="430.4" stroke="#000" stroke-width="3.5"/>
<text x="180.7" y="183.4" font-size="21.5" text-anchor="middle">410</text>
<text x="315.1" y="185.7" font-size="21.5" text-anchor="middle">430</text>
<text x="355.6" y="218.4" font-size="21.5" text-anchor="start">450</text>
<text x="362.4" y="274.5" font-size="21.5" text-anchor="start">470</text>
<text x="361.9" y="376.7" font-size="21.5" text-anchor="start">490</text>
<text x="362.5" y="476.3" font-size="21.5" text-anchor="start">510</text>
<text x="362.5" y="508.3" font-size="21.5" text-anchor="start">530</text>
<text x="98.0" y="233.6" font-size="21.5" text-anchor="end">390</text>
<text x="64.5" y="351.4" font-size="21.5" text-anchor="end">370</text>
<text x="57.4" y="407.7" font-size="21.5" text-anchor="end">350</text>
<text x="54.0" y="434.7" font-size="21.5" text-anchor="end">330</text>
<circle cx="220.4" cy="231.0" r="4.5" fill="#e3d7d1"/>
<circle cx="238.3" cy="230.2" r="4.5" fill="#e9d0c4"/>
<circle cx="252.9" cy="240.8" r="4.5" fill="#f0cab8"/>
<circle cx="258.6" cy="237.5" r="4.5" fill="#f1c8b4"/>
<circle cx="281.4" cy="241.6" r="4.5" fill="#f5bea6"/>
<circle cx="272.4" cy="248.1" r="4.5" fill="#f5c0a9"/>
<circle cx="296.0" cy="248.1" r="4.5" fill="#f5b79d"/>
<circle cx="208.3" cy="256.2" r="4.5" fill="#e0d9d6"/>
<circle cx="209.9" cy="258.6" r="4.5" fill="#e1d9d4"/>
<circle cx="233.9" cy="257.0" r="4.5" fill="#eacfc3"/>
<circle cx="236.7" cy="256.5" r="4.5" fill="#ebcec1"/>
<circle cx="251.8" cy="256.2" r="4.5" fill="#f1c9b6"/>
<circle cx="309.8" cy="259.8" r="4.5" fill="#f4af93"/>
<circle cx="259.4" cy="265.1" r="4.5" fill="#f4c5af"/>
<circle cx="264.3" cy="263.5" r="4.5" fill="#f5c3ab"/>
<circle cx="268.4" cy="261.1" r="4.5" fill="#f5c0a9"/>
<circle cx="279.7" cy="267.6" r="4.5" fill="#f5baa1"/>
<circle cx="226.9" cy="268.4" r="4.5" fill="#e8d1c6"/>
<circle cx="227.8" cy="271.6" r="4.5" fill="#e9d0c5"/>
<circle cx="257.8" cy="277.0" r="4.5" fill="#f5c4ae"/>
<circle cx="260.2" cy="278.9" r="4.5" fill="#f5c3ac"/>
<circle cx="293.5" cy="274.9" r="4.5" fill="#f5b298"/>
<circle cx="330.1" cy="278.1" r="4.5" fill="#f4a183"/>
<circle cx="167.3" cy="283.0" r="4.5" fill="#f2c7b2"/>
<circle cx="190.1" cy="286.2" r="4.5" fill="#e9d1c5"/>
<circle cx="206.6" cy="282.2" r="4.5" fill="#e2d8d3"/>
<circle cx="227.8" cy="283.0" r="4.5" fill="#eacfc3"/>
<circle cx="244.8" cy="288.7" r="4.5" fill="#f1c8b4"/>
<circle cx="278.9" cy="280.6" r="4.5" fill="#f5b89f"/>
<circle cx="279.7" cy="287.1" r="4.5" fill="#f5b69d"/>
<circle cx="280.6" cy="295.2" r="4.5" fill="#f5b399"/>
<circle cx="175.4" cy="296.0" r="4.5" fill="#f2c8b4"/>
<circle cx="175.8" cy="300.9" r="4.5" fill="#f3c6b2"/>
<circle cx="248.9" cy="298.4" r="4.5" fill="#f5c3ac"/>
<circle cx="246.4" cy="301.7" r="4.5" fill="#f5c3ac"/>
<circle cx="259.4" cy="300.1" r="4.5" fill="#f5bca3"/>
<circle cx="305.7" cy="300.9" r="4.5" fill="#f4a78b"/>
<circle cx="269.7" cy="305.7" r="4.5" fill="#f5b399"/>
<circle cx="195.3" cy="309.8" r="4.5" fill="#edccbc"/>
<circle cx="213.5" cy="309.5" r="4.5" fill="#edcdbe"/>
<circle cx="167.6" cy="315.5" r="4.5" fill="#f5bca4"/>
<circle cx="167.6" cy="319.6" r="4.5" fill="#f5bba2"/>
<circle cx="294.4" cy="317.9" r="4.5" fill="#f4a78a"/>
<circle cx="304.1" cy="316.0" r="4.5" fill="#f4a588"/>
<circle cx="134.3" cy="320.4" r="4.5" fill="#f4a68a"/>
<circle cx="134.3" cy="325.2" r="4.5" fill="#f4a588"/>
<circle cx="209.9" cy="322.8" r="4.5" fill="#efcab8"/>
<circle cx="271.6" cy="319.6" r="4.5" fill="#f4ad91"/>
<circle cx="270.0" cy="326.9" r="4.5" fill="#f4aa8e"/>
<circle cx="331.7" cy="326.9" r="4.5" fill="#f49c7d"/>
<circle cx="121.3" cy="335.5" r="4.5" fill="#f49a7b"/>
<circle cx="102.3" cy="338.7" r="4.5" fill="#ed886d"/>
<circle cx="255.0" cy="329.3" r="4.5" fill="#f5b197"/>
<circle cx="245.6" cy="335.8" r="4.5" fill="#f5b399"/>
<circle cx="211.5" cy="334.2" r="4.5" fill="#f4c6b0"/>
<circle cx="211.8" cy="338.2" r="4.5" fill="#f5c4ad"/>
<circle cx="194.5" cy="338.2" r="4.5" fill="#f5c2ab"/>
<circle cx="293.5" cy="334.2" r="4.5" fill="#f4a385"/>
<circle cx="302.5" cy="331.7" r="4.5" fill="#f4a184"/>
<circle cx="285.4" cy="342.3" r="4.5" fill="#f4a184"/>
<circle cx="294.4" cy="340.7" r="4.5" fill="#f4a183"/>
<circle cx="299.2" cy="348.0" r="4.5" fill="#f49f81"/>
<circle cx="141.7" cy="340.7" r="4.5" fill="#f4a487"/>
<circle cx="134.3" cy="346.4" r="4.5" fill="#f49e80"/>
<circle cx="134.3" cy="351.2" r="4.5" fill="#f49c7d"/>
<circle cx="205.0" cy="349.6" r="4.5" fill="#f5c0a9"/>
<circle cx="203.4" cy="355.3" r="4.5" fill="#f5bba3"/>
<circle cx="234.3" cy="349.6" r="4.5" fill="#f5b398"/>
<circle cx="312.2" cy="348.5" r="4.5" fill="#f49d7f"/>
<circle cx="178.2" cy="356.9" r="4.5" fill="#f4af93"/>
<circle cx="166.8" cy="359.4" r="4.5" fill="#f4a88c"/>
<circle cx="168.5" cy="368.3" r="4.5" fill="#f4a386"/>
<circle cx="104.3" cy="358.5" r="4.5" fill="#e97d64"/>
<circle cx="104.0" cy="362.6" r="4.5" fill="#e87a62"/>
<circle cx="84.5" cy="366.3" r="4.5" fill="#e06752"/>
<circle cx="82.8" cy="372.3" r="4.5" fill="#de614e"/>
<circle cx="122.2" cy="363.4" r="4.5" fill="#ee8a6e"/>
<circle cx="122.5" cy="369.1" r="4.5" fill="#ed876c"/>
<circle cx="250.5" cy="363.4" r="4.5" fill="#f4a68a"/>
<circle cx="265.9" cy="361.8" r="4.5" fill="#f4a184"/>
<circle cx="284.6" cy="363.4" r="4.5" fill="#f49f81"/>
<circle cx="286.2" cy="365.9" r="4.5" fill="#f49f81"/>
<circle cx="331.7" cy="365.9" r="4.5" fill="#f49d7f"/>
<circle cx="101.9" cy="371.5" r="4.5" fill="#e5735c"/>
<circle cx="102.3" cy="379.7" r="4.5" fill="#e36e58"/>
<circle cx="110.0" cy="373.2" r="4.5" fill="#e77961"/>
<circle cx="110.5" cy="378.8" r="4.5" fill="#e6765e"/>
<circle cx="143.3" cy="374.0" r="4.5" fill="#f29577"/>
<circle cx="149.8" cy="376.4" r="4.5" fill="#f39778"/>
<circle cx="248.1" cy="372.3" r="4.5" fill="#f4a487"/>
<circle cx="225.3" cy="378.0" r="4.5" fill="#f4a78a"/>
<circle cx="229.4" cy="376.4" r="4.5" fill="#f4a78a"/>
<circle cx="231.0" cy="381.3" r="4.5" fill="#f4a487"/>
<circle cx="300.0" cy="379.7" r="4.5" fill="#f49e80"/>
<circle cx="323.6" cy="380.5" r="4.5" fill="#f49f81"/>
<circle cx="323.6" cy="384.5" r="4.5" fill="#f49f81"/>
<circle cx="123.0" cy="382.6" r="4.5" fill="#ea7f65"/>
<circle cx="193.6" cy="382.9" r="4.5" fill="#f4a386"/>
<circle cx="198.5" cy="379.7" r="4.5" fill="#f4a78b"/>
<circle cx="108.4" cy="387.8" r="4.5" fill="#e36e58"/>
<circle cx="107.5" cy="394.3" r="4.5" fill="#e26954"/>
<circle cx="134.8" cy="387.8" r="4.5" fill="#ec866b"/>
<circle cx="151.4" cy="389.4" r="4.5" fill="#f08e72"/>
<circle cx="212.3" cy="391.0" r="4.5" fill="#f4a082"/>
<circle cx="241.6" cy="387.8" r="4.5" fill="#f49f81"/>
<circle cx="242.4" cy="394.3" r="4.5" fill="#f49c7e"/>
<circle cx="274.9" cy="385.3" r="4.5" fill="#f49d7e"/>
<circle cx="276.5" cy="389.4" r="4.5" fill="#f49c7d"/>
<circle cx="191.2" cy="393.5" r="4.5" fill="#f49b7c"/>
<circle cx="291.1" cy="393.5" r="4.5" fill="#f49d7e"/>
<circle cx="292.7" cy="396.7" r="4.5" fill="#f49d7e"/>
<circle cx="91.0" cy="395.1" r="4.5" fill="#da5749"/>
<circle cx="96.2" cy="395.9" r="4.5" fill="#dd5d4c"/>
<circle cx="75.0" cy="401.6" r="4.5" fill="#cd3a3d"/>
<circle cx="136.5" cy="400.0" r="4.5" fill="#ea8066"/>
<circle cx="136.8" cy="404.0" r="4.5" fill="#e97d64"/>
<circle cx="159.5" cy="400.8" r="4.5" fill="#ee896e"/>
<circle cx="253.7" cy="400.8" r="4.5" fill="#f49a7b"/>
<circle cx="254.6" cy="405.7" r="4.5" fill="#f39778"/>
<circle cx="229.4" cy="403.2" r="4.5" fill="#f39778"/>
<circle cx="224.5" cy="408.9" r="4.5" fill="#f09173"/>
<circle cx="278.1" cy="404.8" r="4.5" fill="#f49a7b"/>
<circle cx="309.8" cy="400.8" r="4.5" fill="#f49f80"/>
<circle cx="110.0" cy="402.4" r="4.5" fill="#e06752"/>
<circle cx="112.4" cy="407.3" r="4.5" fill="#e06652"/>
<circle cx="114.0" cy="410.5" r="4.5" fill="#e06551"/>
<circle cx="271.6" cy="410.5" r="4.5" fill="#f39678"/>
<circle cx="272.4" cy="415.4" r="4.5" fill="#f29577"/>
<circle cx="326.9" cy="410.5" r="4.5" fill="#f49f81"/>
<circle cx="323.6" cy="413.8" r="4.5" fill="#f49e80"/>
<circle cx="292.7" cy="415.4" r="4.5" fill="#f4997a"/>
<circle cx="296.0" cy="417.8" r="4.5" fill="#f4997a"/>
<circle cx="96.2" cy="414.6" r="4.5" fill="#d54d45"/>
<circle cx="120.5" cy="419.5" r="4.5" fill="#e06551"/>
<circle cx="145.7" cy="417.0" r="4.5" fill="#e7775f"/>
<circle cx="157.9" cy="415.4" r="4.5" fill="#e87b62"/>
<circle cx="186.3" cy="415.4" r="4.5" fill="#eb8167"/>
<circle cx="252.1" cy="421.9" r="4.5" fill="#ef8c70"/>
<circle cx="252.9" cy="426.8" r="4.5" fill="#ed896d"/>
<circle cx="283.8" cy="421.9" r="4.5" fill="#f29577"/>
<circle cx="282.2" cy="428.4" r="4.5" fill="#f19275"/>
<circle cx="307.4" cy="425.1" r="4.5" fill="#f4997a"/>
<circle cx="186.3" cy="426.0" r="4.5" fill="#e6755d"/>
<circle cx="213.5" cy="426.8" r="4.5" fill="#e87961"/>
<circle cx="214.4" cy="430.0" r="4.5" fill="#e6765e"/>
<circle cx="232.6" cy="426.0" r="4.5" fill="#eb8268"/>
<circle cx="233.4" cy="431.6" r="4.5" fill="#e97d64"/>
<circle cx="296.0" cy="434.1" r="4.5" fill="#f29476"/>
<circle cx="293.5" cy="441.4" r="4.5" fill="#f09174"/>
<circle cx="260.2" cy="437.3" r="4.5" fill="#ec866b"/>
<circle cx="261.9" cy="441.4" r="4.5" fill="#ec856a"/>
<circle cx="206.6" cy="443.0" r="4.5" fill="#de614e"/>
<circle cx="226.1" cy="442.2" r="4.5" fill="#e36e58"/>
<circle cx="238.3" cy="443.0" r="4.5" fill="#e6755e"/>
<circle cx="270.0" cy="453.6" r="4.5" fill="#ec856b"/>
<circle cx="150.2" cy="347.6" r="4.5" fill="#f4a68a"/>
<circle cx="150.7" cy="352.8" r="4.5" fill="#f4a487"/>
<circle cx="162.5" cy="345.4" r="4.5" fill="#f4ae93"/>
<circle cx="179.1" cy="327.0" r="4.5" fill="#f5bfa7"/>
<circle cx="183.5" cy="349.7" r="4.5" fill="#f5b69c"/>
<circle cx="155.9" cy="368.1" r="4.5" fill="#f49e80"/>
<circle cx="198.8" cy="367.7" r="4.5" fill="#f5b095"/>
<circle cx="208.4" cy="372.1" r="4.5" fill="#f4ae93"/>
<circle cx="105.2" cy="384.3" r="4.5" fill="#e36e58"/>
<circle cx="113.1" cy="386.9" r="4.5" fill="#e5735c"/>
<circle cx="117.4" cy="400.9" r="4.5" fill="#e36e58"/>
<circle cx="172.6" cy="409.7" r="4.5" fill="#ec846a"/>
<line x1="203.4" y1="349.2" x2="199.4" y2="374.9" stroke="#000" stroke-width="2.6"/>
</g>
<g transform="translate(1818.93,1167.38) scale(0.866)">
<polyline points="61.5,441.6 63.9,403.3 70.7,348.4 76.5,318 82.5,293.5 100.6,241.8 130.6,214.2 179.3,205.8 250.4,205.2 309.8,207.7 336.1,213.6 344.9,223.3 347.8,239.9 348.3,300 348.5,499.6" fill="none" stroke="#000" stroke-width="3.7" stroke-linejoin="round"/>
<line x1="100.6" y1="241.8" x2="96.5" y2="238.6" stroke="#000" stroke-width="3.5"/>
<line x1="179.3" y1="205.8" x2="179.3" y2="198.8" stroke="#000" stroke-width="3.5"/>
<line x1="309.8" y1="207.7" x2="309.8" y2="200.8" stroke="#000" stroke-width="3.5"/>
<line x1="344.9" y1="223.3" x2="351.2" y2="220.8" stroke="#000" stroke-width="3.5"/>
<line x1="348.3" y1="267.1" x2="355" y2="267.1" stroke="#000" stroke-width="3.5"/>
<line x1="348.4" y1="369.8" x2="355" y2="369.8" stroke="#000" stroke-width="3.5"/>
<line x1="348.5" y1="469.4" x2="355" y2="469.4" stroke="#000" stroke-width="3.5"/>
<line x1="348.5" y1="497.5" x2="355" y2="497.5" stroke="#000" stroke-width="3.5"/>
<line x1="69.6" y1="348.1" x2="64.8" y2="348.1" stroke="#000" stroke-width="3.5"/>
<line x1="63.9" y1="403.3" x2="57.5" y2="403.3" stroke="#000" stroke-width="3.5"/>
<line x1="61.8" y1="430.4" x2="56.5" y2="430.4" stroke="#000" stroke-width="3.5"/>
<text x="180.7" y="183.4" font-size="21.5" text-anchor="middle">410</text>
<text x="315.1" y="185.7" font-size="21.5" text-anchor="middle">430</text>
<text x="355.6" y="218.4" font-size="21.5" text-anchor="start">450</text>
<text x="362.4" y="274.5" font-size="21.5" text-anchor="start">470</text>
<text x="361.9" y="376.7" font-size="21.5" text-anchor="start">490</text>
<text x="362.5" y="476.3" font-size="21.5" text-anchor="start">510</text>
<text x="362.5" y="508.3" font-size="21.5" text-anchor="start">530</text>
<text x="98.0" y="233.6" font-size="21.5" text-anchor="end">390</text>
<text x="64.5" y="351.4" font-size="21.5" text-anchor="end">370</text>
<text x="57.4" y="407.7" font-size="21.5" text-anchor="end">350</text>
<text x="54.0" y="434.7" font-size="21.5" text-anchor="end">330</text>
<circle cx="220.4" cy="231.0" r="4.5" fill="#f08e72"/>
<circle cx="238.3" cy="230.2" r="4.5" fill="#d6dae3"/>
<circle cx="252.9" cy="240.8" r="4.5" fill="#d6dae3"/>
<circle cx="258.6" cy="237.5" r="4.5" fill="#d6dae3"/>
<circle cx="281.4" cy="241.6" r="4.5" fill="#d6dae3"/>
<circle cx="272.4" cy="248.1" r="4.5" fill="#d6dae3"/>
<circle cx="296.0" cy="248.1" r="4.5" fill="#d6dae3"/>
<circle cx="208.3" cy="256.2" r="4.5" fill="#d6dae3"/>
<circle cx="209.9" cy="258.6" r="4.5" fill="#d6dae3"/>
<circle cx="233.9" cy="257.0" r="4.5" fill="#d6dae3"/>
<circle cx="236.7" cy="256.5" r="4.5" fill="#d6dae3"/>
<circle cx="251.8" cy="256.2" r="4.5" fill="#d6dae3"/>
<circle cx="309.8" cy="259.8" r="4.5" fill="#d6dae3"/>
<circle cx="259.4" cy="265.1" r="4.5" fill="#d6dae3"/>
<circle cx="264.3" cy="263.5" r="4.5" fill="#d6dae3"/>
<circle cx="268.4" cy="261.1" r="4.5" fill="#d6dae3"/>
<circle cx="279.7" cy="267.6" r="4.5" fill="#d6dae3"/>
<circle cx="226.9" cy="268.4" r="4.5" fill="#d6dae3"/>
<circle cx="227.8" cy="271.6" r="4.5" fill="#d6dae3"/>
<circle cx="257.8" cy="277.0" r="4.5" fill="#d6dae3"/>
<circle cx="260.2" cy="278.9" r="4.5" fill="#d6dae3"/>
<circle cx="293.5" cy="274.9" r="4.5" fill="#d6dae3"/>
<circle cx="330.1" cy="278.1" r="4.5" fill="#d6dae3"/>
<circle cx="167.3" cy="283.0" r="4.5" fill="#b40426"/>
<circle cx="190.1" cy="286.2" r="4.5" fill="#d6dae3"/>
<circle cx="206.6" cy="282.2" r="4.5" fill="#d6dae3"/>
<circle cx="227.8" cy="283.0" r="4.5" fill="#d6dae3"/>
<circle cx="244.8" cy="288.7" r="4.5" fill="#d6dae3"/>
<circle cx="278.9" cy="280.6" r="4.5" fill="#d6dae3"/>
<circle cx="279.7" cy="287.1" r="4.5" fill="#d6dae3"/>
<circle cx="280.6" cy="295.2" r="4.5" fill="#d6dae3"/>
<circle cx="175.4" cy="296.0" r="4.5" fill="#d6dae3"/>
<circle cx="175.8" cy="300.9" r="4.5" fill="#d6dae3"/>
<circle cx="248.9" cy="298.4" r="4.5" fill="#d6dae3"/>
<circle cx="246.4" cy="301.7" r="4.5" fill="#d6dae3"/>
<circle cx="259.4" cy="300.1" r="4.5" fill="#d6dae3"/>
<circle cx="305.7" cy="300.9" r="4.5" fill="#d6dae3"/>
<circle cx="269.7" cy="305.7" r="4.5" fill="#d6dae3"/>
<circle cx="195.3" cy="309.8" r="4.5" fill="#d6dae3"/>
<circle cx="213.5" cy="309.5" r="4.5" fill="#d6dae3"/>
<circle cx="167.6" cy="315.5" r="4.5" fill="#e2d8d3"/>
<circle cx="167.6" cy="319.6" r="4.5" fill="#e2d8d3"/>
<circle cx="294.4" cy="317.9" r="4.5" fill="#d6dae3"/>
<circle cx="304.1" cy="316.0" r="4.5" fill="#d6dae3"/>
<circle cx="134.3" cy="320.4" r="4.5" fill="#c52936"/>
<circle cx="134.3" cy="325.2" r="4.5" fill="#c52936"/>
<circle cx="209.9" cy="322.8" r="4.5" fill="#d6dae3"/>
<circle cx="271.6" cy="319.6" r="4.5" fill="#d6dae3"/>
<circle cx="270.0" cy="326.9" r="4.5" fill="#d6dae3"/>
<circle cx="331.7" cy="326.9" r="4.5" fill="#d6dae3"/>
<circle cx="121.3" cy="335.5" r="4.5" fill="#e2d8d3"/>
<circle cx="102.3" cy="338.7" r="4.5" fill="#b40426"/>
<circle cx="255.0" cy="329.3" r="4.5" fill="#d6dae3"/>
<circle cx="245.6" cy="335.8" r="4.5" fill="#d6dae3"/>
<circle cx="211.5" cy="334.2" r="4.5" fill="#d6dae3"/>
<circle cx="211.8" cy="338.2" r="4.5" fill="#d6dae3"/>
<circle cx="194.5" cy="338.2" r="4.5" fill="#d6dae3"/>
<circle cx="293.5" cy="334.2" r="4.5" fill="#d6dae3"/>
<circle cx="302.5" cy="331.7" r="4.5" fill="#d6dae3"/>
<circle cx="285.4" cy="342.3" r="4.5" fill="#d6dae3"/>
<circle cx="294.4" cy="340.7" r="4.5" fill="#d6dae3"/>
<circle cx="299.2" cy="348.0" r="4.5" fill="#d6dae3"/>
<circle cx="141.7" cy="340.7" r="4.5" fill="#d6dae3"/>
<circle cx="134.3" cy="346.4" r="4.5" fill="#f4ab8f"/>
<circle cx="134.3" cy="351.2" r="4.5" fill="#f4ab8f"/>
<circle cx="205.0" cy="349.6" r="4.5" fill="#d6dae3"/>
<circle cx="203.4" cy="355.3" r="4.5" fill="#d6dae3"/>
<circle cx="234.3" cy="349.6" r="4.5" fill="#d6dae3"/>
<circle cx="312.2" cy="348.5" r="4.5" fill="#d6dae3"/>
<circle cx="178.2" cy="356.9" r="4.5" fill="#d6dae3"/>
<circle cx="166.8" cy="359.4" r="4.5" fill="#d6dae3"/>
<circle cx="168.5" cy="368.3" r="4.5" fill="#d6dae3"/>
<circle cx="104.3" cy="358.5" r="4.5" fill="#d64e45"/>
<circle cx="104.0" cy="362.6" r="4.5" fill="#d64e45"/>
<circle cx="84.5" cy="366.3" r="4.5" fill="#b40426"/>
<circle cx="82.8" cy="372.3" r="4.5" fill="#eb8369"/>
<circle cx="122.2" cy="363.4" r="4.5" fill="#d6dae3"/>
<circle cx="122.5" cy="369.1" r="4.5" fill="#d6dae3"/>
<circle cx="250.5" cy="363.4" r="4.5" fill="#d6dae3"/>
<circle cx="265.9" cy="361.8" r="4.5" fill="#d6dae3"/>
<circle cx="284.6" cy="363.4" r="4.5" fill="#d6dae3"/>
<circle cx="286.2" cy="365.9" r="4.5" fill="#d6dae3"/>
<circle cx="331.7" cy="365.9" r="4.5" fill="#d6dae3"/>
<circle cx="101.9" cy="371.5" r="4.5" fill="#d6dae3"/>
<circle cx="102.3" cy="379.7" r="4.5" fill="#d6dae3"/>
<circle cx="110.0" cy="373.2" r="4.5" fill="#f5bca3"/>
<circle cx="110.5" cy="378.8" r="4.5" fill="#f5bca3"/>
<circle cx="143.3" cy="374.0" r="4.5" fill="#d6dae3"/>
<circle cx="149.8" cy="376.4" r="4.5" fill="#d6dae3"/>
<circle cx="248.1" cy="372.3" r="4.5" fill="#d6dae3"/>
<circle cx="225.3" cy="378.0" r="4.5" fill="#d6dae3"/>
<circle cx="229.4" cy="376.4" r="4.5" fill="#d6dae3"/>
<circle cx="231.0" cy="381.3" r="4.5" fill="#d6dae3"/>
<circle cx="300.0" cy="379.7" r="4.5" fill="#d6dae3"/>
<circle cx="323.6" cy="380.5" r="4.5" fill="#d6dae3"/>
<circle cx="323.6" cy="384.5" r="4.5" fill="#d6dae3"/>
<circle cx="123.0" cy="382.6" r="4.5" fill="#d6dae3"/>
<circle cx="193.6" cy="382.9" r="4.5" fill="#d6dae3"/>
<circle cx="198.5" cy="379.7" r="4.5" fill="#d6dae3"/>
<circle cx="108.4" cy="387.8" r="4.5" fill="#d6dae3"/>
<circle cx="107.5" cy="394.3" r="4.5" fill="#d6dae3"/>
<circle cx="134.8" cy="387.8" r="4.5" fill="#d6dae3"/>
<circle cx="151.4" cy="389.4" r="4.5" fill="#d6dae3"/>
<circle cx="212.3" cy="391.0" r="4.5" fill="#d6dae3"/>
<circle cx="241.6" cy="387.8" r="4.5" fill="#d6dae3"/>
<circle cx="242.4" cy="394.3" r="4.5" fill="#d6dae3"/>
<circle cx="274.9" cy="385.3" r="4.5" fill="#d6dae3"/>
<circle cx="276.5" cy="389.4" r="4.5" fill="#d6dae3"/>
<circle cx="191.2" cy="393.5" r="4.5" fill="#d6dae3"/>
<circle cx="291.1" cy="393.5" r="4.5" fill="#d6dae3"/>
<circle cx="292.7" cy="396.7" r="4.5" fill="#d6dae3"/>
<circle cx="91.0" cy="395.1" r="4.5" fill="#e7d3ca"/>
<circle cx="96.2" cy="395.9" r="4.5" fill="#f5b399"/>
<circle cx="75.0" cy="401.6" r="4.5" fill="#de604d"/>
<circle cx="136.5" cy="400.0" r="4.5" fill="#d6dae3"/>
<circle cx="136.8" cy="404.0" r="4.5" fill="#d6dae3"/>
<circle cx="159.5" cy="400.8" r="4.5" fill="#d6dae3"/>
<circle cx="253.7" cy="400.8" r="4.5" fill="#d6dae3"/>
<circle cx="254.6" cy="405.7" r="4.5" fill="#d6dae3"/>
<circle cx="229.4" cy="403.2" r="4.5" fill="#d6dae3"/>
<circle cx="224.5" cy="408.9" r="4.5" fill="#d6dae3"/>
<circle cx="278.1" cy="404.8" r="4.5" fill="#d6dae3"/>
<circle cx="309.8" cy="400.8" r="4.5" fill="#d6dae3"/>
<circle cx="110.0" cy="402.4" r="4.5" fill="#d6dae3"/>
<circle cx="112.4" cy="407.3" r="4.5" fill="#d6dae3"/>
<circle cx="114.0" cy="410.5" r="4.5" fill="#d6dae3"/>
<circle cx="271.6" cy="410.5" r="4.5" fill="#d6dae3"/>
<circle cx="272.4" cy="415.4" r="4.5" fill="#d6dae3"/>
<circle cx="326.9" cy="410.5" r="4.5" fill="#d6dae3"/>
<circle cx="323.6" cy="413.8" r="4.5" fill="#d6dae3"/>
<circle cx="292.7" cy="415.4" r="4.5" fill="#d6dae3"/>
<circle cx="296.0" cy="417.8" r="4.5" fill="#d6dae3"/>
<circle cx="96.2" cy="414.6" r="4.5" fill="#d6dae3"/>
<circle cx="120.5" cy="419.5" r="4.5" fill="#d6dae3"/>
<circle cx="145.7" cy="417.0" r="4.5" fill="#d6dae3"/>
<circle cx="157.9" cy="415.4" r="4.5" fill="#d6dae3"/>
<circle cx="186.3" cy="415.4" r="4.5" fill="#d6dae3"/>
<circle cx="252.1" cy="421.9" r="4.5" fill="#d6dae3"/>
<circle cx="252.9" cy="426.8" r="4.5" fill="#d6dae3"/>
<circle cx="283.8" cy="421.9" r="4.5" fill="#d6dae3"/>
<circle cx="282.2" cy="428.4" r="4.5" fill="#d6dae3"/>
<circle cx="307.4" cy="425.1" r="4.5" fill="#d6dae3"/>
<circle cx="186.3" cy="426.0" r="4.5" fill="#d6dae3"/>
<circle cx="213.5" cy="426.8" r="4.5" fill="#d6dae3"/>
<circle cx="214.4" cy="430.0" r="4.5" fill="#d6dae3"/>
<circle cx="232.6" cy="426.0" r="4.5" fill="#d6dae3"/>
<circle cx="233.4" cy="431.6" r="4.5" fill="#d6dae3"/>
<circle cx="296.0" cy="434.1" r="4.5" fill="#d6dae3"/>
<circle cx="293.5" cy="441.4" r="4.5" fill="#d6dae3"/>
<circle cx="260.2" cy="437.3" r="4.5" fill="#d6dae3"/>
<circle cx="261.9" cy="441.4" r="4.5" fill="#d6dae3"/>
<circle cx="206.6" cy="443.0" r="4.5" fill="#d6dae3"/>
<circle cx="226.1" cy="442.2" r="4.5" fill="#d6dae3"/>
<circle cx="238.3" cy="443.0" r="4.5" fill="#d6dae3"/>
<circle cx="270.0" cy="453.6" r="4.5" fill="#d6dae3"/>
<circle cx="150.2" cy="347.6" r="4.5" fill="#d6dae3"/>
<circle cx="150.7" cy="352.8" r="4.5" fill="#d6dae3"/>
<circle cx="162.5" cy="345.4" r="4.5" fill="#d6dae3"/>
<circle cx="179.1" cy="327.0" r="4.5" fill="#d6dae3"/>
<circle cx="183.5" cy="349.7" r="4.5" fill="#d6dae3"/>
<circle cx="155.9" cy="368.1" r="4.5" fill="#d6dae3"/>
<circle cx="198.8" cy="367.7" r="4.5" fill="#d6dae3"/>
<circle cx="208.4" cy="372.1" r="4.5" fill="#d6dae3"/>
<circle cx="105.2" cy="384.3" r="4.5" fill="#d6dae3"/>
<circle cx="113.1" cy="386.9" r="4.5" fill="#d6dae3"/>
<circle cx="117.4" cy="400.9" r="4.5" fill="#d6dae3"/>
<circle cx="172.6" cy="409.7" r="4.5" fill="#d6dae3"/>
<line x1="141.5" y1="346.8" x2="204.5" y2="350.3" stroke="#000" stroke-width="2.6"/>
</g>
<text x="29.3" y="1265.4" font-size="30" text-anchor="start" font-weight="bold">h</text>
<text x="364.8" y="1265.4" font-size="30" text-anchor="start" font-weight="bold">i</text>
<text x="710.9" y="1265.4" font-size="30" text-anchor="start" font-weight="bold">j</text>
<text x="1103.4" y="1261.3" font-size="30" text-anchor="start" font-weight="bold">k</text>
<text x="1468.2" y="1264.0" font-size="30" text-anchor="start" font-weight="bold">l</text>
<text x="1836.5" y="1265.4" font-size="30" text-anchor="start" font-weight="bold">m</text>
<text x="171.8" y="1253.7" font-size="29.5" text-anchor="middle" font-weight="bold" fill="#a8204e">Tm5a</text>
<text x="558.4" y="1253.7" font-size="29.5" text-anchor="middle" font-weight="bold" fill="#6a3fc8">Tm5b</text>
<text x="925.0" y="1253.7" font-size="29.5" text-anchor="middle" font-weight="bold" fill="#25282c">Tm5c</text>
<text x="1270.5" y="1253.7" font-size="29.5" text-anchor="middle" font-weight="bold" fill="#1a7a86">Tm20 (mean)</text>
<text x="1633.6" y="1253.7" font-size="29.5" text-anchor="middle" font-weight="bold" fill="#1a7a86">pTm20</text>
<text x="1994.3" y="1253.7" font-size="29.5" text-anchor="middle" font-weight="bold" fill="#1a7a86">yTm20</text>
<line x1="131.5" y1="1944.5" x2="131.5" y2="2056.7" stroke="#b8b8b8" stroke-width="1.3" stroke-dasharray="4,3"/>
<line x1="153.4" y1="1944.5" x2="153.4" y2="2056.7" stroke="#b8b8b8" stroke-width="1.3" stroke-dasharray="4,3"/>
<line x1="109.5" y1="2028.2" x2="219.3" y2="2028.2" stroke="#b8b8b8" stroke-width="1.3" stroke-dasharray="4,3"/>
<line x1="244.0" y1="1944.5" x2="244.0" y2="2056.7" stroke="#b8b8b8" stroke-width="1.3" stroke-dasharray="4,3"/>
<line x1="266.2" y1="1944.5" x2="266.2" y2="2056.7" stroke="#b8b8b8" stroke-width="1.3" stroke-dasharray="4,3"/>
<line x1="221.8" y1="2028.2" x2="332.8" y2="2028.2" stroke="#b8b8b8" stroke-width="1.3" stroke-dasharray="4,3"/>
<line x1="357.8" y1="1944.5" x2="357.8" y2="2056.7" stroke="#b8b8b8" stroke-width="1.3" stroke-dasharray="4,3"/>
<line x1="380.1" y1="1944.5" x2="380.1" y2="2056.7" stroke="#b8b8b8" stroke-width="1.3" stroke-dasharray="4,3"/>
<line x1="335.4" y1="2028.2" x2="447.2" y2="2028.2" stroke="#b8b8b8" stroke-width="1.3" stroke-dasharray="4,3"/>
<path d="M110.6,2020.4 C112.9,2020.6 121.0,2021.0 124.3,2021.5 C127.7,2022.0 127.8,2023.1 130.7,2023.6 C133.5,2024.1 138.7,2024.8 141.2,2024.7 C143.7,2024.5 143.7,2022.2 145.4,2022.5 C147.2,2022.9 148.6,2025.7 151.8,2026.8 C154.9,2027.8 159.9,2028.3 164.4,2028.9 C169.0,2029.4 175.7,2031.0 179.2,2029.9 C182.7,2028.9 183.8,2024.3 185.5,2022.5 C187.3,2020.8 188.2,2019.4 189.8,2019.4 C191.3,2019.4 192.9,2021.1 195.0,2022.5 C197.1,2024.0 200.3,2026.8 202.4,2027.8 C204.5,2028.9 205.6,2029.8 207.7,2028.9 C209.8,2028.0 213.1,2023.8 215.1,2022.5 C217.0,2021.3 218.6,2021.7 219.3,2021.5 L219.3,2035.0 L219.3,2035.0 C218.6,2035.2 217.0,2034.8 215.1,2036.1 C213.1,2037.3 209.8,2041.5 207.7,2042.4 C205.6,2043.3 204.5,2042.4 202.4,2041.3 C200.3,2040.3 197.1,2037.5 195.0,2036.1 C192.9,2034.6 191.3,2032.9 189.8,2032.9 C188.2,2032.9 187.3,2034.3 185.5,2036.1 C183.8,2037.8 182.7,2042.4 179.2,2043.4 C175.7,2044.5 169.0,2042.9 164.4,2042.4 C159.9,2041.9 154.9,2041.3 151.8,2040.3 C148.6,2039.2 147.2,2036.4 145.4,2036.1 C143.7,2035.7 143.7,2038.0 141.2,2038.2 C138.7,2038.3 133.5,2037.6 130.7,2037.1 C127.8,2036.6 127.7,2035.5 124.3,2035.0 C121.0,2034.5 112.9,2034.1 110.6,2033.9 Z" fill="#c4c4c4" stroke="none"/>
<path d="M110.6,2027.2 C112.9,2027.4 121.0,2027.7 124.3,2028.2 C127.7,2028.8 127.8,2029.8 130.7,2030.4 C133.5,2030.9 138.7,2031.6 141.2,2031.4 C143.7,2031.2 143.7,2028.9 145.4,2029.3 C147.2,2029.7 148.6,2032.5 151.8,2033.5 C154.9,2034.6 159.9,2035.1 164.4,2035.6 C169.0,2036.2 175.7,2037.7 179.2,2036.7 C182.7,2035.6 183.8,2031.1 185.5,2029.3 C187.3,2027.5 188.2,2026.1 189.8,2026.1 C191.3,2026.1 192.9,2027.9 195.0,2029.3 C197.1,2030.7 200.3,2033.5 202.4,2034.6 C204.5,2035.6 205.6,2036.5 207.7,2035.6 C209.8,2034.8 213.1,2030.5 215.1,2029.3 C217.0,2028.1 218.6,2028.4 219.3,2028.2" fill="none" stroke="#000" stroke-width="1.8"/>
<path d="M223.5,2026.3 C224.9,2026.2 228.4,2025.6 232.0,2025.3 C235.5,2024.9 240.8,2026.2 244.6,2024.2 C248.5,2022.3 252.4,2016.2 255.2,2013.7 C258.0,2011.1 259.4,2009.0 261.5,2009.0 C263.6,2009.0 265.0,2011.5 267.8,2013.7 C270.7,2015.9 274.5,2020.4 278.4,2022.1 C282.3,2023.9 285.4,2023.5 291.1,2024.2 C296.7,2024.9 306.9,2026.0 312.2,2026.3 C317.4,2026.7 319.4,2026.3 322.7,2026.3 C326.1,2026.3 330.6,2026.3 332.2,2026.3 L332.2,2032.3 L332.2,2032.3 C330.6,2032.3 326.1,2032.3 322.7,2032.3 C319.4,2032.3 317.4,2032.6 312.2,2032.3 C306.9,2031.9 296.7,2030.8 291.1,2030.1 C285.4,2029.4 282.3,2029.8 278.4,2028.0 C274.5,2026.3 270.7,2021.8 267.8,2019.6 C265.0,2017.4 263.6,2014.9 261.5,2014.9 C259.4,2014.9 258.0,2017.1 255.2,2019.6 C252.4,2022.1 248.5,2028.2 244.6,2030.1 C240.8,2032.1 235.5,2030.8 232.0,2031.2 C228.4,2031.6 224.9,2032.1 223.5,2032.3 Z" fill="#c4c4c4" stroke="none"/>
<path d="M223.5,2029.3 C224.9,2029.1 228.4,2028.6 232.0,2028.2 C235.5,2027.9 240.8,2029.1 244.6,2027.2 C248.5,2025.3 252.4,2019.2 255.2,2016.6 C258.0,2014.1 259.4,2012.0 261.5,2012.0 C263.6,2012.0 265.0,2014.5 267.8,2016.6 C270.7,2018.8 274.5,2023.3 278.4,2025.1 C282.3,2026.8 285.4,2026.5 291.1,2027.2 C296.7,2027.9 306.9,2028.9 312.2,2029.3 C317.4,2029.7 319.4,2029.3 322.7,2029.3 C326.1,2029.3 330.6,2029.3 332.2,2029.3" fill="none" stroke="#000" stroke-width="1.8"/>
<path d="M336.4,2024.4 C339.1,2024.4 348.9,2025.0 352.3,2024.4 C355.6,2023.9 354.4,2027.4 356.5,2021.3 C358.6,2015.1 362.1,1996.7 364.9,1987.5 C367.7,1978.4 371.3,1970.7 373.4,1966.4 C375.5,1962.1 375.8,1961.9 377.6,1961.8 C379.4,1961.6 380.8,1961.1 383.9,1965.3 C387.1,1969.6 392.7,1980.7 396.6,1987.5 C400.5,1994.4 402.9,2001.6 407.1,2006.5 C411.4,2011.4 417.3,2014.4 421.9,2017.1 C426.5,2019.7 431.1,2021.5 434.6,2022.3 C438.1,2023.2 440.9,2022.7 443.0,2022.3 C445.1,2022.0 446.5,2020.6 447.2,2020.2 L447.2,2027.8 L447.2,2027.8 C446.5,2028.2 445.1,2029.6 443.0,2029.9 C440.9,2030.3 438.1,2030.8 434.6,2029.9 C431.1,2029.1 426.5,2027.3 421.9,2024.7 C417.3,2022.0 411.4,2019.0 407.1,2014.1 C402.9,2009.2 400.5,2002.0 396.6,1995.1 C392.7,1988.2 387.1,1977.2 383.9,1972.9 C380.8,1968.7 379.4,1969.2 377.6,1969.4 C375.8,1969.5 375.5,1969.7 373.4,1974.0 C371.3,1978.3 367.7,1986.0 364.9,1995.1 C362.1,2004.3 358.6,2022.7 356.5,2028.9 C354.4,2035.0 355.6,2031.5 352.3,2032.0 C348.9,2032.6 339.1,2032.0 336.4,2032.0 Z" fill="#c4c4c4" stroke="none"/>
<path d="M336.4,2028.2 C339.1,2028.2 348.9,2028.8 352.3,2028.2 C355.6,2027.7 354.4,2031.2 356.5,2025.1 C358.6,2018.9 362.1,2000.5 364.9,1991.3 C367.7,1982.2 371.3,1974.5 373.4,1970.2 C375.5,1965.9 375.8,1965.7 377.6,1965.6 C379.4,1965.4 380.8,1964.9 383.9,1969.1 C387.1,1973.4 392.7,1984.4 396.6,1991.3 C400.5,1998.2 402.9,2005.4 407.1,2010.3 C411.4,2015.2 417.3,2018.2 421.9,2020.9 C426.5,2023.5 431.1,2025.3 434.6,2026.1 C438.1,2027.0 440.9,2026.5 443.0,2026.1 C445.1,2025.8 446.5,2024.4 447.2,2024.0" fill="none" stroke="#000" stroke-width="1.8"/>
<rect x="109.5" y="1944.5" width="109.8" height="112.3" fill="none" stroke="#d0d6e0" stroke-width="2.9"/>
<rect x="221.8" y="1944.5" width="111.0" height="112.3" fill="none" stroke="#ecc8b8" stroke-width="2.9"/>
<rect x="335.4" y="1944.5" width="111.9" height="112.3" fill="none" stroke="#d9584a" stroke-width="2.9"/>
<path d="M109.5,2007.1 V2056.7 H156.0" fill="none" stroke="#000" stroke-width="4"/>
<text x="168.7" y="1930.1" font-size="28" text-anchor="middle">min</text>
<text x="291.6" y="1930.1" font-size="28" text-anchor="middle" textLength="118" lengthAdjust="spacingAndGlyphs">"fly white"</text>
<text x="396.0" y="1930.1" font-size="28" text-anchor="middle">max</text>
<text x="227.2" y="1962.8" font-size="26.5" text-anchor="end">n=21</text>
<text x="345.4" y="1962.8" font-size="26.5" text-anchor="end">n=105</text>
<text x="459.3" y="1962.8" font-size="26.5" text-anchor="end">n=105</text>
<text x="106.8" y="2025.9" font-size="31.5" text-anchor="middle" transform="rotate(-90 106.8 2025.9)">1 dF/F</text>
<text x="136.5" y="2079.2" font-size="30" text-anchor="middle">1 s</text>
<text x="277.6" y="1835.8" font-size="30" text-anchor="middle" font-weight="bold" fill="#a8204e">Tm5a-TeNT</text>
<text x="110.9" y="1865.6" font-size="30" text-anchor="start" font-weight="bold">n</text>
<line x1="646.9" y1="1944.9" x2="646.9" y2="2057.8" stroke="#b8b8b8" stroke-width="1.3" stroke-dasharray="4,3"/>
<line x1="669.0" y1="1944.9" x2="669.0" y2="2057.8" stroke="#b8b8b8" stroke-width="1.3" stroke-dasharray="4,3"/>
<line x1="624.8" y1="2015.6" x2="735.2" y2="2015.6" stroke="#b8b8b8" stroke-width="1.3" stroke-dasharray="4,3"/>
<line x1="759.9" y1="1944.9" x2="759.9" y2="2057.8" stroke="#b8b8b8" stroke-width="1.3" stroke-dasharray="4,3"/>
<line x1="782.1" y1="1944.9" x2="782.1" y2="2057.8" stroke="#b8b8b8" stroke-width="1.3" stroke-dasharray="4,3"/>
<line x1="737.7" y1="2015.6" x2="848.5" y2="2015.6" stroke="#b8b8b8" stroke-width="1.3" stroke-dasharray="4,3"/>
<line x1="873.9" y1="1944.9" x2="873.9" y2="2057.8" stroke="#b8b8b8" stroke-width="1.3" stroke-dasharray="4,3"/>
<line x1="896.0" y1="1944.9" x2="896.0" y2="2057.8" stroke="#b8b8b8" stroke-width="1.3" stroke-dasharray="4,3"/>
<line x1="851.7" y1="2015.6" x2="962.5" y2="2015.6" stroke="#b8b8b8" stroke-width="1.3" stroke-dasharray="4,3"/>
<path d="M625.9,2017.5 C626.9,2016.8 629.9,2014.3 632.2,2013.3 C634.5,2012.2 637.1,2011.1 639.6,2011.1 C642.1,2011.1 644.0,2011.1 647.0,2013.3 C650.0,2015.4 654.0,2020.1 657.5,2023.8 C661.1,2027.5 664.6,2034.5 668.1,2035.4 C671.6,2036.3 674.4,2031.2 678.6,2029.1 C682.9,2027.0 688.5,2023.6 693.4,2022.8 C698.3,2021.9 702.9,2023.1 708.2,2023.8 C713.5,2024.5 720.7,2026.4 725.1,2027.0 C729.5,2027.5 733.0,2027.0 734.6,2027.0 L734.6,2033.7 L734.6,2033.7 C733.0,2033.7 729.5,2034.3 725.1,2033.7 C720.7,2033.2 713.5,2031.3 708.2,2030.6 C702.9,2029.9 698.3,2028.6 693.4,2029.5 C688.5,2030.4 682.9,2033.7 678.6,2035.8 C674.4,2038.0 671.6,2043.1 668.1,2042.2 C664.6,2041.3 661.1,2034.3 657.5,2030.6 C654.0,2026.9 650.0,2022.1 647.0,2020.0 C644.0,2017.9 642.1,2017.9 639.6,2017.9 C637.1,2017.9 634.5,2019.0 632.2,2020.0 C629.9,2021.1 626.9,2023.5 625.9,2024.2 Z" fill="#c4c4c4" stroke="none"/>
<path d="M625.9,2020.9 C626.9,2020.2 629.9,2017.7 632.2,2016.6 C634.5,2015.6 637.1,2014.5 639.6,2014.5 C642.1,2014.5 644.0,2014.5 647.0,2016.6 C650.0,2018.7 654.0,2023.5 657.5,2027.2 C661.1,2030.9 664.6,2037.9 668.1,2038.8 C671.6,2039.7 674.4,2034.6 678.6,2032.5 C682.9,2030.4 688.5,2027.0 693.4,2026.1 C698.3,2025.3 702.9,2026.5 708.2,2027.2 C713.5,2027.9 720.7,2029.8 725.1,2030.4 C729.5,2030.9 733.0,2030.4 734.6,2030.4" fill="none" stroke="#000" stroke-width="1.8"/>
<path d="M738.8,2008.0 C741.4,2008.5 749.5,2013.8 754.6,2011.1 C759.7,2008.5 765.5,1995.7 769.4,1992.2 C773.3,1988.6 775.0,1989.9 777.8,1990.0 C780.7,1990.2 782.4,1993.7 786.3,1993.2 C790.2,1992.7 796.8,1986.7 801.1,1986.9 C805.3,1987.1 808.1,1992.5 811.6,1994.3 C815.1,1996.0 816.0,1997.3 822.2,1997.4 C828.3,1997.6 844.2,1995.7 848.5,1995.3 L848.5,2006.3 L848.5,2006.3 C844.2,2006.6 828.3,2008.6 822.2,2008.4 C816.0,2008.2 815.1,2007.0 811.6,2005.2 C808.1,2003.5 805.3,1998.0 801.1,1997.9 C796.8,1997.7 790.2,2003.7 786.3,2004.2 C782.4,2004.7 780.7,2001.2 777.8,2001.0 C775.0,2000.8 773.3,1999.6 769.4,2003.1 C765.5,2006.6 759.7,2019.5 754.6,2022.1 C749.5,2024.8 741.4,2019.5 738.8,2019.0 Z" fill="#c4c4c4" stroke="none"/>
<path d="M738.8,2013.5 C741.4,2014.0 749.5,2019.3 754.6,2016.6 C759.7,2014.0 765.5,2001.2 769.4,1997.6 C773.3,1994.1 775.0,1995.4 777.8,1995.5 C780.7,1995.7 782.4,1999.2 786.3,1998.7 C790.2,1998.2 796.8,1992.2 801.1,1992.4 C805.3,1992.5 808.1,1998.0 811.6,1999.8 C815.1,2001.5 816.0,2002.7 822.2,2002.9 C828.3,2003.1 844.2,2001.2 848.5,2000.8" fill="none" stroke="#000" stroke-width="1.8"/>
<path d="M852.8,2004.0 C854.0,2005.0 857.5,2009.6 860.2,2010.3 C862.8,2011.0 864.0,2014.3 868.6,2008.2 C873.2,2002.0 883.4,1978.8 887.6,1973.4 C891.8,1967.9 890.1,1972.1 893.9,1975.5 C897.8,1978.8 905.5,1988.5 910.8,1993.4 C916.1,1998.3 920.0,2002.9 925.6,2005.0 C931.2,2007.1 939.7,2005.0 944.6,2006.1 C949.5,2007.1 952.3,2011.0 955.1,2011.4 C957.9,2011.7 960.4,2008.7 961.5,2008.2 L961.5,2020.9 L961.5,2020.9 C960.4,2021.4 957.9,2024.4 955.1,2024.0 C952.3,2023.7 949.5,2019.8 944.6,2018.7 C939.7,2017.7 931.2,2019.8 925.6,2017.7 C920.0,2015.6 916.1,2011.0 910.8,2006.1 C905.5,2001.2 897.8,1991.5 893.9,1988.1 C890.1,1984.8 891.8,1980.6 887.6,1986.0 C883.4,1991.5 873.2,2014.7 868.6,2020.9 C864.0,2027.0 862.8,2023.7 860.2,2023.0 C857.5,2022.3 854.0,2017.7 852.8,2016.6 Z" fill="#c4c4c4" stroke="none"/>
<path d="M852.8,2010.3 C854.0,2011.4 857.5,2015.9 860.2,2016.6 C862.8,2017.3 864.0,2020.7 868.6,2014.5 C873.2,2008.4 883.4,1985.2 887.6,1979.7 C891.8,1974.2 890.1,1978.5 893.9,1981.8 C897.8,1985.2 905.5,1994.8 910.8,1999.8 C916.1,2004.7 920.0,2009.2 925.6,2011.4 C931.2,2013.5 939.7,2011.4 944.6,2012.4 C949.5,2013.5 952.3,2017.3 955.1,2017.7 C957.9,2018.0 960.4,2015.1 961.5,2014.5" fill="none" stroke="#000" stroke-width="1.8"/>
<rect x="624.8" y="1944.9" width="110.4" height="112.9" fill="none" stroke="#b4c8f0" stroke-width="2.9"/>
<rect x="737.7" y="1944.9" width="110.8" height="112.9" fill="none" stroke="#ecc6b6" stroke-width="2.9"/>
<rect x="851.7" y="1944.9" width="110.8" height="112.9" fill="none" stroke="#f0b49c" stroke-width="2.9"/>
<path d="M624.8,1999.3 V2057.8 H671.3" fill="none" stroke="#000" stroke-width="4"/>
<text x="684.0" y="1930.1" font-size="28" text-anchor="middle">min</text>
<text x="806.9" y="1930.1" font-size="28" text-anchor="middle" textLength="118" lengthAdjust="spacingAndGlyphs">"fly white"</text>
<text x="911.3" y="1930.1" font-size="28" text-anchor="middle">max</text>
<text x="748.8" y="1962.8" font-size="26.5" text-anchor="end">n=106</text>
<text x="861.7" y="1962.8" font-size="26.5" text-anchor="end">n=106</text>
<text x="974.6" y="1962.8" font-size="26.5" text-anchor="end">n=106</text>
<text x="622.1" y="2022.6" font-size="31.5" text-anchor="middle" transform="rotate(-90 622.1 2022.6)">1 dF/F</text>
<text x="651.8" y="2080.3" font-size="30" text-anchor="middle">1 s</text>
<text x="792.7" y="1835.8" font-size="30" text-anchor="middle" font-weight="bold" fill="#5c3ccc">Tm5b-TeNT</text>
<text x="626.1" y="1865.6" font-size="30" text-anchor="start" font-weight="bold">o</text>
<line x1="131.5" y1="2221.7" x2="131.5" y2="2334.6" stroke="#b8b8b8" stroke-width="1.3" stroke-dasharray="4,3"/>
<line x1="153.4" y1="2221.7" x2="153.4" y2="2334.6" stroke="#b8b8b8" stroke-width="1.3" stroke-dasharray="4,3"/>
<line x1="109.5" y1="2306.1" x2="219.3" y2="2306.1" stroke="#b8b8b8" stroke-width="1.3" stroke-dasharray="4,3"/>
<line x1="244.0" y1="2221.7" x2="244.0" y2="2334.6" stroke="#b8b8b8" stroke-width="1.3" stroke-dasharray="4,3"/>
<line x1="266.2" y1="2221.7" x2="266.2" y2="2334.6" stroke="#b8b8b8" stroke-width="1.3" stroke-dasharray="4,3"/>
<line x1="221.8" y1="2306.1" x2="332.8" y2="2306.1" stroke="#b8b8b8" stroke-width="1.3" stroke-dasharray="4,3"/>
<line x1="357.8" y1="2221.7" x2="357.8" y2="2334.6" stroke="#b8b8b8" stroke-width="1.3" stroke-dasharray="4,3"/>
<line x1="380.1" y1="2221.7" x2="380.1" y2="2334.6" stroke="#b8b8b8" stroke-width="1.3" stroke-dasharray="4,3"/>
<line x1="335.4" y1="2306.1" x2="447.2" y2="2306.1" stroke="#b8b8b8" stroke-width="1.3" stroke-dasharray="4,3"/>
<path d="M110.6,2299.2 C112.5,2300.0 118.7,2303.0 122.2,2304.4 C125.7,2305.9 128.2,2307.3 131.7,2307.6 C135.2,2308.0 139.6,2306.6 143.3,2306.6 C147.0,2306.5 149.6,2307.4 153.9,2307.2 C158.1,2307.0 164.8,2305.6 168.6,2305.5 C172.5,2305.4 173.6,2305.5 177.1,2306.6 C180.6,2307.6 185.5,2310.2 189.8,2311.8 C194.0,2313.4 198.4,2314.8 202.4,2316.1 C206.5,2317.3 211.2,2319.2 214.0,2319.2 C216.8,2319.2 218.4,2316.6 219.3,2316.1 L219.3,2319.4 L219.3,2319.4 C218.4,2320.0 216.8,2322.6 214.0,2322.6 C211.2,2322.6 206.5,2320.7 202.4,2319.4 C198.4,2318.2 194.0,2316.8 189.8,2315.2 C185.5,2313.6 180.6,2311.0 177.1,2309.9 C173.6,2308.9 172.5,2308.8 168.6,2308.9 C164.8,2309.0 158.1,2310.4 153.9,2310.6 C149.6,2310.7 147.0,2309.9 143.3,2309.9 C139.6,2310.0 135.2,2311.3 131.7,2311.0 C128.2,2310.6 125.7,2309.2 122.2,2307.8 C118.7,2306.4 112.5,2303.4 110.6,2302.5 Z" fill="#c4c4c4" stroke="none"/>
<path d="M110.6,2300.9 C112.5,2301.7 118.7,2304.7 122.2,2306.1 C125.7,2307.5 128.2,2308.9 131.7,2309.3 C135.2,2309.7 139.6,2308.3 143.3,2308.2 C147.0,2308.2 149.6,2309.1 153.9,2308.9 C158.1,2308.7 164.8,2307.3 168.6,2307.2 C172.5,2307.1 173.6,2307.2 177.1,2308.2 C180.6,2309.3 185.5,2311.9 189.8,2313.5 C194.0,2315.1 198.4,2316.5 202.4,2317.7 C206.5,2319.0 211.2,2320.9 214.0,2320.9 C216.8,2320.9 218.4,2318.3 219.3,2317.7" fill="none" stroke="#000" stroke-width="1.8"/>
<path d="M223.5,2298.5 C226.3,2299.4 236.2,2304.7 240.4,2303.8 C244.6,2302.9 246.0,2297.3 248.8,2293.3 C251.7,2289.2 254.8,2282.2 257.3,2279.5 C259.8,2276.9 260.8,2278.7 263.6,2277.4 C266.4,2276.2 271.0,2273.5 274.2,2272.2 C277.3,2270.8 280.2,2269.6 282.6,2269.4 C285.1,2269.2 286.1,2269.1 288.9,2271.1 C291.8,2273.1 296.3,2279.0 299.5,2281.7 C302.7,2284.3 304.8,2284.8 307.9,2286.9 C311.1,2289.0 315.3,2292.6 318.5,2294.3 C321.7,2296.1 324.7,2297.1 326.9,2297.5 C329.2,2297.8 331.3,2296.6 332.2,2296.4 L332.2,2303.2 L332.2,2303.2 C331.3,2303.4 329.2,2304.6 326.9,2304.2 C324.7,2303.9 321.7,2302.8 318.5,2301.1 C315.3,2299.3 311.1,2295.8 307.9,2293.7 C304.8,2291.6 302.7,2291.0 299.5,2288.4 C296.3,2285.8 291.8,2279.9 288.9,2277.9 C286.1,2275.8 285.1,2276.0 282.6,2276.2 C280.2,2276.3 277.3,2277.6 274.2,2278.9 C271.0,2280.2 266.4,2283.0 263.6,2284.2 C260.8,2285.4 259.8,2283.7 257.3,2286.3 C254.8,2288.9 251.7,2296.0 248.8,2300.0 C246.0,2304.1 244.6,2309.7 240.4,2310.6 C236.2,2311.4 226.3,2306.2 223.5,2305.3 Z" fill="#c4c4c4" stroke="none"/>
<path d="M223.5,2301.9 C226.3,2302.8 236.2,2308.1 240.4,2307.2 C244.6,2306.3 246.0,2300.7 248.8,2296.6 C251.7,2292.6 254.8,2285.6 257.3,2282.9 C259.8,2280.3 260.8,2282.0 263.6,2280.8 C266.4,2279.6 271.0,2276.9 274.2,2275.5 C277.3,2274.2 280.2,2273.0 282.6,2272.8 C285.1,2272.6 286.1,2272.4 288.9,2274.5 C291.8,2276.5 296.3,2282.4 299.5,2285.0 C302.7,2287.7 304.8,2288.2 307.9,2290.3 C311.1,2292.4 315.3,2295.9 318.5,2297.7 C321.7,2299.4 324.7,2300.5 326.9,2300.9 C329.2,2301.2 331.3,2300.0 332.2,2299.8" fill="none" stroke="#000" stroke-width="1.8"/>
<path d="M336.4,2295.2 C338.0,2296.0 342.9,2298.6 345.9,2300.4 C348.9,2302.3 351.9,2307.0 354.4,2306.3 C356.8,2305.6 358.6,2302.5 360.7,2296.2 C362.8,2290.0 364.6,2276.9 367.0,2268.8 C369.5,2260.7 372.7,2252.8 375.5,2247.7 C378.3,2242.6 381.5,2239.4 383.9,2238.2 C386.4,2236.9 387.4,2238.0 390.3,2240.3 C393.1,2242.6 396.9,2247.5 400.8,2251.9 C404.7,2256.3 408.9,2261.7 413.5,2266.7 C418.0,2271.6 423.0,2277.0 428.2,2281.4 C433.5,2285.8 442.3,2291.1 445.1,2293.0 L445.1,2298.1 L445.1,2298.1 C442.3,2296.2 433.5,2290.9 428.2,2286.5 C423.0,2282.1 418.0,2276.7 413.5,2271.7 C408.9,2266.8 404.7,2261.4 400.8,2257.0 C396.9,2252.6 393.1,2247.6 390.3,2245.3 C387.4,2243.1 386.4,2242.0 383.9,2243.2 C381.5,2244.5 378.3,2247.6 375.5,2252.7 C372.7,2257.8 369.5,2265.8 367.0,2273.8 C364.6,2281.9 362.8,2295.0 360.7,2301.3 C358.6,2307.5 356.8,2310.7 354.4,2311.4 C351.9,2312.1 348.9,2307.4 345.9,2305.5 C342.9,2303.6 338.0,2301.1 336.4,2300.2 Z" fill="#c4c4c4" stroke="none"/>
<path d="M336.4,2297.7 C338.0,2298.6 342.9,2301.1 345.9,2303.0 C348.9,2304.8 351.9,2309.6 354.4,2308.9 C356.8,2308.2 358.6,2305.0 360.7,2298.7 C362.8,2292.5 364.6,2279.4 367.0,2271.3 C369.5,2263.2 372.7,2255.3 375.5,2250.2 C378.3,2245.1 381.5,2241.9 383.9,2240.7 C386.4,2239.5 387.4,2240.5 390.3,2242.8 C393.1,2245.1 396.9,2250.0 400.8,2254.4 C404.7,2258.8 408.9,2264.3 413.5,2269.2 C418.0,2274.1 423.0,2279.6 428.2,2284.0 C433.5,2288.4 442.3,2293.6 445.1,2295.6" fill="none" stroke="#000" stroke-width="1.8"/>
<rect x="109.5" y="2221.7" width="109.8" height="112.9" fill="none" stroke="#dcdcdc" stroke-width="2.9"/>
<rect x="221.8" y="2221.7" width="111.0" height="112.9" fill="none" stroke="#f0a488" stroke-width="2.9"/>
<rect x="335.4" y="2221.7" width="111.9" height="112.9" fill="none" stroke="#c8303a" stroke-width="2.9"/>
<path d="M109.5,2293.5 V2334.6 H156.0" fill="none" stroke="#000" stroke-width="4"/>
<text x="168.7" y="2208.0" font-size="28" text-anchor="middle">min</text>
<text x="291.6" y="2208.0" font-size="28" text-anchor="middle" textLength="118" lengthAdjust="spacingAndGlyphs">"fly white"</text>
<text x="396.0" y="2208.0" font-size="28" text-anchor="middle">max</text>
<text x="227.2" y="2240.7" font-size="26.5" text-anchor="end">n=231</text>
<text x="345.4" y="2240.7" font-size="26.5" text-anchor="end">n=255</text>
<text x="459.3" y="2240.7" font-size="26.5" text-anchor="end">n=246</text>
<text x="106.8" y="2308.0" font-size="31.5" text-anchor="middle" transform="rotate(-90 106.8 2308.0)">1 dF/F</text>
<text x="136.5" y="2357.1" font-size="30" text-anchor="middle">1 s</text>
<text x="277.6" y="2124.8" font-size="30" text-anchor="middle" font-weight="bold" fill="#25282c">Tm5c-TeNT</text>
<text x="110.9" y="2144.3" font-size="30" text-anchor="start" font-weight="bold">p</text>
<line x1="646.9" y1="2221.7" x2="646.9" y2="2334.6" stroke="#b8b8b8" stroke-width="1.3" stroke-dasharray="4,3"/>
<line x1="669.0" y1="2221.7" x2="669.0" y2="2334.6" stroke="#b8b8b8" stroke-width="1.3" stroke-dasharray="4,3"/>
<line x1="624.8" y1="2310.4" x2="735.2" y2="2310.4" stroke="#b8b8b8" stroke-width="1.3" stroke-dasharray="4,3"/>
<line x1="759.9" y1="2221.7" x2="759.9" y2="2334.6" stroke="#b8b8b8" stroke-width="1.3" stroke-dasharray="4,3"/>
<line x1="782.1" y1="2221.7" x2="782.1" y2="2334.6" stroke="#b8b8b8" stroke-width="1.3" stroke-dasharray="4,3"/>
<line x1="737.7" y1="2310.4" x2="848.5" y2="2310.4" stroke="#b8b8b8" stroke-width="1.3" stroke-dasharray="4,3"/>
<line x1="873.9" y1="2221.7" x2="873.9" y2="2334.6" stroke="#b8b8b8" stroke-width="1.3" stroke-dasharray="4,3"/>
<line x1="896.0" y1="2221.7" x2="896.0" y2="2334.6" stroke="#b8b8b8" stroke-width="1.3" stroke-dasharray="4,3"/>
<line x1="851.7" y1="2310.4" x2="962.5" y2="2310.4" stroke="#b8b8b8" stroke-width="1.3" stroke-dasharray="4,3"/>
<path d="M625.9,2301.9 C627.3,2302.1 631.3,2302.2 634.3,2303.0 C637.3,2303.8 641.0,2307.5 643.8,2306.8 C646.6,2306.1 648.6,2302.2 651.2,2298.7 C653.8,2295.3 656.8,2289.6 659.6,2286.1 C662.5,2282.6 665.6,2279.5 668.1,2277.6 C670.6,2275.8 672.3,2274.2 674.4,2275.1 C676.5,2276.0 677.2,2281.4 680.8,2282.9 C684.3,2284.4 691.0,2282.7 695.5,2284.0 C700.1,2285.2 704.3,2287.3 708.2,2290.3 C712.1,2293.3 715.6,2299.6 718.7,2301.9 C721.9,2304.2 724.4,2303.7 727.2,2304.0 C729.9,2304.4 733.9,2304.0 735.2,2304.0 L735.2,2316.7 L735.2,2316.7 C733.9,2316.7 729.9,2317.0 727.2,2316.7 C724.4,2316.3 721.9,2316.9 718.7,2314.6 C715.6,2312.3 712.1,2306.0 708.2,2303.0 C704.3,2300.0 700.1,2297.9 695.5,2296.6 C691.0,2295.4 684.3,2297.1 680.8,2295.6 C677.2,2294.1 676.5,2288.7 674.4,2287.8 C672.3,2286.9 670.6,2288.5 668.1,2290.3 C665.6,2292.1 662.5,2295.2 659.6,2298.7 C656.8,2302.3 653.8,2308.0 651.2,2311.4 C648.6,2314.9 646.6,2318.7 643.8,2319.4 C641.0,2320.1 637.3,2316.4 634.3,2315.6 C631.3,2314.8 627.3,2314.8 625.9,2314.6 Z" fill="#c4c4c4" stroke="none"/>
<path d="M625.9,2308.2 C627.3,2308.4 631.3,2308.5 634.3,2309.3 C637.3,2310.1 641.0,2313.8 643.8,2313.1 C646.6,2312.4 648.6,2308.5 651.2,2305.1 C653.8,2301.6 656.8,2295.9 659.6,2292.4 C662.5,2288.9 665.6,2285.8 668.1,2284.0 C670.6,2282.1 672.3,2280.6 674.4,2281.4 C676.5,2282.3 677.2,2287.8 680.8,2289.2 C684.3,2290.7 691.0,2289.1 695.5,2290.3 C700.1,2291.5 704.3,2293.6 708.2,2296.6 C712.1,2299.6 715.6,2306.0 718.7,2308.2 C721.9,2310.5 724.4,2310.0 727.2,2310.4 C729.9,2310.7 733.9,2310.4 735.2,2310.4" fill="none" stroke="#000" stroke-width="1.8"/>
<path d="M738.8,2303.0 C741.4,2303.3 750.9,2305.7 754.6,2305.1 C758.3,2304.4 758.1,2304.0 761.0,2299.2 C763.8,2294.3 768.3,2282.3 771.5,2276.0 C774.7,2269.6 777.8,2264.3 780.0,2261.2 C782.1,2258.0 782.1,2256.6 784.2,2257.0 C786.3,2257.3 789.8,2260.5 792.6,2263.3 C795.4,2266.1 797.5,2269.6 801.1,2273.8 C804.6,2278.1 809.5,2284.6 813.7,2288.6 C817.9,2292.7 822.2,2296.0 826.4,2298.1 C830.6,2300.2 835.5,2300.5 839.1,2301.3 C842.6,2302.1 846.1,2302.7 847.5,2303.0 L847.5,2314.8 L847.5,2314.8 C846.1,2314.5 842.6,2313.9 839.1,2313.1 C835.5,2312.3 830.6,2312.0 826.4,2309.9 C822.2,2307.8 817.9,2304.5 813.7,2300.4 C809.5,2296.4 804.6,2289.9 801.1,2285.7 C797.5,2281.4 795.4,2277.9 792.6,2275.1 C789.8,2272.3 786.3,2269.1 784.2,2268.8 C782.1,2268.4 782.1,2269.8 780.0,2273.0 C777.8,2276.2 774.7,2281.4 771.5,2287.8 C768.3,2294.1 763.8,2306.1 761.0,2311.0 C758.1,2315.8 758.3,2316.3 754.6,2316.9 C750.9,2317.5 741.4,2315.1 738.8,2314.8 Z" fill="#c4c4c4" stroke="none"/>
<path d="M738.8,2308.9 C741.4,2309.2 750.9,2311.6 754.6,2311.0 C758.3,2310.4 758.1,2309.9 761.0,2305.1 C763.8,2300.2 768.3,2288.2 771.5,2281.9 C774.7,2275.5 777.8,2270.3 780.0,2267.1 C782.1,2263.9 782.1,2262.5 784.2,2262.9 C786.3,2263.2 789.8,2266.4 792.6,2269.2 C795.4,2272.0 797.5,2275.5 801.1,2279.8 C804.6,2284.0 809.5,2290.5 813.7,2294.5 C817.9,2298.6 822.2,2301.9 826.4,2304.0 C830.6,2306.1 835.5,2306.4 839.1,2307.2 C842.6,2308.0 846.1,2308.6 847.5,2308.9" fill="none" stroke="#000" stroke-width="1.8"/>
<path d="M852.8,2303.8 C853.3,2304.2 854.0,2306.6 855.9,2306.3 C857.9,2306.1 861.6,2303.2 864.4,2302.5 C867.2,2301.8 870.4,2304.3 872.8,2302.1 C875.3,2299.9 877.0,2295.1 879.2,2289.5 C881.3,2283.8 883.0,2274.0 885.5,2268.4 C887.9,2262.7 891.5,2259.6 893.9,2255.7 C896.4,2251.8 898.1,2245.8 900.3,2245.1 C902.4,2244.4 904.1,2248.0 906.6,2251.5 C909.1,2255.0 912.2,2259.9 915.0,2266.2 C917.8,2272.6 921.0,2284.4 923.5,2289.5 C925.9,2294.6 927.3,2296.0 929.8,2296.8 C932.3,2297.7 936.1,2295.6 938.2,2294.7 C940.4,2293.9 941.1,2290.5 942.5,2291.6 C943.9,2292.6 944.9,2299.1 946.7,2301.1 C948.4,2303.0 950.6,2303.9 953.0,2303.2 C955.5,2302.5 960.1,2297.9 961.5,2296.8 L961.5,2311.2 L961.5,2311.2 C960.1,2312.3 955.5,2316.8 953.0,2317.5 C950.6,2318.2 948.4,2317.4 946.7,2315.4 C944.9,2313.5 943.9,2307.0 942.5,2305.9 C941.1,2304.9 940.4,2308.2 938.2,2309.1 C936.1,2310.0 932.3,2312.1 929.8,2311.2 C927.3,2310.3 925.9,2308.9 923.5,2303.8 C921.0,2298.7 917.8,2286.9 915.0,2280.6 C912.2,2274.3 909.1,2269.3 906.6,2265.8 C904.1,2262.3 902.4,2258.8 900.3,2259.5 C898.1,2260.2 896.4,2266.2 893.9,2270.0 C891.5,2273.9 887.9,2277.1 885.5,2282.7 C883.0,2288.3 881.3,2298.2 879.2,2303.8 C877.0,2309.4 875.3,2314.3 872.8,2316.5 C870.4,2318.7 867.2,2316.2 864.4,2316.9 C861.6,2317.6 857.9,2320.5 855.9,2320.7 C854.0,2320.9 853.3,2318.6 852.8,2318.2 Z" fill="#c4c4c4" stroke="none"/>
<path d="M852.8,2311.0 C853.3,2311.4 854.0,2313.7 855.9,2313.5 C857.9,2313.3 861.6,2310.4 864.4,2309.7 C867.2,2309.0 870.4,2311.5 872.8,2309.3 C875.3,2307.1 877.0,2302.3 879.2,2296.6 C881.3,2291.0 883.0,2281.2 885.5,2275.5 C887.9,2269.9 891.5,2266.7 893.9,2262.9 C896.4,2259.0 898.1,2253.0 900.3,2252.3 C902.4,2251.6 904.1,2255.1 906.6,2258.6 C909.1,2262.2 912.2,2267.1 915.0,2273.4 C917.8,2279.8 921.0,2291.5 923.5,2296.6 C925.9,2301.7 927.3,2303.1 929.8,2304.0 C932.3,2304.9 936.1,2302.8 938.2,2301.9 C940.4,2301.0 941.1,2297.7 942.5,2298.7 C943.9,2299.8 944.9,2306.3 946.7,2308.2 C948.4,2310.2 950.6,2311.1 953.0,2310.4 C955.5,2309.7 960.1,2305.1 961.5,2304.0" fill="none" stroke="#000" stroke-width="1.8"/>
<rect x="624.8" y="2221.7" width="110.4" height="112.9" fill="none" stroke="#e8d4cc" stroke-width="2.9"/>
<rect x="737.7" y="2221.7" width="110.8" height="112.9" fill="none" stroke="#f0b49c" stroke-width="2.9"/>
<rect x="851.7" y="2221.7" width="110.8" height="112.9" fill="none" stroke="#e07060" stroke-width="2.9"/>
<path d="M624.8,2256.5 V2334.6 H671.3" fill="none" stroke="#000" stroke-width="4"/>
<text x="684.0" y="2207.6" font-size="28" text-anchor="middle">min</text>
<text x="806.9" y="2207.6" font-size="28" text-anchor="middle" textLength="118" lengthAdjust="spacingAndGlyphs">"fly white"</text>
<text x="911.3" y="2207.6" font-size="28" text-anchor="middle">max</text>
<text x="748.8" y="2239.6" font-size="26.5" text-anchor="end">n=108</text>
<text x="862.8" y="2239.6" font-size="26.5" text-anchor="end">n=108</text>
<text x="972.5" y="2239.6" font-size="26.5" text-anchor="end">n=80</text>
<text x="622.1" y="2289.6" font-size="31.5" text-anchor="middle" transform="rotate(-90 622.1 2289.6)">1 dF/F</text>
<text x="651.8" y="2357.1" font-size="30" text-anchor="middle">1 s</text>
<text x="790.0" y="2124.8" font-size="30" text-anchor="middle" font-weight="bold" fill="#1a7a86">Tm20-TeNT</text>
<text x="626.1" y="2144.3" font-size="30" text-anchor="start" font-weight="bold">q</text>
<text x="1229.4" y="1909.7" font-size="30" text-anchor="start" font-weight="bold">r</text>
<text x="1348.3" y="1920.7" font-size="26.5" text-anchor="end" font-weight="bold">wt</text>
<text x="1348.3" y="1955.0" font-size="26.5" text-anchor="end" font-weight="bold" fill="#b2b2b2">TeNT</text>
<path d="M1287.7,1977.8 V2245.6 H1568.3" fill="none" stroke="#000" stroke-width="3.4"/>
<line x1="1276.3" y1="2245.6" x2="1287.7" y2="2245.6" stroke="#000" stroke-width="3.4"/>
<text x="1272.8" y="2255.6" font-size="25.5" text-anchor="end">0</text>
<line x1="1276.3" y1="2168.6" x2="1287.7" y2="2168.6" stroke="#000" stroke-width="3.4"/>
<text x="1272.8" y="2178.6" font-size="25.5" text-anchor="end">1</text>
<line x1="1276.3" y1="2092.5" x2="1287.7" y2="2092.5" stroke="#000" stroke-width="3.4"/>
<text x="1272.8" y="2102.5" font-size="25.5" text-anchor="end">2</text>
<line x1="1276.3" y1="2016.4" x2="1287.7" y2="2016.4" stroke="#000" stroke-width="3.4"/>
<text x="1272.8" y="2026.4" font-size="25.5" text-anchor="end">3</text>
<line x1="1277.5" y1="1978.8" x2="1287.7" y2="1978.8" stroke="#000" stroke-width="3.4"/>
<line x1="1277.5" y1="2054.8" x2="1287.7" y2="2054.8" stroke="#000" stroke-width="3.4"/>
<line x1="1277.5" y1="2130.9" x2="1287.7" y2="2130.9" stroke="#000" stroke-width="3.4"/>
<line x1="1277.5" y1="2207.2" x2="1287.7" y2="2207.2" stroke="#000" stroke-width="3.4"/>
<line x1="1321.5" y1="2245.6" x2="1321.5" y2="2257.1" stroke="#000" stroke-width="3.4"/>
<text x="1330.0" y="2323.3" font-size="24.6" text-anchor="start" fill="#a8204e" transform="rotate(-90 1330.0 2323.3)">Tm5a</text>
<line x1="1391.7" y1="2245.6" x2="1391.7" y2="2257.1" stroke="#000" stroke-width="3.4"/>
<text x="1400.2" y="2323.3" font-size="24.6" text-anchor="start" fill="#5a3ccc" transform="rotate(-90 1400.2 2323.3)">Tm5b</text>
<line x1="1462.1" y1="2245.6" x2="1462.1" y2="2257.1" stroke="#000" stroke-width="3.4"/>
<text x="1470.6" y="2323.3" font-size="24.6" text-anchor="start" fill="#111111" transform="rotate(-90 1470.6 2323.3)">Tm5c</text>
<line x1="1532.2" y1="2245.6" x2="1532.2" y2="2257.1" stroke="#000" stroke-width="3.4"/>
<text x="1540.7" y="2323.3" font-size="24.6" text-anchor="start" fill="#1a7a86" transform="rotate(-90 1540.7 2323.3)">Tm20</text>
<text x="1242" y="2101.7" font-size="25.6" text-anchor="middle" transform="rotate(-90 1242 2101.7)"><tspan font-weight="bold">κ</tspan> (hue sensitivity)</text>
<line x1="1316.3" y1="1997.7" x2="1316.3" y2="2022.8" stroke="#000" stroke-width="1.9"/>
<circle cx="1316.3" cy="2010.3" r="5.0" fill="none" stroke="#000" stroke-width="1.9"/>
<line x1="1382.5" y1="2006.2" x2="1382.5" y2="2010.6000000000001" stroke="#000" stroke-width="1.6"/>
<circle cx="1382.5" cy="2008.4" r="5.0" fill="none" stroke="#000" stroke-width="1.9"/>
<line x1="1457.9" y1="2192.7000000000003" x2="1457.9" y2="2197.1" stroke="#000" stroke-width="1.6"/>
<circle cx="1457.9" cy="2194.9" r="5.0" fill="none" stroke="#000" stroke-width="1.9"/>
<line x1="1520.1" y1="2167.6000000000004" x2="1520.1" y2="2172.0" stroke="#000" stroke-width="1.6"/>
<circle cx="1520.1" cy="2169.8" r="5.0" fill="none" stroke="#000" stroke-width="1.9"/>
<line x1="1327" y1="2126.8" x2="1327" y2="2159.3" stroke="#aaaaaa" stroke-width="1.9"/>
<circle cx="1327" cy="2143.3" r="5.25" fill="none" stroke="#aaaaaa" stroke-width="1.6"/>
<line x1="1396.2" y1="2240.7000000000003" x2="1396.2" y2="2245.1" stroke="#aaaaaa" stroke-width="1.6"/>
<circle cx="1396.2" cy="2242.9" r="5.25" fill="none" stroke="#aaaaaa" stroke-width="1.6"/>
<line x1="1469.4" y1="2197.6" x2="1469.4" y2="2214.1" stroke="#aaaaaa" stroke-width="1.9"/>
<circle cx="1469.4" cy="2205.6" r="5.25" fill="none" stroke="#aaaaaa" stroke-width="1.6"/>
<line x1="1536.8" y1="2114.9" x2="1536.8" y2="2148.5" stroke="#aaaaaa" stroke-width="1.9"/>
<circle cx="1536.8" cy="2132.1" r="5.25" fill="none" stroke="#aaaaaa" stroke-width="1.6"/>
<text x="1662.7" y="1909.7" font-size="30" text-anchor="start" font-weight="bold">s</text>
<path d="M1751.4,1938.3 V2239.9 H2001" fill="none" stroke="#000" stroke-width="3.4"/>
<line x1="1737.7" y1="2239.9" x2="1751.4" y2="2239.9" stroke="#000" stroke-width="3.4"/>
<line x1="1737.7" y1="2164.5" x2="1751.4" y2="2164.5" stroke="#000" stroke-width="3.4"/>
<line x1="1737.7" y1="2089.1" x2="1751.4" y2="2089.1" stroke="#000" stroke-width="3.4"/>
<line x1="1737.7" y1="2014.4" x2="1751.4" y2="2014.4" stroke="#000" stroke-width="3.4"/>
<line x1="1737.7" y1="1939" x2="1751.4" y2="1939" stroke="#000" stroke-width="3.4"/>
<text x="1741.5" y="2174.2" font-size="25.5" text-anchor="end">0.2</text>
<text x="1741.5" y="2098.8" font-size="25.5" text-anchor="end">0.4</text>
<text x="1741.5" y="2024.1" font-size="25.5" text-anchor="end">0.6</text>
<text x="1741.5" y="1948.7" font-size="25.5" text-anchor="end">0.8</text>
<text x="1736.8" y="2249.5" font-size="25.5" text-anchor="end">0</text>
<line x1="1737.7" y1="2202.2" x2="1751.4" y2="2202.2" stroke="#000" stroke-width="3.4"/>
<line x1="1737.7" y1="2126.8" x2="1751.4" y2="2126.8" stroke="#000" stroke-width="3.4"/>
<line x1="1737.7" y1="2051.4" x2="1751.4" y2="2051.4" stroke="#000" stroke-width="3.4"/>
<line x1="1737.7" y1="1977.1" x2="1751.4" y2="1977.1" stroke="#000" stroke-width="3.4"/>
<line x1="1783.4" y1="2239.9" x2="1783.4" y2="2251.3" stroke="#000" stroke-width="3.4"/>
<text x="1791.9" y="2323.3" font-size="24.6" text-anchor="start" fill="#a8204e" transform="rotate(-90 1791.9 2323.3)">Tm5a</text>
<line x1="1846.2" y1="2239.9" x2="1846.2" y2="2251.3" stroke="#000" stroke-width="3.4"/>
<text x="1854.7" y="2323.3" font-size="24.6" text-anchor="start" fill="#5a3ccc" transform="rotate(-90 1854.7 2323.3)">Tm5b</text>
<line x1="1909.1" y1="2239.9" x2="1909.1" y2="2251.3" stroke="#000" stroke-width="3.4"/>
<text x="1917.6" y="2323.3" font-size="24.6" text-anchor="start" fill="#111111" transform="rotate(-90 1917.6 2323.3)">Tm5c</text>
<line x1="1971.9" y1="2239.9" x2="1971.9" y2="2251.3" stroke="#000" stroke-width="3.4"/>
<text x="1980.4" y="2323.3" font-size="24.6" text-anchor="start" fill="#1a7a86" transform="rotate(-90 1980.4 2323.3)">Tm20</text>
<text x="1693" y="2085.7" font-size="25.8" text-anchor="middle" transform="rotate(-90 1693 2085.7)"><tspan font-weight="bold">α</tspan> (saturation sensitivity)</text>
<line x1="1781.1" y1="1976.4" x2="1781.1" y2="2007.5" stroke="#000" stroke-width="1.9"/>
<circle cx="1781.1" cy="1992" r="5.0" fill="none" stroke="#000" stroke-width="1.9"/>
<line x1="1844.6" y1="1972.1" x2="1844.6" y2="2023.3" stroke="#000" stroke-width="1.9"/>
<circle cx="1844.6" cy="1997.7" r="5.0" fill="none" stroke="#000" stroke-width="1.9"/>
<line x1="1906.3" y1="2067.0" x2="1906.3" y2="2071.3999999999996" stroke="#000" stroke-width="1.6"/>
<circle cx="1906.3" cy="2069.2" r="5.0" fill="none" stroke="#000" stroke-width="1.9"/>
<line x1="1969.6" y1="2120.4" x2="1969.6" y2="2159.3" stroke="#000" stroke-width="1.9"/>
<circle cx="1969.6" cy="2139.8" r="5.0" fill="none" stroke="#000" stroke-width="1.9"/>
<line x1="1790.7" y1="2093" x2="1790.7" y2="2138.7" stroke="#aaaaaa" stroke-width="1.9"/>
<circle cx="1790.7" cy="2117.7" r="5.25" fill="none" stroke="#aaaaaa" stroke-width="1.6"/>
<line x1="1853.1" y1="2042.9" x2="1853.1" y2="2118.8" stroke="#aaaaaa" stroke-width="1.9"/>
<circle cx="1853.1" cy="2080.6" r="5.25" fill="none" stroke="#aaaaaa" stroke-width="1.6"/>
<line x1="1916.4" y1="2061.7" x2="1916.4" y2="2118.8" stroke="#aaaaaa" stroke-width="1.9"/>
<circle cx="1916.4" cy="2089.8" r="5.25" fill="none" stroke="#aaaaaa" stroke-width="1.6"/>
<line x1="1979.9" y1="1924.6" x2="1979.9" y2="2002.3" stroke="#aaaaaa" stroke-width="1.9"/>
<circle cx="1979.9" cy="1963.4" r="5.25" fill="none" stroke="#aaaaaa" stroke-width="1.6"/>
</svg></body></html>
